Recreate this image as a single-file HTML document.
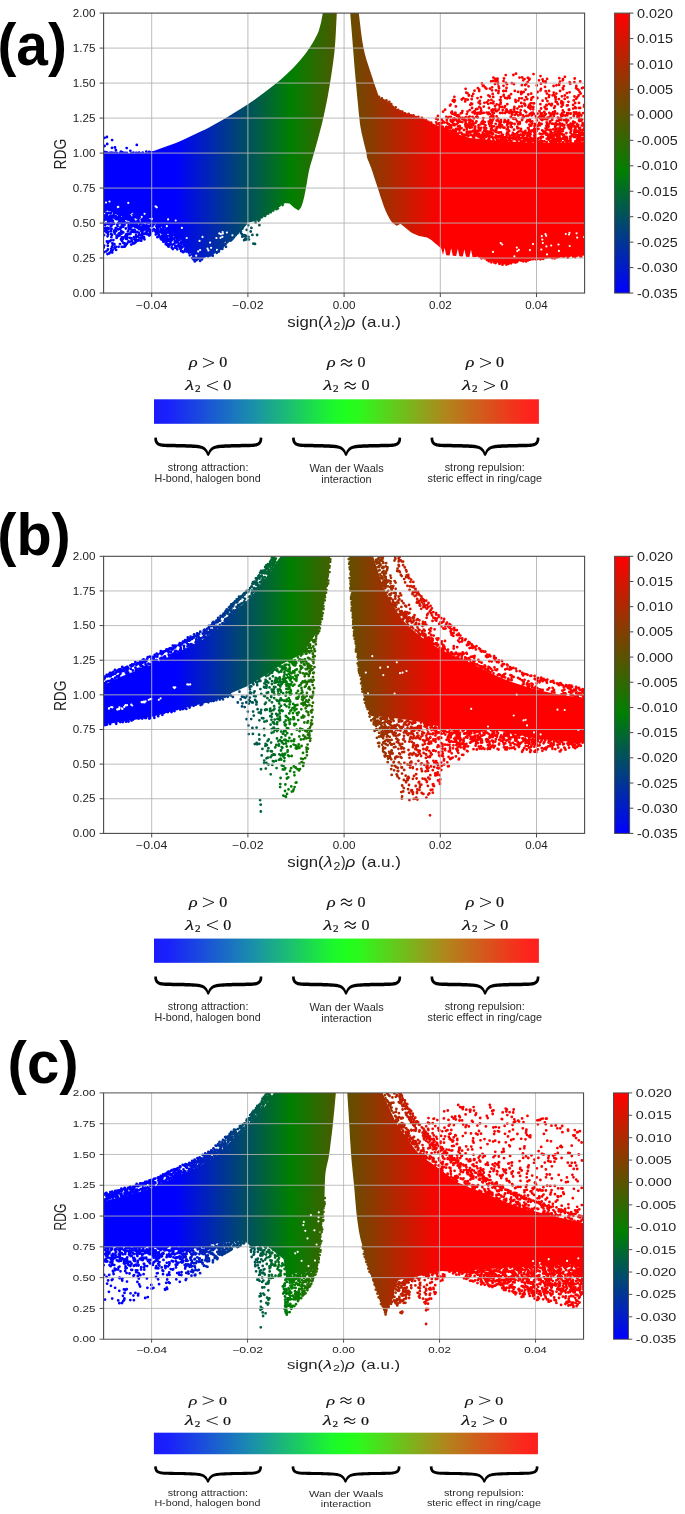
<!DOCTYPE html>
<html><head><meta charset="utf-8"><title>RDG scatter plots</title>
<style>html,body{margin:0;padding:0;background:#fff}svg{display:block;will-change:transform}</style></head><body>
<svg width="685" height="1514" viewBox="0 0 685 1514">
<defs>
<linearGradient id="cm" gradientUnits="userSpaceOnUse" x1="175.8" y1="0" x2="440.3" y2="0"><stop offset="0" stop-color="#0000ff"/><stop offset="0.436" stop-color="#008000"/><stop offset="1" stop-color="#ff0000"/></linearGradient>
<linearGradient id="cbar" x1="0" y1="1" x2="0" y2="0"><stop offset="0" stop-color="#0000ff"/><stop offset="0.436" stop-color="#008000"/><stop offset="1" stop-color="#ff0000"/></linearGradient>
<linearGradient id="lbar" x1="0" y1="0" x2="1" y2="0"><stop offset="0" stop-color="#1a1aff"/><stop offset="0.04" stop-color="#1a22fb"/><stop offset="0.25" stop-color="#1a8cae"/><stop offset="0.465" stop-color="#1cf82c"/><stop offset="0.5" stop-color="#1eff1e"/><stop offset="0.535" stop-color="#2ef81c"/><stop offset="0.75" stop-color="#ac8a1c"/><stop offset="0.96" stop-color="#fb281c"/><stop offset="1" stop-color="#ff1e1e"/></linearGradient>
<clipPath id="clip_a"><rect x="103.6" y="13.1" width="481" height="279.9"/></clipPath>
<clipPath id="clip_b"><rect x="103.6" y="556.3" width="481" height="277.1"/></clipPath>
<clipPath id="clip_c"><rect x="103.6" y="1092.9" width="479.9" height="246.3"/></clipPath>
<g id="deco"><path d="M151.7 13.1V293.05M247.9 13.1V293.05M344.1 13.1V293.05M440.3 13.1V293.05M536.5 13.1V293.05M103.6 258.06H584.6M103.6 223.06H584.6M103.6 188.07H584.6M103.6 153.08H584.6M103.6 118.08H584.6M103.6 83.09H584.6M103.6 48.09H584.6" stroke="#b4b4b4" stroke-width="0.9" fill="none"/>
<rect x="103.6" y="13.1" width="481" height="279.95" fill="none" stroke="#4a4a4a" stroke-width="1.1"/>
<path d="M151.7 293.05v4M247.9 293.05v4M344.1 293.05v4M440.3 293.05v4M536.5 293.05v4M103.6 293.05h-4M103.6 258.06h-4M103.6 223.06h-4M103.6 188.07h-4M103.6 153.08h-4M103.6 118.08h-4M103.6 83.09h-4M103.6 48.09h-4M103.6 13.1h-4" stroke="#4a4a4a" stroke-width="1" fill="none"/>
<text x="95.4" y="296.7" font-size="10" font-family='"Liberation Sans", sans-serif' fill="#222" text-anchor="end" textLength="22.6" lengthAdjust="spacingAndGlyphs" >0.00</text>
<text x="95.4" y="261.7" font-size="10" font-family='"Liberation Sans", sans-serif' fill="#222" text-anchor="end" textLength="22.6" lengthAdjust="spacingAndGlyphs" >0.25</text>
<text x="95.4" y="226.7" font-size="10" font-family='"Liberation Sans", sans-serif' fill="#222" text-anchor="end" textLength="22.6" lengthAdjust="spacingAndGlyphs" >0.50</text>
<text x="95.4" y="191.7" font-size="10" font-family='"Liberation Sans", sans-serif' fill="#222" text-anchor="end" textLength="22.6" lengthAdjust="spacingAndGlyphs" >0.75</text>
<text x="95.4" y="156.7" font-size="10" font-family='"Liberation Sans", sans-serif' fill="#222" text-anchor="end" textLength="22.6" lengthAdjust="spacingAndGlyphs" >1.00</text>
<text x="95.4" y="121.7" font-size="10" font-family='"Liberation Sans", sans-serif' fill="#222" text-anchor="end" textLength="22.6" lengthAdjust="spacingAndGlyphs" >1.25</text>
<text x="95.4" y="86.7" font-size="10" font-family='"Liberation Sans", sans-serif' fill="#222" text-anchor="end" textLength="22.6" lengthAdjust="spacingAndGlyphs" >1.50</text>
<text x="95.4" y="51.7" font-size="10" font-family='"Liberation Sans", sans-serif' fill="#222" text-anchor="end" textLength="22.6" lengthAdjust="spacingAndGlyphs" >1.75</text>
<text x="95.4" y="16.7" font-size="10" font-family='"Liberation Sans", sans-serif' fill="#222" text-anchor="end" textLength="22.6" lengthAdjust="spacingAndGlyphs" >2.00</text>
<text x="151.7" y="308.8" font-size="10" font-family='"Liberation Sans", sans-serif' fill="#222" text-anchor="middle" textLength="31.2" lengthAdjust="spacingAndGlyphs" >−0.04</text>
<text x="247.9" y="308.8" font-size="10" font-family='"Liberation Sans", sans-serif' fill="#222" text-anchor="middle" textLength="31.2" lengthAdjust="spacingAndGlyphs" >−0.02</text>
<text x="344.1" y="308.8" font-size="10" font-family='"Liberation Sans", sans-serif' fill="#222" text-anchor="middle" textLength="22.6" lengthAdjust="spacingAndGlyphs" >0.00</text>
<text x="440.3" y="308.8" font-size="10" font-family='"Liberation Sans", sans-serif' fill="#222" text-anchor="middle" textLength="22.6" lengthAdjust="spacingAndGlyphs" >0.02</text>
<text x="536.5" y="308.8" font-size="10" font-family='"Liberation Sans", sans-serif' fill="#222" text-anchor="middle" textLength="22.6" lengthAdjust="spacingAndGlyphs" >0.04</text>
<g transform="translate(66 169.5) rotate(-90)"><text x="0" y="0" font-size="16" font-family='"Liberation Sans", sans-serif' fill="#222" textLength="30.6" lengthAdjust="spacingAndGlyphs" >RDG</text></g>
<text x="287.3" y="326.8" font-size="14.6" font-family='"Liberation Sans", sans-serif' fill="#222" textLength="36.3" lengthAdjust="spacingAndGlyphs" >sign(</text>
<text x="323.9" y="326.8" font-size="14.6" font-family='"Liberation Sans", sans-serif' fill="#222" font-style="italic" textLength="8.6" lengthAdjust="spacingAndGlyphs" >λ</text>
<text x="333.5" y="329.6" font-size="10.4" font-family='"Liberation Sans", sans-serif' fill="#222" textLength="6.9" lengthAdjust="spacingAndGlyphs" >2</text>
<text x="340.9" y="326.8" font-size="14.6" font-family='"Liberation Sans", sans-serif' fill="#222" textLength="4.6" lengthAdjust="spacingAndGlyphs" >)</text>
<text x="345.6" y="326.8" font-size="14.6" font-family='"Liberation Sans", sans-serif' fill="#222" font-style="italic" textLength="9.8" lengthAdjust="spacingAndGlyphs" >ρ</text>
<text x="361.3" y="326.8" font-size="14.6" font-family='"Liberation Sans", sans-serif' fill="#222" textLength="39.6" lengthAdjust="spacingAndGlyphs" >(a.u.)</text>
<rect x="614.6" y="13.1" width="15.0" height="279.95" fill="url(#cbar)" stroke="#4a4a4a" stroke-width="1"/>
<text x="637" y="17.6" font-size="12.6" font-family='"Liberation Sans", sans-serif' fill="#222" textLength="36" lengthAdjust="spacingAndGlyphs" >0.020</text>
<text x="637" y="43.1" font-size="12.6" font-family='"Liberation Sans", sans-serif' fill="#222" textLength="36" lengthAdjust="spacingAndGlyphs" >0.015</text>
<text x="637" y="68.5" font-size="12.6" font-family='"Liberation Sans", sans-serif' fill="#222" textLength="36" lengthAdjust="spacingAndGlyphs" >0.010</text>
<text x="637" y="93.9" font-size="12.6" font-family='"Liberation Sans", sans-serif' fill="#222" textLength="36" lengthAdjust="spacingAndGlyphs" >0.005</text>
<text x="637" y="119.4" font-size="12.6" font-family='"Liberation Sans", sans-serif' fill="#222" textLength="36" lengthAdjust="spacingAndGlyphs" >0.000</text>
<text x="637" y="144.8" font-size="12.6" font-family='"Liberation Sans", sans-serif' fill="#222" textLength="40.6" lengthAdjust="spacingAndGlyphs" >-0.005</text>
<text x="637" y="170.3" font-size="12.6" font-family='"Liberation Sans", sans-serif' fill="#222" textLength="40.6" lengthAdjust="spacingAndGlyphs" >-0.010</text>
<text x="637" y="195.8" font-size="12.6" font-family='"Liberation Sans", sans-serif' fill="#222" textLength="40.6" lengthAdjust="spacingAndGlyphs" >-0.015</text>
<text x="637" y="221.2" font-size="12.6" font-family='"Liberation Sans", sans-serif' fill="#222" textLength="40.6" lengthAdjust="spacingAndGlyphs" >-0.020</text>
<text x="637" y="246.6" font-size="12.6" font-family='"Liberation Sans", sans-serif' fill="#222" textLength="40.6" lengthAdjust="spacingAndGlyphs" >-0.025</text>
<text x="637" y="272.1" font-size="12.6" font-family='"Liberation Sans", sans-serif' fill="#222" textLength="40.6" lengthAdjust="spacingAndGlyphs" >-0.030</text>
<text x="637" y="297.6" font-size="12.6" font-family='"Liberation Sans", sans-serif' fill="#222" textLength="40.6" lengthAdjust="spacingAndGlyphs" >-0.035</text>
<path d="M629.6 13.1h3.8M629.6 38.55h3.8M629.6 64h3.8M629.6 89.45h3.8M629.6 114.9h3.8M629.6 140.35h3.8M629.6 165.8h3.8M629.6 191.25h3.8M629.6 216.7h3.8M629.6 242.15h3.8M629.6 267.6h3.8M629.6 293.05h3.8" stroke="#4a4a4a" stroke-width="1" fill="none"/>
<rect x="154" y="399.3" width="384.9" height="24.5" fill="url(#lbar)"/>
<text x="189" y="367.4" font-size="15" font-family='"Liberation Serif", serif' fill="#111" font-style="italic" textLength="8.6" lengthAdjust="spacingAndGlyphs" stroke="#111" stroke-width="0.14">ρ</text>
<path d="M202.9 358.3L213.9 362.8L202.9 367.3" fill="none" stroke="#111" stroke-width="0.95" stroke-linejoin="miter"/>
<text x="219.3" y="367.4" font-size="14.2" font-family='"Liberation Serif", serif' fill="#111" textLength="8" lengthAdjust="spacingAndGlyphs" stroke="#111" stroke-width="0.2">0</text>
<text x="184.9" y="390.3" font-size="15.5" font-family='"Liberation Serif", serif' fill="#111" font-style="italic" textLength="9.2" lengthAdjust="spacingAndGlyphs" stroke="#111" stroke-width="0.14">λ</text>
<text x="194.9" y="392.4" font-size="10.2" font-family='"Liberation Serif", serif' fill="#111" textLength="5.6" lengthAdjust="spacingAndGlyphs" stroke="#111" stroke-width="0.2">2</text>
<path d="M218 381.2L207 385.7L218 390.2" fill="none" stroke="#111" stroke-width="0.95" stroke-linejoin="miter"/>
<text x="223.2" y="390.3" font-size="14.2" font-family='"Liberation Serif", serif' fill="#111" textLength="8" lengthAdjust="spacingAndGlyphs" stroke="#111" stroke-width="0.2">0</text>
<text x="326.9" y="367.4" font-size="15" font-family='"Liberation Serif", serif' fill="#111" font-style="italic" textLength="8.6" lengthAdjust="spacingAndGlyphs" stroke="#111" stroke-width="0.14">ρ</text>
<path d="M341 361.70C342.60 358.90 344.90 359.10 346.50 360.80S350.40 362.70 352.00 359.90M341 365.70C342.60 362.90 344.90 363.10 346.50 364.80S350.40 366.70 352.00 363.90" fill="none" stroke="#111" stroke-width="1.2" stroke-linejoin="miter"/>
<text x="357.5" y="367.4" font-size="14.2" font-family='"Liberation Serif", serif' fill="#111" textLength="8" lengthAdjust="spacingAndGlyphs" stroke="#111" stroke-width="0.2">0</text>
<text x="323.2" y="390.3" font-size="15.5" font-family='"Liberation Serif", serif' fill="#111" font-style="italic" textLength="9.2" lengthAdjust="spacingAndGlyphs" stroke="#111" stroke-width="0.14">λ</text>
<text x="333" y="392.4" font-size="10.2" font-family='"Liberation Serif", serif' fill="#111" textLength="5.6" lengthAdjust="spacingAndGlyphs" stroke="#111" stroke-width="0.2">2</text>
<path d="M344.7 384.60C346.30 381.80 348.60 382.00 350.20 383.70S354.10 385.60 355.70 382.80M344.7 388.60C346.30 385.80 348.60 386.00 350.20 387.70S354.10 389.60 355.70 386.80" fill="none" stroke="#111" stroke-width="1.2" stroke-linejoin="miter"/>
<text x="361.6" y="390.3" font-size="14.2" font-family='"Liberation Serif", serif' fill="#111" textLength="8" lengthAdjust="spacingAndGlyphs" stroke="#111" stroke-width="0.2">0</text>
<text x="465.7" y="367.4" font-size="15" font-family='"Liberation Serif", serif' fill="#111" font-style="italic" textLength="8.6" lengthAdjust="spacingAndGlyphs" stroke="#111" stroke-width="0.14">ρ</text>
<path d="M480 358.3L491 362.8L480 367.3" fill="none" stroke="#111" stroke-width="0.95" stroke-linejoin="miter"/>
<text x="496.1" y="367.4" font-size="14.2" font-family='"Liberation Serif", serif' fill="#111" textLength="8" lengthAdjust="spacingAndGlyphs" stroke="#111" stroke-width="0.2">0</text>
<text x="462" y="390.3" font-size="15.5" font-family='"Liberation Serif", serif' fill="#111" font-style="italic" textLength="9.2" lengthAdjust="spacingAndGlyphs" stroke="#111" stroke-width="0.14">λ</text>
<text x="471.9" y="392.4" font-size="10.2" font-family='"Liberation Serif", serif' fill="#111" textLength="5.6" lengthAdjust="spacingAndGlyphs" stroke="#111" stroke-width="0.2">2</text>
<path d="M483.9 381.2L494.9 385.7L483.9 390.2" fill="none" stroke="#111" stroke-width="0.95" stroke-linejoin="miter"/>
<text x="500.2" y="390.3" font-size="14.2" font-family='"Liberation Serif", serif' fill="#111" textLength="8" lengthAdjust="spacingAndGlyphs" stroke="#111" stroke-width="0.2">0</text>
<path d="M154.30 437.67L154.31 437.98L154.30 438.43L154.31 439.00L154.34 439.65L154.41 440.33L154.56 440.99L154.73 441.57L154.93 442.14L155.20 442.75L155.54 443.37L155.98 443.99L156.53 444.54L157.11 445.01L157.73 445.42L158.42 445.79L159.19 446.11L160.04 446.39L160.99 446.62L162.03 446.81L163.12 446.94L164.29 447.04L165.55 447.12L166.92 447.19L168.45 447.25L170.25 447.31L172.35 447.35L174.57 447.37L176.77 447.40L178.78 447.42L180.46 447.45L181.72 447.48L182.65 447.51L183.41 447.53L184.14 447.56L185.00 447.60L186.13 447.65L187.60 447.70L189.31 447.77L191.14 447.83L192.95 447.91L194.63 448.00L196.05 448.09L197.21 448.20L198.21 448.30L199.08 448.41L199.84 448.54L200.53 448.69L201.19 448.86L201.79 449.06L202.32 449.28L202.79 449.52L203.24 449.78L203.67 450.08L204.08 450.39L204.45 450.71L204.79 451.05L205.11 451.42L205.42 451.83L205.73 452.27L206.01 452.67L206.27 453.13L206.55 453.74L206.82 454.41L207.09 455.04L207.39 455.61L208.20 456.10L209.01 455.61L209.31 455.04L209.58 454.41L209.85 453.74L210.13 453.13L210.39 452.67L210.67 452.27L210.98 451.83L211.29 451.42L211.61 451.05L211.95 450.71L212.32 450.39L212.73 450.08L213.16 449.78L213.61 449.52L214.08 449.28L214.61 449.06L215.21 448.86L215.87 448.69L216.56 448.54L217.32 448.41L218.19 448.30L219.19 448.20L220.35 448.09L221.77 447.99L223.44 447.91L225.25 447.83L227.07 447.77L228.79 447.70L230.27 447.65L231.43 447.60L232.32 447.56L233.09 447.53L233.88 447.51L234.85 447.48L236.13 447.45L237.83 447.42L239.85 447.40L242.04 447.37L244.26 447.35L246.35 447.31L248.15 447.25L249.68 447.19L251.05 447.12L252.31 447.04L253.48 446.94L254.57 446.81L255.61 446.62L256.56 446.39L257.41 446.11L258.18 445.79L258.87 445.42L259.49 445.01L260.07 444.54L260.62 443.99L261.06 443.37L261.40 442.75L261.67 442.14L261.87 441.57L262.04 440.99L262.19 440.33L262.26 439.65L262.29 439.00L262.30 438.43L262.29 437.98L262.30 437.67L259.70 437.53L259.67 437.88L259.65 438.34L259.61 438.85L259.55 439.36L259.47 439.82L259.36 440.21L259.20 440.61L259.02 441.04L258.83 441.42L258.63 441.75L258.40 442.02L258.13 442.26L257.78 442.49L257.38 442.71L256.92 442.90L256.39 443.07L255.75 443.23L254.99 443.38L254.13 443.49L253.18 443.57L252.11 443.63L250.91 443.67L249.55 443.71L248.05 443.75L246.27 443.80L244.20 443.83L242.00 443.86L239.80 443.89L237.78 443.92L236.07 443.95L234.77 443.98L233.78 444.00L232.96 444.03L232.17 444.06L231.27 444.10L230.13 444.15L228.65 444.22L226.94 444.29L225.10 444.37L223.26 444.46L221.54 444.57L220.05 444.71L218.80 444.86L217.72 445.02L216.74 445.20L215.85 445.41L215.01 445.65L214.19 445.94L213.41 446.27L212.69 446.65L212.05 447.06L211.48 447.49L210.97 447.94L210.48 448.41L210.02 448.93L209.60 449.47L209.25 450.03L208.94 450.58L208.67 451.14L208.41 451.73L208.18 452.43L208.03 453.21L207.92 453.94L207.83 454.54L207.77 454.86L208.20 454.70L208.63 454.86L208.57 454.54L208.48 453.94L208.37 453.21L208.22 452.43L207.99 451.73L207.73 451.14L207.46 450.58L207.15 450.03L206.80 449.47L206.38 448.93L205.92 448.41L205.43 447.94L204.92 447.49L204.35 447.06L203.71 446.65L202.99 446.27L202.21 445.94L201.39 445.65L200.55 445.41L199.66 445.20L198.68 445.02L197.60 444.86L196.35 444.71L194.86 444.57L193.13 444.46L191.29 444.37L189.45 444.29L187.74 444.22L186.27 444.15L185.15 444.10L184.29 444.06L183.54 444.03L182.76 444.00L181.81 443.98L180.54 443.95L178.84 443.92L176.81 443.89L174.62 443.86L172.41 443.83L170.34 443.80L168.55 443.75L167.05 443.71L165.69 443.67L164.49 443.63L163.42 443.57L162.47 443.49L161.61 443.38L160.85 443.23L160.21 443.07L159.68 442.90L159.22 442.71L158.82 442.49L158.47 442.26L158.20 442.02L157.97 441.75L157.77 441.42L157.58 441.04L157.40 440.61L157.24 440.21L157.13 439.82L157.05 439.36L156.99 438.85L156.95 438.34L156.93 437.88L156.90 437.53Z" fill="#000"/>
<path d="M292.10 437.67L292.11 437.98L292.10 438.43L292.11 439.00L292.14 439.65L292.21 440.33L292.36 440.99L292.53 441.57L292.73 442.14L293.00 442.75L293.34 443.37L293.78 443.99L294.33 444.54L294.91 445.01L295.53 445.42L296.22 445.79L296.99 446.11L297.84 446.39L298.79 446.62L299.83 446.81L300.92 446.94L302.09 447.04L303.35 447.12L304.72 447.19L306.25 447.25L308.05 447.31L310.15 447.35L312.37 447.37L314.57 447.40L316.58 447.42L318.26 447.45L319.52 447.48L320.45 447.51L321.21 447.53L321.94 447.56L322.80 447.60L323.93 447.65L325.40 447.70L327.11 447.77L328.94 447.83L330.75 447.91L332.43 448.00L333.85 448.09L335.01 448.20L336.01 448.30L336.88 448.41L337.64 448.54L338.33 448.69L338.99 448.86L339.59 449.06L340.12 449.28L340.59 449.52L341.04 449.78L341.47 450.08L341.88 450.39L342.25 450.71L342.59 451.05L342.91 451.42L343.22 451.83L343.53 452.27L343.81 452.67L344.07 453.13L344.35 453.74L344.62 454.41L344.89 455.04L345.19 455.61L346.00 456.10L346.81 455.61L347.11 455.04L347.38 454.41L347.65 453.74L347.93 453.13L348.19 452.67L348.47 452.27L348.78 451.83L349.09 451.42L349.41 451.05L349.75 450.71L350.12 450.39L350.53 450.08L350.96 449.78L351.41 449.52L351.88 449.28L352.41 449.06L353.01 448.86L353.67 448.69L354.36 448.54L355.12 448.41L355.99 448.30L356.99 448.20L358.15 448.09L359.56 447.99L361.21 447.91L362.99 447.83L364.80 447.77L366.53 447.70L368.07 447.65L369.34 447.60L370.40 447.56L371.37 447.53L372.38 447.51L373.53 447.48L374.93 447.45L376.69 447.42L378.72 447.40L380.90 447.37L383.09 447.35L385.16 447.31L386.96 447.25L388.48 447.19L389.85 447.12L391.11 447.04L392.28 446.94L393.37 446.81L394.41 446.62L395.36 446.39L396.21 446.11L396.98 445.79L397.67 445.42L398.29 445.01L398.87 444.54L399.42 443.99L399.86 443.37L400.20 442.75L400.47 442.14L400.67 441.57L400.84 440.99L400.99 440.33L401.06 439.65L401.09 439.00L401.10 438.43L401.09 437.98L401.10 437.67L398.50 437.53L398.47 437.88L398.45 438.34L398.41 438.85L398.35 439.36L398.27 439.82L398.16 440.21L398.00 440.61L397.82 441.04L397.63 441.42L397.43 441.75L397.20 442.02L396.93 442.26L396.58 442.49L396.18 442.71L395.72 442.90L395.19 443.07L394.55 443.23L393.79 443.38L392.93 443.49L391.98 443.57L390.91 443.63L389.71 443.67L388.35 443.71L386.84 443.75L385.08 443.80L383.04 443.83L380.86 443.86L378.68 443.89L376.63 443.92L374.87 443.95L373.45 443.98L372.30 444.00L371.28 444.03L370.28 444.06L369.20 444.10L367.93 444.15L366.39 444.22L364.66 444.29L362.84 444.37L361.02 444.46L359.32 444.57L357.85 444.71L356.60 444.86L355.52 445.02L354.54 445.20L353.65 445.41L352.81 445.65L351.99 445.94L351.21 446.27L350.49 446.65L349.85 447.06L349.28 447.49L348.77 447.94L348.28 448.41L347.82 448.93L347.40 449.47L347.05 450.03L346.74 450.58L346.47 451.14L346.21 451.73L345.98 452.43L345.83 453.21L345.72 453.94L345.63 454.54L345.57 454.86L346.00 454.70L346.43 454.86L346.37 454.54L346.28 453.94L346.17 453.21L346.02 452.43L345.79 451.73L345.53 451.14L345.26 450.58L344.95 450.03L344.60 449.47L344.18 448.93L343.72 448.41L343.23 447.94L342.72 447.49L342.15 447.06L341.51 446.65L340.79 446.27L340.01 445.94L339.19 445.65L338.35 445.41L337.46 445.20L336.48 445.02L335.40 444.86L334.15 444.71L332.66 444.57L330.93 444.46L329.09 444.37L327.25 444.29L325.54 444.22L324.07 444.15L322.95 444.10L322.09 444.06L321.34 444.03L320.56 444.00L319.61 443.98L318.34 443.95L316.64 443.92L314.61 443.89L312.42 443.86L310.21 443.83L308.14 443.80L306.35 443.75L304.85 443.71L303.49 443.67L302.29 443.63L301.22 443.57L300.27 443.49L299.41 443.38L298.65 443.23L298.01 443.07L297.48 442.90L297.02 442.71L296.62 442.49L296.27 442.26L296.00 442.02L295.77 441.75L295.57 441.42L295.38 441.04L295.20 440.61L295.04 440.21L294.93 439.82L294.85 439.36L294.79 438.85L294.75 438.34L294.73 437.88L294.70 437.53Z" fill="#000"/>
<path d="M430.60 437.67L430.61 437.98L430.60 438.43L430.61 439.00L430.64 439.65L430.71 440.33L430.86 440.99L431.03 441.57L431.23 442.14L431.50 442.75L431.84 443.37L432.28 443.99L432.83 444.54L433.41 445.01L434.03 445.42L434.72 445.79L435.49 446.11L436.34 446.39L437.29 446.62L438.33 446.81L439.42 446.94L440.59 447.04L441.85 447.12L443.22 447.19L444.74 447.25L446.55 447.31L448.63 447.35L450.83 447.37L453.02 447.40L455.05 447.42L456.77 447.45L458.10 447.48L459.14 447.51L460.02 447.53L460.87 447.56L461.83 447.60L463.03 447.65L464.54 447.70L466.26 447.77L468.07 447.83L469.87 447.91L471.53 447.99L472.95 448.09L474.11 448.20L475.11 448.30L475.98 448.41L476.74 448.54L477.43 448.69L478.09 448.86L478.69 449.06L479.22 449.28L479.69 449.52L480.14 449.78L480.57 450.08L480.98 450.39L481.35 450.71L481.69 451.05L482.01 451.42L482.32 451.83L482.63 452.27L482.91 452.67L483.17 453.13L483.45 453.74L483.72 454.41L483.99 455.04L484.29 455.61L485.10 456.10L485.91 455.61L486.21 455.04L486.48 454.41L486.75 453.74L487.03 453.13L487.29 452.67L487.57 452.27L487.88 451.83L488.19 451.42L488.51 451.05L488.85 450.71L489.22 450.39L489.63 450.08L490.06 449.78L490.51 449.52L490.98 449.28L491.51 449.06L492.11 448.86L492.77 448.69L493.46 448.54L494.22 448.41L495.09 448.30L496.09 448.20L497.25 448.09L498.67 447.99L500.33 447.91L502.14 447.83L503.96 447.77L505.68 447.70L507.17 447.65L508.35 447.60L509.27 447.56L510.08 447.53L510.92 447.51L511.93 447.48L513.23 447.45L514.94 447.42L516.96 447.40L519.15 447.37L521.36 447.35L523.45 447.31L525.25 447.25L526.78 447.19L528.15 447.12L529.41 447.04L530.58 446.94L531.67 446.81L532.71 446.62L533.66 446.39L534.51 446.11L535.28 445.79L535.97 445.42L536.59 445.01L537.17 444.54L537.72 443.99L538.16 443.37L538.50 442.75L538.77 442.14L538.97 441.57L539.14 440.99L539.29 440.33L539.36 439.65L539.39 439.00L539.40 438.43L539.39 437.98L539.40 437.67L536.80 437.53L536.77 437.88L536.75 438.34L536.71 438.85L536.65 439.36L536.57 439.82L536.46 440.21L536.30 440.61L536.12 441.04L535.93 441.42L535.73 441.75L535.50 442.02L535.23 442.26L534.88 442.49L534.48 442.71L534.02 442.90L533.49 443.07L532.85 443.23L532.09 443.38L531.23 443.49L530.28 443.57L529.21 443.63L528.01 443.67L526.65 443.71L525.15 443.75L523.37 443.80L521.31 443.83L519.11 443.86L516.92 443.89L514.89 443.92L513.17 443.95L511.85 443.98L510.83 444.00L509.97 444.03L509.14 444.06L508.20 444.10L507.03 444.15L505.54 444.22L503.82 444.29L501.99 444.37L500.15 444.46L498.43 444.57L496.95 444.71L495.70 444.86L494.62 445.02L493.64 445.20L492.75 445.41L491.91 445.65L491.09 445.94L490.31 446.27L489.59 446.65L488.95 447.06L488.38 447.49L487.87 447.94L487.38 448.41L486.92 448.93L486.50 449.47L486.15 450.03L485.84 450.58L485.57 451.14L485.31 451.73L485.08 452.43L484.93 453.21L484.82 453.94L484.73 454.54L484.67 454.86L485.10 454.70L485.53 454.86L485.47 454.54L485.38 453.94L485.27 453.21L485.12 452.43L484.89 451.73L484.63 451.14L484.36 450.58L484.05 450.03L483.70 449.47L483.28 448.93L482.82 448.41L482.33 447.94L481.82 447.49L481.25 447.06L480.61 446.65L479.89 446.27L479.11 445.94L478.29 445.65L477.45 445.41L476.56 445.20L475.58 445.02L474.50 444.86L473.25 444.71L471.77 444.57L470.05 444.46L468.23 444.37L466.39 444.29L464.67 444.22L463.17 444.15L461.97 444.10L461.00 444.06L460.13 444.03L459.23 444.00L458.18 443.98L456.83 443.95L455.10 443.92L453.07 443.89L450.88 443.86L448.68 443.83L446.63 443.80L444.86 443.75L443.35 443.71L441.99 443.67L440.79 443.63L439.72 443.57L438.77 443.49L437.91 443.38L437.15 443.23L436.51 443.07L435.98 442.90L435.52 442.71L435.12 442.49L434.77 442.26L434.50 442.02L434.27 441.75L434.07 441.42L433.88 441.04L433.70 440.61L433.54 440.21L433.43 439.82L433.35 439.36L433.29 438.85L433.25 438.34L433.23 437.88L433.20 437.53Z" fill="#000"/>
<text x="208.1" y="471.1" font-size="10.7" font-family='"Liberation Sans", sans-serif' fill="#2a2a2a" text-anchor="middle" textLength="80.6" lengthAdjust="spacingAndGlyphs" >strong attraction:</text>
<text x="207.6" y="482.3" font-size="10.7" font-family='"Liberation Sans", sans-serif' fill="#2a2a2a" text-anchor="middle" textLength="106.2" lengthAdjust="spacingAndGlyphs" >H-bond, halogen bond</text>
<text x="346.6" y="472.1" font-size="10.7" font-family='"Liberation Sans", sans-serif' fill="#2a2a2a" text-anchor="middle" textLength="74.4" lengthAdjust="spacingAndGlyphs" >Wan der Waals</text>
<text x="346.5" y="483.4" font-size="10.7" font-family='"Liberation Sans", sans-serif' fill="#2a2a2a" text-anchor="middle" textLength="50.3" lengthAdjust="spacingAndGlyphs" >interaction</text>
<text x="484.8" y="471.1" font-size="10.7" font-family='"Liberation Sans", sans-serif' fill="#2a2a2a" text-anchor="middle" textLength="80.2" lengthAdjust="spacingAndGlyphs" >strong repulsion:</text>
<text x="484.8" y="482.3" font-size="10.7" font-family='"Liberation Sans", sans-serif' fill="#2a2a2a" text-anchor="middle" textLength="114.4" lengthAdjust="spacingAndGlyphs" >steric effect in ring/cage</text></g>
</defs>
<rect width="685" height="1514" fill="#fff"/>
<text x="-2.6" y="65.3" font-size="59.5" font-family='"Liberation Sans", sans-serif' fill="#000" font-weight="bold" textLength="69.5" lengthAdjust="spacingAndGlyphs" >(a)</text>
<text x="-2.8" y="554.6" font-size="59.5" font-family='"Liberation Sans", sans-serif' fill="#000" font-weight="bold" textLength="73.6" lengthAdjust="spacingAndGlyphs" >(b)</text>
<text x="7.6" y="1082.7" font-size="59.5" font-family='"Liberation Sans", sans-serif' fill="#000" font-weight="bold" textLength="71" lengthAdjust="spacingAndGlyphs" >(c)</text>
<g clip-path="url(#clip_a)">
<path d="M103.6 152.5L140 153.5L151.6 151.6L155 150.4L159.8 148.7L165.4 146.8L171 144.8L175.9 142.9L180 141.2L183.9 139.5L187.6 137.8L191.2 136.1L194.9 134.3L198.5 132.6L201.8 131.1L205.2 129.4L209.1 127.4L213.9 124.8L219.8 121.4L226.7 117.4L233.9 113.1L241.2 108.6L247.9 104.3L254.2 100L260.3 95.6L266.3 91.1L271.8 86.8L276.9 82.7L281.4 78.9L285.5 75.3L289.2 71.8L292.6 68.4L295.9 65L299 61.6L301.8 58.3L304.4 55L306.9 51.7L309.2 48.3L311.4 44.9L313.5 41.6L315.4 38.1L317.2 34.6L318.7 30.9L320 26.6L321.2 21.8L322.1 17.1L322.8 13L323.4 10.1L336.9 10.1L336.7 15.3L336.3 22.7L335.9 31.3L335.4 40L334.8 48L334.1 55.1L333.2 62.1L332.2 69L331.2 75.8L330.1 82.7L328.9 89.7L327.7 96.7L326.3 103.7L324.9 110.6L323.4 117.6L321.7 124.8L319.7 132.2L317.8 139.5L315.9 146.2L314.3 152L313 156.6L311.9 160.2L310.9 163.2L310.1 166.3L309.2 169.7L308.4 173.7L307.6 178.1L306.9 182.4L306.2 186.5L305.6 190L305 192.9L304.5 195.3L304.1 197.4L303.6 199.2L303.2 201L302.7 202.7L302.2 204.2L301.7 205.6L301.3 206.7L301 207.5L298.6 210.6L294.5 208L289.5 203.5L284 203L276.9 208.5L265.5 215.5L258 220.5L248.5 222.5L243 229L236 236L228 243L221.6 249.5L213.9 254L205 257.5L194.9 261.5L190 253L184 243L172 232L151.6 222L130 214L103.6 210Z" fill="url(#cm)"/>
<path d="M350 10.1L350.4 15.3L351 22.7L351.7 31.3L352.4 40L353 48L353.6 55.1L354.1 62.1L354.7 69L355.3 75.8L355.9 82.7L356.6 90.1L357.3 97.8L358.1 105.4L358.7 112.2L359.3 117.6L359.7 121.2L359.9 123.3L360.1 124.6L360.3 125.9L360.6 127.7L361.1 130.2L361.6 132.9L362.3 135.7L362.9 138.4L363.5 141L364.1 143.5L364.7 145.9L365.3 148.3L365.9 150.4L366.3 152.3L366.6 153.8L366.7 154.9L366.8 155.9L366.9 157L367.3 158.3L367.8 159.8L368.5 161.3L369.2 163.1L370.1 165.2L371.1 167.8L372.2 171.1L373.5 175L374.9 179.2L376.3 183.6L377.7 187.7L379 191.8L380.3 196L381.7 200.1L383 204L384.3 207.6L385.6 210.8L387 213.8L388.4 216.5L389.7 218.9L391 220.9L392.3 222.5L393.6 223.7L394.9 224.5L395.9 225.2L396.7 225.7L400.5 223.8L410.9 232.3L411.9 232.8L413.3 233.5L415 234.3L416.7 235L418.5 235.7L420.3 236.2L422.3 236.5L424.2 236.9L426.2 237.3L428 238L429.7 238.9L431.3 240.1L432.8 241.3L434.2 242.6L435.6 243.7L437 244.8L438.3 245.9L439.5 246.9L440.6 247.8L441.3 248.4L443 255L444.6 247.8L446.2 255.3L449.6 255.5L451.2 248.3L452.8 255.8L456.2 255.9L457.8 248.7L459.4 256.2L462.8 256.4L464.4 249.2L466 256.7L469.4 256.9L471 249.7L472.6 257.2L480 256.5L490.5 261.3L504.3 264.6L520 261.3L536.8 258.9L553.5 257.7L584.6 255.4L584.6 142L540 143L500 141L470 138L450 132L440 126.5L431.8 122.9L418.5 117.2L398.6 110.6L388.1 101.7L379 97.3L378.1 94.6L376.8 90.8L375.2 86.3L373.6 81.4L372 76.4L370.3 71.4L368.5 66L366.7 60.4L365 54.4L363.5 48L362.2 40.4L361 31.7L360 23L359.1 15.4L358.5 10.1Z" fill="url(#cm)"/>
<path d="M217 249.9h0M216.4 238h0M199.5 240.9h0M211.1 247.8h0M198.2 251.4h0M186.7 238h0M220.5 237.8h0M196.2 255.7h0M220.9 234.2h0M219.3 233.4h0M222.9 233.6h0M222.6 232h0M232.4 235.3h0M207.5 248.6h0M222.4 236.8h0M208.4 250.4h0M200.1 250h0M226.9 232.5h0M210.1 242.6h0M225.6 242.9h0M247.9 223.7h0M202.5 236.9h0M155.6 206.4h0M117.8 207.1h0M132.9 215.9h0M132.4 213.8h0M109.5 201.5h0M156.8 207.3h0M150 219.4h0M166.8 226.2h0M106 202.5h0M128.3 202.9h0M118.3 206.9h0M181.9 227.9h0M151.9 218.9h0M175.7 220.5h0M141.7 216.9h0M168.1 219.4h0M144.6 213.8h0M576.6 233.3h0M546.2 235.8h0M584.1 237.1h0M565.8 234h0M541.8 236.2h0M533 244.1h0M529.9 250.1h0M551.2 245.5h0M542.3 239.6h0M545.5 234.2h0M541.3 249.5h0M569 234.5h0M546.4 246.4h0M558.5 244.5h0M542.8 243h0M547 254.4h0M569.7 246h0M569.5 232.8h0M577.2 237.6h0M558.9 250.9h0M514.4 256.3h0M502.2 244.5h0M516.8 247.6h0M493 251.9h0M518.8 249.8h0M517.3 251.1h0M500.7 243.1h0" stroke="#fff" stroke-width="2.20" stroke-linecap="round" fill="none"/>
<path d="M171.9 233.1h0M174.7 234.5h0M175.4 236.3h0M176.3 237.6h0M179 239.9h0M179.4 240.2h0M181.1 243h0M184.2 242.7h0M186.1 246.8h0M186.5 247.9h0M186.5 248.4h0M188.6 250.4h0M188.9 252.8h0M189.8 255.3h0M192.1 258.1h0M193.5 259.4h0M194.8 261.4h0M196.7 260h0M200.1 260.9h0M201.9 259.4h0M202.8 257.5h0M204.8 256.3h0M208.1 256.3h0M210.4 255.4h0M212.8 255.7h0M212.6 253.3h0M216.8 252.8h0M218.9 251.5h0M218.7 250.9h0M222.3 248.9h0M222.3 247.4h0M226 246.8h0M225.5 244h0M227.1 241.9h0M230.5 240.7h0M231.6 239.8h0M232.4 239h0M234 237.3h0M235.6 235.2h0M237.5 233.3h0M240.9 232.9h0M240.9 231.5h0M242.3 228.7h0M258.6 220.7h0M259.5 219.8h0M261.9 217.2h0M265 215.9h0M266.4 214.1h0M268.3 213.5h0M270.8 212.2h0M273.2 210.6h0M276.4 209.2h0M277.9 208.4h0M279.4 205.6h0M282.6 205.1h0M283.6 202.5h0M139.1 152.7h0M113 152.9h0M105.5 153.2h0M115 147.5h0M115.9 150.1h0M112 147.8h0M106.9 137h0M130.4 150.8h0M104.4 137.9h0M112.1 140.1h0M121 151.6h0M136.8 144.9h0M104.5 152h0M137.2 153.2h0M104.6 146h0M126.7 148.1h0M118.9 154h0M107.2 144h0M104.1 152.8h0M106.7 152.5h0M109.5 153h0M111.3 152.6h0M115.1 153h0M116.8 152.9h0M120.4 152.6h0M122.6 152.3h0M125.1 152.8h0M126.8 152.9h0M131.3 153.5h0M133.4 152.6h0M136.1 153h0M138.2 153.6h0M140.2 153.4h0M142.7 152.7h0M146.3 151.6h0M149.3 151.8h0M151.8 152.3h0M129.6 241.9h0M131.8 241.3h0M182.6 251.7h0M154 224.3h0M127.5 217.2h0M127.4 219.4h0M157.7 233h0M106.3 251.3h0M164.8 236.7h0M115.3 231.1h0M115.8 211.3h0M119.1 222.2h0M163.8 234.2h0M170 232.6h0M115.7 216.2h0M111 219.7h0M152 224.1h0M131 218.3h0M120.4 220h0M112.7 244.4h0M147.7 221.2h0M149.4 230.2h0M139.3 234.7h0M105.1 218.7h0M119.9 212.4h0M140.8 238.1h0M138.6 218.5h0M180.8 247.9h0M178 239.5h0M133.1 231.7h0M160.6 236.6h0M125.8 228.5h0M120.5 227.2h0M107.5 254.1h0M135.2 222.9h0M152 222.8h0M181.1 245.3h0M174.2 238.3h0M157.5 231.1h0M108.1 234.6h0M143 221.7h0M171.4 239.3h0M182.7 251.6h0M108.9 222.1h0M158.1 227.1h0M122 241.1h0M128 215.9h0M134.9 226.7h0M137.8 227.8h0M110.9 213h0M168 240.5h0M161.7 232.9h0M158.9 234.4h0M136 217.1h0M108.7 224h0M119.1 212h0M106.7 214.3h0M122.4 220.4h0M119.6 222.6h0M145.3 219.7h0M185.5 247.9h0M149.2 234h0M165.2 238.4h0M117.2 224.6h0M126.6 234.9h0M126.9 243.8h0M111.5 249.1h0M150.5 234.5h0M134.7 242.3h0M175.3 240.7h0M136.1 235.2h0M125.8 218.7h0M111.6 215.8h0M123.2 216.6h0M136.9 225.1h0M160.6 238.5h0M132.2 225.6h0M151 226.1h0M120.7 213h0M134.8 231.5h0M119.6 235.6h0M105 218.7h0M118.6 234.2h0M152.7 225.1h0M106.9 241.5h0M144.2 229h0M166.8 238h0M129.9 237.8h0M163.6 234.5h0M130.1 228.2h0M103.6 220.8h0M180.9 248.5h0M134.4 237.4h0M121.1 239.7h0M181.4 251.2h0M122.9 223.9h0M120.6 217.8h0M149.2 234.7h0M124.8 222.5h0M118.6 246.8h0M171.6 247.4h0M145.9 219.7h0M119.2 216.4h0M146.5 230.1h0M124.2 216.1h0M149 221.8h0M111.2 248.8h0M125.6 216.8h0M175.4 247.2h0M139.1 226.7h0M115.8 228.1h0M169.5 244.6h0M125.5 235.8h0M138.4 240.5h0M122.2 225.8h0M121.2 219.4h0M121.3 227.6h0M119.3 221.7h0M183.4 243.7h0M105.4 224.6h0M170.2 234.2h0M137.6 220.6h0M116.6 237.9h0M166.3 241.3h0M121.3 222.6h0M123.1 223.2h0M186.1 251.1h0M140.6 228h0M136.7 224.9h0M127.8 216.7h0M111.6 225.6h0M105.6 228h0M109 228.6h0M131.7 221.3h0M152.5 221.7h0M170.3 239.4h0M139.1 229.2h0M106.9 215.6h0M116.5 218.3h0M157.3 232.8h0M135.5 222.9h0M149.7 220.5h0M131.7 217.6h0M114.5 212.1h0M112.4 243.2h0M108.2 221.3h0M136.2 241.5h0M163 229.3h0M150.5 232.4h0M116.3 217.5h0M123.3 232.4h0M110.4 217.9h0M105.9 217.2h0M130.4 233.9h0M172.1 244.7h0M137.2 226.9h0M158.7 226.2h0M112.7 215.9h0M147 228.6h0M119 222.3h0M177.6 239.5h0M176 242.5h0M161.1 229.3h0M157.8 230.7h0M178.8 243.5h0M120.5 222.6h0M177.5 246.4h0M181.9 247.6h0M161.3 229.9h0M132.9 224.3h0M119.2 215.2h0M156.3 226.3h0M130.4 228.8h0M155.5 230.7h0M139.8 222.6h0M163.6 241.6h0M177.1 237.6h0M112.2 252.5h0M134.9 231.5h0M143.5 228.5h0M121.7 226.9h0M110.8 217.1h0M113.9 231.7h0M111.2 233.8h0M112.6 250.2h0M167.1 243.6h0M107.6 229.2h0M134.6 229.9h0M107.9 249.5h0M149.2 235.6h0M122.8 213.8h0M130.8 232.5h0M168.4 232.6h0M111.6 221.2h0M128.3 242h0M171.7 240.2h0M184.3 245.5h0M142.3 230.2h0M131.2 244.6h0M106.3 229.9h0M112.7 245h0M133.5 216.9h0M165.5 230h0M145.7 220.2h0M151.3 225.2h0M112 247h0M150 221.3h0M125.4 215.4h0M127.2 222.8h0M183 246.6h0M142.7 227h0M152.5 225.9h0M109.8 252.7h0M171.4 234.3h0M149.1 226.2h0M187.9 249.4h0M132.6 225.8h0M118.8 216.3h0M132.4 220.6h0M126.1 234.4h0M123.7 223.6h0M136.4 222.9h0M109.2 253.4h0M120.2 215.6h0M142.8 227.1h0M109.8 218h0M107.9 223.9h0M110.6 219.8h0M108.1 216.9h0M104.9 223.8h0M144.5 239.3h0M153.8 229.2h0M128.5 217.3h0M123.9 237.3h0M148 227.4h0M146.5 222.1h0M158.2 231.4h0M175.2 247.7h0M145.9 232.4h0M133.2 218.5h0M109.2 241.4h0M188.5 251.3h0M114.4 244.2h0M146.1 227.6h0M163.6 234h0M127.2 218.1h0M132.4 222.5h0M125.2 218.7h0M124.5 224.9h0M139.4 228.7h0M169.5 235.9h0M116.6 235.7h0M165.8 244.2h0M169.9 240.4h0M143.1 230h0M108.3 232h0M114 223.8h0M164.8 230.7h0M141.3 231h0M157.5 228.9h0M170.4 231.1h0M141.2 240.7h0M133.1 243.5h0M126 238.8h0M136.4 222.3h0M136 240.9h0M119 214.7h0M172.2 244.8h0M122.5 232h0M122.8 239.1h0M182.7 241.8h0M134.3 243.3h0M123.2 226.7h0M176.3 235.3h0M111.8 211.1h0M131.5 231.7h0M152.1 226.3h0M125.1 223.2h0M144.1 233.8h0M180.2 245.6h0M146.8 229h0M105.5 223.6h0M172.4 239.1h0M175.8 242.2h0M167.9 231h0M150.6 234h0M142.2 235.4h0M105.1 219.7h0M174 244.1h0M115.7 218.8h0M125.4 243.7h0M119.7 220.5h0M161.5 239.5h0M165.6 232.9h0M146.1 227.6h0M135.7 225h0M169.8 236.4h0M120 244.1h0M169.4 244h0M106.8 214.5h0M120.1 214.4h0M137.1 232h0M128.2 223.2h0M115 246.9h0M131.5 238.4h0M135.2 242.6h0M151.7 225.5h0M103.7 209.1h0M140 224.4h0M121.1 238.9h0M106.7 229.1h0M166.7 236.8h0M112.1 210.7h0M174.8 242.2h0M113.4 240.1h0M117.6 212.1h0M133.4 214.8h0M158.3 231.7h0M144.8 221.8h0M147.6 233.8h0M138 232.3h0M169.6 230.6h0M142.1 238.3h0M116 246.8h0M181.4 247.3h0M121.6 240.2h0M157 224.5h0M181.7 247.6h0M151.3 224.4h0M167.9 245.8h0M166.5 231.5h0M135.1 226.9h0M159.6 227.2h0M137 240.2h0M134.1 232h0M128.7 229.6h0M131.8 218.3h0M114.5 248.2h0M111.6 228.9h0M169.1 240.3h0M170.8 241.5h0M149.4 229.1h0M111.6 216h0M161.2 229h0M121.2 231.4h0M115.5 218.6h0M114 217h0M134.1 220.7h0M141.4 231.2h0M107.5 227.8h0M106.4 212.9h0M185 249.6h0M131 226.9h0M136.6 217.6h0M110.8 218.2h0M170 244.7h0M142.6 226.2h0M181.2 251h0M108 222.9h0M109.8 220.9h0M133 220h0M138.2 236.4h0M146.1 227.3h0M108.1 223.4h0M141.9 234.5h0M146.2 225.7h0M166.3 241.7h0M168.6 238.9h0M117.8 236.3h0M168.7 232.7h0M104.2 219.9h0M179.5 246.7h0M106.5 232.3h0M114.3 230.6h0M111.4 219.2h0M169.9 233.7h0M131.6 240h0M135.4 240h0M143.5 218.9h0M162.4 235.6h0M103.9 228.3h0M123.2 219.7h0M178.6 238.5h0M156.6 226.2h0M109.8 241.2h0M178.2 238.7h0M137.7 222.3h0M112 223.8h0M126.6 234.9h0M178.5 244.9h0M122.4 223.7h0M111.4 237.2h0M103.7 247.5h0M180.2 248.7h0M165.9 243h0M170.3 237.1h0M149 222.4h0M109 216.9h0M123.8 219.7h0M107.9 243h0M109.4 223.3h0M110.7 226.3h0M111.9 234.9h0M120.8 232.4h0M163.6 229.2h0M156 232.1h0M172.8 249.1h0M129.9 216h0M122.3 225.8h0M127.1 238.9h0M143.1 230.4h0M171.8 236.6h0M116.1 231.2h0M114 212.8h0M121.4 218.9h0M113.4 210.9h0M157.4 237.2h0M136.4 236.6h0M176.7 235.5h0M124 215h0M123.3 222.5h0M120.3 212.9h0M157.6 232.3h0M128.5 227.1h0M167.1 243.9h0M157.3 227.7h0M147.8 226.4h0M111.3 250.7h0M117.7 226.3h0M150.2 231.9h0M172.1 238.1h0M128.5 216.7h0M172.3 248h0M132.5 221.3h0M141.5 228.4h0M185.7 245h0M106.1 217.5h0M135.8 232.3h0M127.2 237.5h0M124.5 218.1h0M163.1 237.4h0M110.9 240.3h0M106.6 213.1h0M157.3 230.6h0M114.7 233.6h0M170 232.9h0M149 226.3h0M145.2 233.8h0M138.5 221h0M146.1 221.3h0M122.7 215.2h0M167 241.1h0M155.8 234.5h0M109.5 218.1h0M155.1 231.3h0M125 214h0M156.1 229.8h0M131.1 224.2h0M128.6 241.3h0M119.1 223.2h0M134 237.2h0M125.5 214.7h0M136.9 227.4h0M134.9 216.8h0M139.3 237.8h0M135.1 224.9h0M104.2 245.6h0M142.4 222.2h0M163.3 241.7h0M107.9 217.6h0M119.3 222.9h0M117.4 213.6h0M110.5 215.8h0M147.3 234.4h0M140.9 235.2h0M166.9 238.2h0M148.6 223.1h0M103.8 211.9h0M186.7 251.6h0M160 225.7h0M124.5 243.7h0M105.8 231.7h0M156.8 232.8h0M139.2 217.7h0M172.3 234h0M147.5 231.3h0M126.7 218h0M159.7 231.6h0M172.5 239.2h0M113.2 210.9h0M177.3 239.5h0M106.7 216.8h0M175.4 245.8h0M122.3 222.3h0M167.1 235.8h0M175.9 247.1h0M127.9 231.4h0M104.9 230.9h0M129.9 219.8h0M145.3 226.8h0M134.6 221.9h0M114.7 217.6h0M173.3 234.8h0M158.4 236.5h0M115.9 213h0M107.8 245.8h0M138.1 226h0M163.7 227h0M122 237.3h0M118.5 223.1h0M119.7 217.6h0M122.5 238.3h0M124.2 213.1h0M136.7 226.5h0M109.4 220.8h0M142.3 232.4h0M183.5 252h0M168.6 246.7h0M118.6 229.3h0M120 233.3h0M165.3 239.8h0M162.4 231.8h0M156.5 233.5h0M189.1 251.3h0M127.8 213.9h0M126 236.7h0M116.4 213.2h0M108.9 213h0M108.1 218.7h0M111.4 224.3h0M132.4 217.3h0M176.8 238h0M115.5 230.2h0M104.3 252.1h0M126.8 234.2h0M170.3 243.7h0M132.6 226h0M121.9 218.3h0M110.9 231h0M128.7 225.4h0M124.2 221.8h0M115.1 218.1h0M105.1 210.3h0M121.8 224.5h0M141.6 219.7h0M170.3 235.2h0M133.8 224.6h0M187.3 248.7h0M129 213.6h0M125.7 245.4h0M165.8 236.5h0M180.8 246.9h0M120.4 228.8h0M167 244.8h0M138.8 232.7h0M124.6 213h0M158.4 229.9h0M146.4 233.6h0M132.3 230h0M134.3 239.2h0M127.1 219.1h0M123.7 213.9h0M158 225.6h0M132.1 220.2h0M103.7 219h0M137.3 222.3h0M123.2 242.7h0M171.1 241.4h0M121.4 233.8h0M113.6 214.9h0M144.7 219.6h0M104.9 216.2h0M131.2 223.7h0M113.4 222.9h0M177.3 249.3h0M141.9 229h0M105.6 210.1h0M169.8 241h0M144.2 229.5h0M162.8 239.6h0M152.7 229.8h0M117.9 217.7h0M148.2 228.9h0M107.8 233h0M157 233.6h0M136.4 237.3h0M143.7 224.7h0M141.7 227h0M123.1 212.6h0M156.4 233.8h0M172.7 235.4h0M181.5 241.8h0M167.9 229.4h0M183.2 252.2h0M147.6 222.5h0M118 223.5h0M140.6 240.6h0M141.8 237.1h0M136.6 223.8h0M167.5 231h0M129.8 229.2h0M114.9 229.9h0M177.8 245.9h0M164.8 234h0M123.9 246.7h0M146.8 223.7h0M169.2 240.9h0M120.7 220.5h0M129.1 234.1h0M112.8 220.7h0M163.2 236.9h0M104.9 225h0M109.2 209.9h0M147.3 228.7h0M170 233.7h0M148.6 229.7h0M135 231.2h0M142 221.8h0M127.1 235.7h0M147.5 222.3h0M170.8 238.3h0M116.3 219.2h0M104.7 228.2h0M124.8 244.4h0M138.9 216.4h0M150.8 230.6h0M160.9 231.7h0M151.1 223.7h0M128.8 227.5h0M107 219.4h0M105 215.3h0M148.2 222.5h0M149.8 226h0M164.9 232h0M128.5 216.6h0M116.1 249.9h0M144 237.2h0M128.6 218.1h0M184.7 251.2h0M177.6 242h0M161.3 230.2h0M117.9 219.2h0M131.3 219h0M104.1 235.1h0M130.7 223.2h0M184.7 244.7h0M166.2 233.6h0M164.6 234.5h0M166.2 236.7h0M131.3 225h0M136 226.8h0M142.4 226.6h0M174 235.1h0M163.3 226.8h0M129.5 220.2h0M106.9 213.1h0M118.8 223.4h0M119.2 233.3h0M152.6 223.7h0M124.7 246.7h0M142.1 233.3h0M126.3 214.1h0M116.9 217.6h0M167.6 240.6h0M130.8 222.4h0M134.4 239.6h0M131.6 219.1h0M152.2 230.9h0M172.7 239.5h0M134.7 239.6h0M118.1 229.3h0M112.7 217.4h0M111.2 234.3h0M127.7 212.7h0M165.7 233.7h0M121.8 246.9h0M107.5 236.3h0M141.4 223.5h0M129.5 216.9h0M255 243.9h0M243.4 236h0M248.9 239.4h0M252.4 234.9h0M242.2 234.8h0M244.1 240.2h0M241.9 234.1h0M248.3 225.3h0M255.6 222.4h0M250.7 231.5h0M247.6 239.2h0M245.6 239.7h0M257.1 235h0M246 236h0M242.3 236.7h0M248.5 236.8h0M244.5 235.2h0M246.7 229.8h0M253.4 243.7h0M245 239.1h0M245.6 237.1h0M251.4 227.9h0M259.4 225.2h0M479.5 256.4h0M481.5 258.3h0M484.5 258.2h0M486.9 259.8h0M488.8 261.2h0M491.3 262.3h0M494.2 262.4h0M495.6 263h0M499.4 263.8h0M500.2 263.4h0M502.5 264.7h0M506.5 264.6h0M508.5 263.8h0M511.1 263.3h0M513.6 262.1h0M515.5 262.5h0M517.2 261.8h0M521.1 260.5h0M523.3 261.3h0M526 261.4h0M528 260.4h0M530.2 259.7h0M532.9 259.2h0M535.7 259.2h0M537.5 258.9h0M540.4 259.3h0M543.1 258.9h0M544.6 257.4h0M546.8 257.4h0M550 257.2h0M552.4 258.2h0M554.8 258.3h0M557.1 257.4h0M559.4 256.6h0M562.5 256.4h0M564.2 256.5h0M567.7 257.5h0M569.2 256h0M573.1 256.5h0M575.2 257h0M577.5 255.5h0M580.5 256.5h0M581.2 256.4h0M584.9 254.9h0M379 97h0M381.9 98.4h0M383.5 100.3h0M386.4 100.5h0M389.3 102h0M391.3 104.2h0M392.8 106.8h0M395.7 107.3h0M398.2 110h0M400.5 111.5h0M402.3 111.7h0M405 113.3h0M408.7 113.9h0M411 115.3h0M413.5 115.4h0M415.8 117.1h0M418.3 116.9h0M421.9 117.8h0M423.6 119.6h0M426.2 120.5h0M428.5 122h0M431.2 122.6h0M436.1 122.3h0M437.7 119.5h0M436.9 123.8h0M439.3 124.4h0M436.1 118.7h0M438.9 123.4h0M442 123h0M442.3 126.7h0M442.4 127.3h0M441.7 119.7h0M442.7 128.1h0M440 126.6h0M442.9 127.7h0M440.6 123h0M440.2 124.9h0M442.8 126.9h0M446.3 126.9h0M446.3 116.8h0M446.1 129.8h0M446.3 129.7h0M444.4 122.5h0M444.1 128.7h0M443.1 121.3h0M447.6 118h0M446.8 120.1h0M446.7 128.2h0M446.7 130h0M447.3 128.7h0M447.3 122.8h0M448.9 117.1h0M448.1 124.1h0M448.4 127.2h0M447 122.8h0M449.2 124.4h0M448.9 130.6h0M447.6 129h0M448.1 124.1h0M449.3 127h0M447.1 130.1h0M450.2 127.9h0M453.4 121.1h0M453.2 118.8h0M450.8 125.3h0M451.5 121.7h0M450.9 116.8h0M451.3 132.1h0M451.2 127.6h0M453 132.4h0M453.1 124.1h0M452 121.6h0M451.4 131.6h0M453.5 130.8h0M450.5 130.6h0M452.5 122.3h0M450.7 120.1h0M450.8 121.1h0M450.9 127.1h0M453.4 120.6h0M452.3 113.7h0M453.4 125.2h0M453.1 129.9h0M455.7 119.5h0M455.9 130.7h0M454.7 130.3h0M456 128.9h0M454.8 125.1h0M455.5 113h0M453.8 123.8h0M453.8 132.1h0M454.5 133.3h0M456.1 133.5h0M455.7 132.1h0M457.1 120.9h0M454.7 125.3h0M456.7 123.9h0M455.5 130.5h0M456.5 124.1h0M457.1 115.4h0M457.1 116h0M457 134h0M454.4 114.6h0M455.9 115.2h0M454.4 118.4h0M459.8 129.5h0M458.2 133.6h0M459.3 129.8h0M458.8 118.5h0M459.5 129.3h0M458.9 120.2h0M460.8 113.3h0M461.1 118.1h0M459.2 116.4h0M459.7 126h0M460.4 121.7h0M459.6 132.3h0M458.1 126.4h0M460.4 128.1h0M458.8 129.2h0M458 122.8h0M458.5 115.2h0M457.8 121.3h0M457.5 129.1h0M462.1 134.3h0M461.5 128.2h0M462.3 119.1h0M464.6 135.8h0M462 112.8h0M464 130h0M462.3 122.1h0M464.3 120h0M464.7 134.9h0M463.7 134.9h0M462.7 117.9h0M461.5 133h0M463.9 134.9h0M463.8 118.3h0M467.7 125.1h0M465.7 117.2h0M467.8 132.6h0M465.6 122.5h0M468.2 117.6h0M466.7 129h0M467.4 131.4h0M466.8 114.1h0M465.2 124.6h0M466.2 120.5h0M469 120.1h0M466.7 135.3h0M466.7 131.9h0M468.4 133.5h0M465.6 126.6h0M467.5 111.7h0M467.7 127h0M466.9 124.3h0M468.4 136.1h0M466.8 133.3h0M469.4 124.8h0M469 125.4h0M469.5 126.5h0M471.9 127.3h0M470 131.7h0M471.4 131.8h0M471.5 120.7h0M470.9 134.9h0M472.7 121.5h0M469.2 122.7h0M470 127.9h0M471.4 131.9h0M469.2 132.4h0M472.1 124.1h0M470.2 120.7h0M472.5 116.8h0M470 119.6h0M470.8 126.3h0M470.4 123.4h0M469.7 116.6h0M469 133.3h0M473.4 136.3h0M474.9 135.1h0M473.3 125.1h0M474.6 133h0M476.2 134h0M473.4 135h0M476.4 121.5h0M475.2 126.6h0M473 136.9h0M472.9 131h0M475.7 135.1h0M472.8 124.3h0M474 118.3h0M473.6 131h0M474.7 128.9h0M476.2 131.9h0M475.1 129.2h0M474.1 137.7h0M474.3 136.1h0M474.7 132.8h0M475 127.5h0M476.3 116.8h0M473.2 136.5h0M474.7 113.5h0M473.5 123.8h0M475.5 122.9h0M475.6 133h0M475.1 130.5h0M475.1 132.4h0M474.3 111.3h0M475.7 131.2h0M475.6 134h0M474 134.9h0M479.4 135.6h0M476.7 133.1h0M478.8 129h0M477.4 114.4h0M477.3 117.2h0M477.7 130.8h0M477.3 131.7h0M476.7 132.9h0M477.1 135.7h0M478.6 127.5h0M478.5 134.9h0M479.2 133.9h0M477.2 134.5h0M480.1 113.7h0M478.5 125.5h0M478.7 137.1h0M479.2 133.9h0M478.2 131h0M477.7 117.5h0M480.2 130.4h0M479.6 112.7h0M479.9 137.2h0M479.1 135h0M480.6 128.8h0M482.9 120.6h0M482.2 134.8h0M481 112.1h0M482.3 123.1h0M484.2 127.7h0M483.1 137.1h0M482.1 138.6h0M483.5 133.5h0M482.5 138.3h0M483.4 124h0M481.2 127.8h0M481.5 122.6h0M483.4 118.1h0M480.5 124.3h0M483.6 136.4h0M482.2 122h0M481.4 135.8h0M484 135.7h0M480.5 135.8h0M480.9 138.9h0M481.7 113.2h0M482.8 132.7h0M483.2 133.6h0M486.7 132.9h0M487.6 131.5h0M486.2 132.5h0M485.1 129.6h0M484.8 122.1h0M484.5 130.7h0M486.7 112.6h0M485.9 128.2h0M484.3 138.7h0M485.5 129.5h0M487.3 134.1h0M484.2 130.3h0M486.4 136.8h0M486.2 128.3h0M486.3 132h0M484.8 135.6h0M484.1 133.9h0M484.9 130.2h0M488.4 114h0M486.9 134.5h0M485.5 125.5h0M491.6 128.4h0M488.3 132.8h0M490.1 114.2h0M492.1 116.5h0M490.2 117.5h0M489.2 136.4h0M492 121.5h0M490.7 131.5h0M488.3 135.7h0M488 132.5h0M488.9 132.7h0M489.2 124h0M491.6 111h0M489.3 139.6h0M488.9 113h0M488.6 112.7h0M491.6 123.4h0M491.8 116h0M487.9 135.4h0M490.2 131.3h0M491.8 126.1h0M489.3 138.6h0M488.3 139.7h0M490.4 121.6h0M489.2 138.2h0M491 128.9h0M490 126h0M490.3 120.1h0M490.2 136.4h0M489.9 135.7h0M488.7 121.7h0M488.1 134.3h0M492 120.9h0M490.8 132.7h0M493.8 113.2h0M493.5 140.2h0M495.7 131.4h0M495.2 131.4h0M492.1 134.3h0M494.7 131.1h0M495.7 129.3h0M492.6 130.2h0M493.6 118.5h0M493.4 137.6h0M495.7 123.8h0M493.1 138.2h0M492.1 126.8h0M492.3 120h0M492.2 133.1h0M492.7 133.3h0M496.1 111.2h0M493.9 126.3h0M493.4 116.2h0M492.3 137.2h0M493.1 134.1h0M492.6 120.3h0M498.1 118.6h0M498.9 121.6h0M498.5 137h0M498.4 126.6h0M496.2 137.5h0M495.6 137.2h0M499.2 124.4h0M497.1 140.6h0M497 126.8h0M497.3 120.4h0M496.3 129.8h0M496 135.6h0M498.6 140.5h0M498.2 136.4h0M496.6 116.3h0M496.4 132.2h0M499.2 132.5h0M496.6 127.3h0M497.4 127.7h0M498.2 140h0M497.1 127.3h0M496.6 120.6h0M496.1 138.3h0M498.4 132.6h0M496.3 131.2h0M500.9 120.1h0M501.4 136.4h0M501.5 139.3h0M500.9 122.3h0M499.8 140.3h0M501.5 136.5h0M502 138.5h0M503.1 127.3h0M502.9 134.8h0M501 132.3h0M500.3 127.5h0M500.2 123.6h0M500.3 137h0M499.9 126h0M500.7 137.8h0M499.8 135.8h0M502.1 125.4h0M500.2 140.7h0M500.9 138.6h0M500.3 126.9h0M500.2 113.1h0M501.2 140.4h0M500.7 124.8h0M502.1 134.6h0M502.6 137.1h0M500.6 140.4h0M501 121.9h0M500.2 136.4h0M500.5 112.8h0M505.5 137.2h0M503.5 138.1h0M504.6 120.4h0M504.7 138.2h0M505.8 121.3h0M507.2 133h0M505.4 140.9h0M506 139.9h0M504.5 138.3h0M503.7 127.6h0M503.7 140.6h0M503.8 137.3h0M507.1 122.6h0M503.8 139.8h0M504.3 122.2h0M506.7 141.1h0M504.5 140.8h0M506.8 129.4h0M506.7 133.9h0M505.2 113.1h0M504.5 127.6h0M507.1 125.2h0M504.8 120.1h0M507.1 137.4h0M506.7 135.1h0M506.4 136.9h0M510.8 138.4h0M507.9 129.6h0M507.6 132.2h0M510.8 125.7h0M507.5 128.6h0M510.8 124.9h0M508.9 139.5h0M509.7 140.5h0M509.4 112.9h0M511.1 126.9h0M509.2 131.1h0M508 122.7h0M509.7 136h0M509.4 137.7h0M508.1 127.2h0M510.3 123.3h0M510.6 122.7h0M508.3 134.1h0M508.9 138.7h0M510.8 116.9h0M508.1 122.1h0M508.7 130.4h0M508.3 120.5h0M507.6 124.1h0M508.9 140h0M508.9 138.1h0M510.8 124.6h0M508.2 134h0M511.5 137.9h0M514.7 134.6h0M514.3 135.8h0M511.8 127.2h0M514.9 118.5h0M511.1 141.5h0M514.8 114.9h0M512.1 135.1h0M511.4 141.4h0M512.6 137.8h0M511.6 123.4h0M513 134.3h0M513.8 138h0M511.8 112.3h0M513.3 118.7h0M512.1 111.8h0M512.9 133h0M514 129.7h0M512.8 133.3h0M514.4 134.2h0M513.4 139.2h0M514.6 124h0M511.9 114.7h0M512 123.5h0M512.9 118.1h0M513.3 118.8h0M514 137.5h0M515.3 138.8h0M517.2 126.8h0M516.4 113.8h0M516.4 137.3h0M517.7 136.1h0M517.2 141.1h0M517.2 121.4h0M518.5 131.6h0M516.7 140.4h0M515.5 134.4h0M515.9 119.3h0M517.4 128.2h0M518.3 115.4h0M518.4 135.2h0M518.2 124.1h0M518.4 128.1h0M518.5 124.2h0M516.3 138.6h0M517.7 137.2h0M517.1 133.2h0M515.5 138.4h0M522.6 132h0M522.8 118.1h0M520.8 138.3h0M522.6 117.9h0M522.5 134.7h0M521 128.9h0M519.2 137.2h0M519.8 123.7h0M520.6 134.7h0M520.6 114.6h0M519.8 122.2h0M520.7 141.7h0M522 120h0M520.3 131.2h0M520.5 131.2h0M520.6 113.5h0M520.7 130.2h0M519.1 139.3h0M519.5 138.3h0M522.5 118.7h0M520.7 130.4h0M521.2 141.1h0M522.4 137.7h0M519.9 138.1h0M525.3 139.7h0M526.3 137.9h0M524.9 140.2h0M524.3 138.6h0M524.4 134.3h0M526.4 115.9h0M524 140.6h0M522.6 137.3h0M523.1 115.4h0M524.9 139.6h0M524.5 141.6h0M525.4 130.9h0M525.2 132.7h0M522.7 136.3h0M526.5 122h0M523.5 135.8h0M523.8 116.9h0M524.3 138.5h0M522.9 141.5h0M523.8 139.4h0M522.8 137.3h0M526.3 139.5h0M523.3 133.7h0M524.5 132.4h0M523 142.1h0M523.7 135.4h0M528 128.2h0M530 140.9h0M529.1 130.2h0M530.3 132.1h0M527.7 141.4h0M529.7 139.9h0M528.5 141.3h0M529.8 135.7h0M527.2 139.5h0M527.7 135.2h0M530 125.7h0M528.6 115.5h0M530.1 142.5h0M528.9 132.1h0M529.4 124.6h0M527.9 141.7h0M529.2 134.1h0M527.1 140.6h0M528.1 139.9h0M527 136h0M529.6 141.7h0M529.9 113.8h0M527.3 137.6h0M528.4 141.2h0M527.5 121.1h0M530.3 121.6h0M527.5 133.5h0M528.6 120.5h0M529.9 119.7h0M527.3 120.5h0M529 140.1h0M526.9 140.6h0M528.6 128.2h0M528.8 134.6h0M529.8 135.6h0M529 135.5h0M529.8 138.7h0M529.3 139h0M529.4 130.6h0M526.8 133.3h0M529.2 134.6h0M530.5 137.7h0M531.9 123.7h0M534.1 141.3h0M530.8 138.2h0M534.2 128.9h0M532.1 138.7h0M532.1 113.5h0M534.3 132.5h0M531.3 125.6h0M531.4 131.4h0M531.7 115.4h0M531.5 141.8h0M533 139.4h0M532.1 130.3h0M530.6 134.3h0M532.9 112.7h0M534.2 135.5h0M533.7 114h0M533.5 130.5h0M532.2 121.4h0M531.4 141.5h0M536.6 128.7h0M535.9 116.2h0M537 139.5h0M536.8 139.8h0M536.7 141.7h0M536.4 139.7h0M535.8 131.3h0M534.4 137.9h0M535 130.4h0M534.5 126.1h0M534.8 135.2h0M537.3 139.1h0M537 142.8h0M534.9 125.6h0M534.5 130.9h0M534.7 123.8h0M534.4 131.8h0M537.8 125.8h0M535.7 137.3h0M536 131.5h0M536.7 139.4h0M535.5 140.5h0M536.9 120.3h0M535.3 142.3h0M534.7 128.9h0M535.7 124.4h0M536.6 117.9h0M536.5 131.1h0M535.9 134.3h0M540.7 138.4h0M541.1 141.8h0M538.7 124.3h0M541.7 134.1h0M541.6 123.9h0M540.7 115.2h0M540.1 142.7h0M540.8 113.3h0M539.3 116.9h0M540 141.4h0M540.7 116.1h0M540 125.3h0M540.9 119.2h0M539.7 133.7h0M538.7 142.7h0M539.5 123.6h0M541.3 142.5h0M539.2 122.9h0M538.4 138.5h0M541 115.9h0M541.9 113.5h0M540.8 137h0M538.5 128.8h0M540.5 124.2h0M538.1 141.4h0M542.1 120h0M539.4 117.6h0M541.8 117.6h0M541.2 140.9h0M542.1 141.1h0M544.4 141.4h0M543 118.7h0M542.5 141.5h0M543 131.2h0M542.8 137h0M545.4 131.4h0M542.9 119.4h0M545 115.1h0M543.9 117.3h0M545.8 114.1h0M542.2 130.3h0M543.8 133.4h0M545.6 128.5h0M543.1 115.7h0M545.2 119h0M544.9 133h0M544.9 113.4h0M546.7 142.1h0M548 137.6h0M547.6 117.7h0M546.8 126.8h0M548.6 124.5h0M548.3 136h0M549.8 122.6h0M547.4 133.9h0M547.3 129.5h0M549.1 136.2h0M546.8 138.7h0M549.7 138h0M546.2 134.7h0M548.6 126.5h0M546.3 125.8h0M547.1 124.2h0M549.2 139h0M547.4 126.7h0M547 127.9h0M548.4 139.6h0M546.7 122.5h0M549.2 135.5h0M547.2 119.4h0M546.2 133.3h0M547.1 133.6h0M549.4 130h0M546.1 133.8h0M549.5 116.8h0M548.6 117.7h0M552 123.8h0M552.8 113.9h0M550.7 115.8h0M552.9 137.1h0M550.5 133.3h0M550.5 138h0M552.1 119.9h0M552.1 123.6h0M552.5 138.7h0M553.7 123.8h0M552.2 118.7h0M550.1 121.4h0M553.6 135.9h0M553.1 141.8h0M553 135h0M552.2 140.7h0M552 142.2h0M551.4 114.2h0M550.7 135.4h0M550.2 137.1h0M551.2 141.9h0M551.8 132.8h0M552.8 139.2h0M553.2 129.4h0M550.7 131.4h0M550.6 129.8h0M550.4 141.5h0M553.1 141.6h0M553.8 116.1h0M553.7 142.7h0M553.7 137.9h0M556.7 136.4h0M557.4 131.9h0M556 123.1h0M556.8 120.9h0M555.6 125.9h0M557.4 141.2h0M556.5 131.4h0M554.6 139.4h0M555 135h0M555.6 142h0M557.1 131.5h0M553.8 141.9h0M555.7 129h0M555.6 142.4h0M555.4 126.5h0M554.7 113.3h0M556.1 125h0M554.5 132.4h0M555 127.1h0M556.2 134.5h0M557.3 128.6h0M554.9 129.6h0M557.2 137.3h0M554.2 114.4h0M554.8 139.2h0M555.2 126h0M556.4 139.5h0M560.4 125h0M560.3 131.8h0M558.3 140.3h0M559.6 138.2h0M560.6 140.7h0M559.8 123.5h0M558.3 141.2h0M561.5 115.8h0M559.5 141.9h0M558.3 133.4h0M558.8 120.7h0M559.1 128.8h0M557.5 140.9h0M558.8 135h0M558.9 132.9h0M558.8 134.3h0M559.8 127.6h0M558.1 124.4h0M559.1 118.9h0M560 128.5h0M560 138.3h0M558 131.9h0M558.6 138.7h0M558.8 139.3h0M557.9 117.6h0M559.6 135.9h0M558.5 140.8h0M557.6 132.5h0M560.9 114.6h0M559.3 140.3h0M560.3 118.4h0M561.2 120.1h0M561.2 118.9h0M560.8 124.9h0M559.7 130.8h0M561.3 116.1h0M558.5 131.5h0M558.4 140.4h0M559.6 133.9h0M562.3 134.5h0M563.4 128.8h0M563.7 136.7h0M563.2 128.8h0M562.3 125.6h0M562.6 130.8h0M563.7 138.7h0M562.8 131h0M562.2 138.7h0M562.4 113h0M562.1 134.2h0M561.7 129.3h0M564.3 127.7h0M562.9 142.3h0M562.2 123.8h0M563.4 115.2h0M564.2 120.2h0M563.8 138.8h0M564.3 125.1h0M562.6 115.8h0M564.1 134.9h0M561.8 133.8h0M565 140.4h0M565.9 139.8h0M566.6 121.4h0M566.3 137h0M568.2 120.4h0M567.7 141.6h0M566.9 137.7h0M566.4 133.1h0M566.7 115h0M567.3 115.3h0M567.1 114.7h0M566.3 119.2h0M567.7 125.3h0M566.7 141.9h0M568.6 127.4h0M566.6 122.7h0M565.7 139h0M567.1 138.6h0M565.4 115.6h0M565.3 136.8h0M567.3 140.9h0M571.8 126.7h0M570.5 141.9h0M569.8 140.3h0M569.4 126.4h0M572.6 123.8h0M569.7 124.7h0M571.5 124.7h0M570.2 136.6h0M570.7 123.6h0M570.5 132.7h0M570.7 118.1h0M569.6 128.1h0M569.6 128.7h0M570.2 125.5h0M571.9 134.7h0M570.4 138.7h0M572.7 135.7h0M570.9 131.4h0M570.9 128.3h0M569.5 124.9h0M570.1 126.9h0M570.3 137.1h0M570.5 140.6h0M571.2 130h0M570.6 137.1h0M570.7 129.4h0M575.2 136.9h0M576.9 131.8h0M573.2 121.6h0M575.8 141.9h0M573.4 123.2h0M576.8 140.7h0M576.6 141.9h0M574.7 126.9h0M575.4 128.7h0M573.9 115h0M574.7 129.7h0M576 131.4h0M574 134.1h0M575.4 113.5h0M576 126.4h0M575.4 134.6h0M573.8 116h0M574.1 126h0M576.5 130.4h0M575.3 141.3h0M573.2 122h0M574.4 133.1h0M574.7 122.3h0M574.3 131.4h0M576.6 132h0M573.8 136.9h0M579.2 134.3h0M579 132.6h0M577.1 139.2h0M579.4 121h0M580.1 141.6h0M579.3 139.6h0M580.6 135.4h0M577.7 136.6h0M577.5 139.2h0M577 124h0M580.4 114.6h0M579.7 139.6h0M577.4 135.3h0M577.4 116.9h0M578.7 116.2h0M579.3 131h0M579.9 136.7h0M578.9 114.8h0M578.2 139.8h0M580.4 140.4h0M578.7 137.8h0M579.1 120.5h0M577.7 126.4h0M579.5 132.2h0M577.5 114.7h0M580.6 134.2h0M580.4 119.8h0M579.3 128.6h0M579 118h0M578.7 114h0M580.7 135h0M578.7 141.1h0M580 128h0M580.4 129.9h0M579.5 131.3h0M578.2 125h0M582.6 130.3h0M581.2 138.9h0M584.1 128.3h0M584.1 134h0M584 125.1h0M582.6 123h0M583.1 113.1h0M581.1 130.2h0M583.2 129.8h0M582.7 135.1h0M584.4 128.4h0M581.4 115.5h0M583.1 140.6h0M581.4 134.8h0M581.4 120.2h0M583.9 137.9h0M582.6 132.7h0M582.1 119.4h0M581.2 133.4h0M581.4 119.1h0M582 140.2h0M582.4 138.5h0M583.8 134.8h0M582.8 140.4h0M582.8 125.7h0M581.8 119.8h0M581 120.5h0M581.9 125.4h0M576.1 98.8h0M512.9 112.3h0M503.5 81.2h0M484.4 102.8h0M562.8 80.3h0M568.4 113.4h0M530.5 109h0M488.5 100.4h0M513.9 109.5h0M575.7 108.2h0M577.2 113.3h0M564.9 76.8h0M551.9 104h0M503.6 95.8h0M567.2 113.1h0M549 91h0M525.6 89.6h0M559.3 78.2h0M533.1 97.2h0M555.2 97.6h0M489.9 88.6h0M546.4 104.8h0M503.5 85.8h0M492.8 109.5h0M465.2 101.4h0M465.6 88.8h0M524.8 105.3h0M573.1 104.9h0M522.2 77.5h0M517.2 112.2h0M468.8 95.7h0M574 112.4h0M524.6 100.2h0M476.1 109.2h0M497.4 78.7h0M487.6 113.4h0M498.6 91.1h0M454.9 100.5h0M545 86.9h0M541.1 108.5h0M528.1 77.8h0M583.5 96.3h0M530.9 106.3h0M493.2 96.9h0M528.5 86.3h0M545.6 81.3h0M574.7 78.5h0M556.4 93.6h0M452 111.6h0M504 78.5h0M526.2 112.3h0M531.3 106.8h0M533.2 109.3h0M567 105.5h0M498.4 93h0M496.7 104.4h0M453.4 99.9h0M469.7 110.1h0M472.1 104h0M443.1 111.7h0M528.3 94.5h0M528.3 107.2h0M450 105.6h0M495 106.1h0M578.5 89.9h0M450.6 104.6h0M522.7 92.3h0M563.8 86.2h0M525.2 85h0M570.2 83.7h0M514.4 108.4h0M503.6 91h0M498 83.6h0M479.4 106.9h0M561.9 96.3h0M527.3 99.1h0M477.4 108.9h0M510.7 110.2h0M530.9 103.2h0M470.3 104.8h0M480.1 103.7h0M549.2 104h0M505.8 111.2h0M547.1 78.9h0M501.9 106.8h0M570.7 113.8h0M566.9 93.1h0M495.4 108.9h0M509.6 98h0M576.2 112.3h0M543.2 81.5h0M525.2 105.5h0M547.4 101.1h0M540.5 90.4h0M552.6 95.3h0M537.6 92h0M534.1 103.3h0M527.8 77.8h0M568.8 110.1h0M477.5 112.8h0M499.1 88.3h0M519.9 112.6h0M492.1 87.3h0M463.3 98.2h0M505.2 97.9h0M531.2 93.7h0M503.3 91.1h0M555.7 97h0M525 104.4h0M514.8 90.9h0M500.7 102.4h0M519.5 77.6h0M540.4 104.2h0M480.9 108.7h0M556.4 85.3h0M533.5 74.1h0M509.5 111.9h0M526.1 97.2h0M552.8 112.9h0M461.8 99.5h0M555.8 99.4h0M569.6 92.3h0M584 106.6h0M540.5 76.1h0M502.6 112.9h0M563 79.2h0M499.7 107.1h0M546.1 98.5h0M489.8 96.5h0M579.4 112.8h0M473.3 93.8h0M455 112.8h0M563.9 112.2h0M569.7 82.3h0M573.7 100.4h0M523.2 80.3h0M515.9 101.9h0M506 82.8h0M496 90.3h0M508.3 111.7h0M516 73.7h0M483.6 85.7h0M559.3 83.6h0M546.7 105.4h0M564.8 95.5h0M478.6 102.5h0M529.6 78.9h0M467.4 93.2h0M568.4 101.8h0M517.4 108.6h0M553.2 112.2h0M505.9 90.9h0M560.1 91h0M472 108h0M491.1 81.3h0M583 87.7h0M469 95.2h0M545.6 108.8h0M477.8 88.1h0M567.5 97.4h0M570.8 113.4h0M479.8 100.8h0M574.4 82.2h0M514 84h0M526.3 83.9h0M466.3 92.7h0M465.6 99.3h0M455.9 106.4h0M575.2 103h0M521.2 92h0M562.8 110.3h0M489 108h0M533.3 103.3h0M509.2 96h0M554.5 95.4h0M507.5 111.8h0M561.3 102.3h0M580.2 81.4h0M527.6 82.2h0M561.4 103.3h0M515.4 100h0M584.3 105h0M529.9 104.2h0M493.1 113.6h0M537.6 113.6h0M507 98.4h0M561.5 101.2h0M493.3 103.4h0M578.9 107.9h0M492 90.3h0M502.7 110h0M520.4 113.5h0M531.5 113h0M549.9 113.6h0M497.1 111.1h0M454.1 101.8h0M582 88.2h0M491.6 110.2h0M506.5 88h0M557.8 104.2h0M533.3 107h0M577.2 97.5h0M445.1 109.7h0M476.8 113.1h0M481 97.1h0M544.3 111.9h0M474.5 90.7h0M518.4 100.6h0M576.3 85.9h0M505 106.2h0M551.3 105.4h0M553.8 92.6h0M500.5 103.9h0M555.7 101.7h0M497.6 78.8h0M490.9 103.1h0M494.4 110h0M529.1 79.9h0M546.7 109h0M467.7 99.7h0M554.9 106.4h0M488.4 95.4h0M577.4 89.1h0M493.4 77.6h0M539 80.3h0M492.3 112h0M580.7 93.5h0M479.2 91h0M531.7 97.8h0M504.5 107.4h0M551.9 104.4h0M521.9 106.4h0M477.5 98.1h0M521.9 85.2h0M548.9 97h0M563.2 89.3h0M553.5 94.8h0M481.2 111h0M524.7 110.8h0M549.3 112.8h0M515.6 101.4h0M519.2 106.6h0M483.8 106.6h0M452.7 100.8h0M454.4 96.8h0M540.9 83.7h0M437.9 115.9h0M508.6 96.5h0M539.5 111.2h0M567.8 105.3h0M563.1 102.6h0M537.4 98h0M474.8 111.1h0M499.9 99.8h0M506.5 109.6h0M564.7 98.9h0M500.6 100h0M521.2 103h0M553.6 86h0M521.9 98.3h0M579 102.9h0M497.4 80.3h0M499.3 105h0M488.2 103.8h0M519.3 98.3h0M528.9 107.7h0M503.7 94.8h0M531.2 99.7h0M451.3 112.7h0M569.3 109.9h0M521.7 93.2h0M492.7 93.9h0M493 80.9h0M524.5 103.9h0M507 84.2h0M569 109.3h0M471.7 99.2h0M483.9 112.8h0M472.2 96.2h0M544.7 107h0M560.1 81.6h0M524 103.6h0M521.2 94h0M555 111.3h0M495.5 81h0M514.4 106.9h0M500.9 97.1h0M562.8 88.2h0M495 83.9h0M542.6 79.4h0M495.3 79h0M576.1 88.2h0M542.6 100.7h0M518.1 91.9h0M557.3 113.6h0M486.9 102.3h0M511.8 83.2h0M561.5 106.7h0M554.2 107.9h0M523.7 91.9h0M498.6 86.5h0M507.3 104.2h0M505.7 75.1h0M574.5 96.5h0M498.7 109.5h0M524.5 79.1h0M462.4 111.1h0M579.6 91.8h0M573.2 108.6h0M486.4 88.7h0M541 88.8h0M557 102.5h0M479.1 89.4h0M506.7 109.6h0M580.1 108h0M562.7 105h0M491.4 99.8h0M482.9 85.9h0M578.6 95.5h0M536.8 85.4h0M559.1 84.9h0M513.4 75h0M514.8 111.7h0M471.2 103.4h0M546.9 93.6h0M520.7 110.1h0M493.5 101.7h0M545.7 91.2h0M472.5 112.3h0M558.9 99.1h0M485.2 87.5h0M481.9 83.3h0M497.8 82.4h0M529 105.4h0M575.2 107.2h0M549.2 95.1h0M511.1 94.1h0M545.6 82.6h0" stroke="url(#cm)" stroke-width="2.80" stroke-linecap="round" fill="none"/>
</g>
<use href="#deco" transform="translate(0 0)"/>
<g clip-path="url(#clip_b)">
<path d="M103.6 684L106.7 683.6L108.5 682.7L110.9 681.4L114 679.9L117.7 678.1L122.1 676.2L127.6 674L134.1 671.6L141.2 669L148.1 666.4L154.3 663.8L159.8 661.3L164.8 658.8L169.6 656.4L174.3 653.9L179 651.5L183.8 649.2L188.6 646.9L193.3 644.6L197.8 642.4L201.8 640.1L205.4 637.8L208.8 635.3L211.8 633L214.5 630.7L217 628.7L219.1 627.1L220.7 625.7L222.1 624.4L223.5 623.1L225.1 621.6L226.8 619.9L228.4 618.1L230.2 616.1L232.1 614L234.5 611.6L237.4 608.9L240.9 605.8L244.5 602.7L248 599.5L251 596.5L253.4 593.7L255.5 591L257.4 588.3L259.2 585.7L261.1 583.2L263.1 580.8L265 578.5L266.9 576.3L268.8 574.1L270.5 571.8L272.2 569.3L274 566.5L275.6 563.9L276.9 561.6L277.9 560L283 553.4L330.4 553.4L330.1 556.9L329.8 561.8L329.3 567.6L328.8 573.4L328.2 578.5L327.5 582.9L326.8 586.9L326 590.9L325.2 595L324.4 599.3L323.6 604.3L322.8 609.8L322 615.3L321.2 620.2L320.6 624L320.1 626.5L319.6 628L319.2 628.9L318.9 629.5L318.7 630L318.7 630L301.6 654.2L282.6 663.7L269.3 673.1L246.6 686.4L231.4 693L230 696L213.9 700.8L194.9 705.5L175.9 710.3L151.2 716.9L128.5 720.7L103.6 724.5Z" fill="url(#cm)"/>
<path d="M349.1 553.4L349.4 558.5L349.8 565.8L350.2 574.3L350.7 582.9L351.1 590.8L351.4 597.9L351.7 604.8L352 611.6L352.4 618.4L353 625.3L353.8 632.3L354.7 639.2L355.7 646.2L356.7 653.2L357.8 660.1L359 667.5L360.3 675.4L361.6 682.9L362.7 689.4L363.5 694L363.5 694L366 705L371 716L385 717L401.4 719L420.4 722L441.3 727L465 730L494 730L520 735L537.8 739L584.6 743L584.6 697.6L584.6 697.6L581.2 697.2L576.4 696.8L570.8 696.2L565 695.4L559.5 694.6L554.3 693.6L549 692.4L543.7 691.2L538.6 689.9L533.8 688.7L529.5 687.6L525.5 686.4L521.7 685.3L517.9 684.1L514.1 682.8L510.2 681.4L506.2 679.9L502.3 678.3L498.3 676.6L494.4 674.9L490.3 673L486 670.8L481.9 668.7L478 666.7L474.7 665L472.3 663.8L470.5 663L469 662.3L467.3 661.5L465 660.5L461.9 659.1L458.4 657.6L454.5 656L450.7 654.3L447 652.5L443.5 650.7L440 648.9L436.6 647L433.2 645L429.9 643L426.7 640.9L423.6 638.7L420.6 636.4L417.6 634L414.7 631.6L411.9 629.2L409.2 626.7L406.5 624.1L403.9 621.4L401.4 618.3L398.9 614.8L396.5 610.9L394.2 606.9L392 602.9L390 599.3L388.3 596.3L386.8 593.7L385.4 591.2L384 588.2L382.4 584.2L380.4 578.6L378 571.5L375.7 564.3L373.6 557.8L372.2 553.4Z" fill="url(#cm)"/>
<path d="M108.9 708.7h0M109.2 708h0M111.2 707.1h0M112.5 707.3h0M117.2 709.4h0M118.3 709h0M117.8 709.6h0M119.2 709.1h0M119.4 707.3h0M121.7 708.4h0M122.4 708.9h0M124.2 706.9h0M125.1 705.6h0M125.7 705.2h0M127.1 705.2h0M131.3 704.7h0M132.2 705.5h0M142.1 702.3h0M143.1 701.8h0M144.1 701.5h0M145.3 701.5h0M141.6 702.2h0M143.4 702.2h0M144.5 702.4h0M145.6 701.4h0M148.7 699.8h0M150.3 699.2h0M151.2 698.9h0M158.8 699.8h0M160.6 698.3h0M173.6 687.3h0M174.5 688.1h0M175.3 687.3h0M187.3 684.4h0M188.5 684.6h0M190.2 684.4h0M368 693.4h0M400 673.2h0M406.5 671h0M396.8 662.3h0M380.2 667.7h0M387.9 666.9h0M394.6 693.5h0M402.5 672.7h0M372.3 656.2h0M365.8 672.6h0M383.3 675.1h0M471.2 708.8h0M523.5 720.4h0M540.6 734.4h0M578.3 730h0M488 726.5h0M527 725.4h0M557.5 709.7h0M525.6 719.8h0M534 732.4h0M513.7 715.5h0M516.7 694.7h0M564.7 710h0" stroke="#fff" stroke-width="2.20" stroke-linecap="round" fill="none"/>
<path d="M104.7 678.2h0M106.7 674.9h0M108 674.8h0M110 673h0M111.2 672.8h0M113.4 671.8h0M115 669.9h0M118.9 669.7h0M120.5 669.6h0M122.3 667h0M125.6 667.6h0M127.4 666.8h0M130.4 665.3h0M132.1 664.5h0M133.8 664.4h0M135.3 662.1h0M137.9 662.9h0M140.3 661.3h0M142.7 659.8h0M143.6 659.3h0M147.5 658.2h0M147.8 657.1h0M149.8 656.7h0M153.3 657.1h0M154.7 654.9h0M156.7 653.7h0M160.1 653.3h0M160.8 651.1h0M164.3 651.6h0M166.5 649.3h0M167.8 650.1h0M170.1 649.1h0M171 648.1h0M172.8 645.6h0M174.8 645.6h0M178.7 645h0M181.1 643.9h0M182.5 642.9h0M185.1 640.2h0M187.8 639.3h0M187.8 637.4h0M190.6 636.7h0M193.9 637.6h0M194.1 634.4h0M197.1 633.5h0M199.1 634.1h0M200.3 631.7h0M203.8 630.3h0M204.2 630.1h0M207.3 628.7h0M208.9 626h0M210.7 625.7h0M212.5 622.8h0M213.4 621.8h0M216.4 620.7h0M217.6 619.8h0M218.2 617.8h0M220.6 616h0M223.6 613.6h0M225.5 611.5h0M226 611h0M226.8 609.3h0M229 607.3h0M231.2 604.5h0M232 604.9h0M233.1 603.5h0M235 601.5h0M236.7 599.3h0M239 596.7h0M241.5 596.2h0M243.2 594.8h0M244.5 593.2h0M245.6 592.6h0M246.8 590.9h0M250.2 588.1h0M251.4 586.7h0M252.4 583.8h0M253 582.1h0M254.4 581.9h0M255.9 578.5h0M257.5 577.8h0M259.2 575.3h0M260.1 572.7h0M261.1 570.8h0M263.1 570.6h0M265.2 566.9h0M266.5 565.1h0M268.2 564.1h0M270.2 561.7h0M271.5 559.7h0M273.1 558.7h0M271.9 557.2h0M103 724.1h0M104.9 725.1h0M107 724.5h0M110.1 724h0M112 721.9h0M116 723.2h0M116.2 723.8h0M120.5 721.2h0M120.3 722.1h0M122.8 722.1h0M126 721.7h0M128.5 721.5h0M131.5 720.6h0M133.1 719.5h0M134.1 718.5h0M138.3 718.4h0M139.4 718.3h0M142.2 718.6h0M145.1 717.9h0M145.9 718.1h0M149.2 718.5h0M150.3 718h0M154.4 717.8h0M154.2 715.5h0M158.2 716.2h0M158.3 714.4h0M162.4 714.8h0M164.1 712.7h0M165.9 711.7h0M167.9 712.1h0M171.5 712h0M172.6 710.4h0M174.5 711h0M177 709.1h0M180.3 709.6h0M182.9 709h0M184.2 708.1h0M186.3 708.9h0M189.6 707.6h0M190.2 705.4h0M193.6 705.8h0M194.5 704.3h0M195.8 704.7h0M200.6 705.1h0M202.1 704.3h0M203.1 702.4h0M206.2 701.6h0M208.4 702.3h0M210.4 700.6h0M211.3 701.1h0M213.7 700.9h0M216.4 700.2h0M219.8 699.5h0M221.4 697.8h0M223 699.3h0M225 696.7h0M227.8 696.8h0M230.8 695.4h0M330.8 555.6h0M330.3 559.5h0M330.2 561.8h0M329.6 566.1h0M329.3 567.7h0M329.5 572.1h0M327.9 574.9h0M327.6 576.7h0M328.3 580.6h0M328.1 583.5h0M326.8 585.8h0M326.4 589.9h0M326 592.7h0M324.7 595.4h0M325 597.3h0M324.7 600.4h0M323.2 603.2h0M323.5 606.3h0M323.5 609.1h0M322.8 613.2h0M322 615.9h0M321.9 619h0M320.4 622.2h0M320.2 624.8h0M319.9 628.3h0M319.2 631.1h0M318 633.2h0M103.6 683.7h0M104.6 683.4h0M103.1 680.1h0M102.9 678.7h0M101.8 677.8h0M104.1 677.3h0M106.3 681.8h0M106.1 682.4h0M105.6 683.5h0M104.1 678.9h0M103.8 677.5h0M107.9 681.2h0M104.8 676.6h0M109.8 680.9h0M106.6 676.4h0M110.8 681.3h0M107.5 676.3h0M108.5 674.6h0M108.5 674.6h0M110.9 680.3h0M109.8 676.3h0M112 679.2h0M110.7 676.2h0M111.5 673.7h0M113.3 680h0M110.7 675.7h0M115.2 678.2h0M115.1 678h0M113.1 674.5h0M112.7 674.6h0M113 674.2h0M117 676.5h0M115.3 673.7h0M119.1 675.7h0M116.4 672.3h0M116.5 671.4h0M118.7 676.9h0M118.8 675.9h0M119 676.7h0M120.5 673.5h0M118 670.1h0M117.9 671.4h0M118.4 671.6h0M121.1 670.3h0M119.5 671.2h0M120.5 669.1h0M120.2 670.7h0M121.5 670.9h0M120.8 670.2h0M119.4 669.5h0M122.2 671.2h0M123.2 669.9h0M126.7 674.1h0M123.9 670.8h0M125.8 672.5h0M123.7 668.3h0M127.3 673.9h0M125.9 669.4h0M125.8 667.7h0M128.4 673h0M128.1 672.7h0M127.5 672.3h0M126 668.6h0M126.9 670.7h0M125.5 667.9h0M127.6 669.8h0M128.1 672.4h0M125.3 668.1h0M127.9 668h0M127.2 666.9h0M130.6 668.8h0M132.8 670.5h0M130.4 665.4h0M131.4 666.3h0M135.8 668.8h0M135.9 670.6h0M132.9 665.6h0M135.4 667.6h0M132.7 664.6h0M137.2 670.1h0M136.4 664.9h0M137.6 669.2h0M139.4 668.6h0M136.6 664.2h0M140.6 669.1h0M139.3 664.1h0M139.2 662.9h0M140.5 665.5h0M141.8 668.6h0M140.7 662.4h0M143.3 666.8h0M143.1 666.9h0M141.2 663.8h0M141.7 665.8h0M140.7 662.4h0M143.2 661h0M144.8 667.3h0M144.3 667.5h0M145.5 666.9h0M142.8 662.5h0M145.1 661.5h0M145.5 661.2h0M145 662.2h0M147.6 666.5h0M146.5 665.8h0M145.6 664.2h0M146.9 659.4h0M146.3 661.1h0M148.4 663.7h0M146 660.8h0M145.9 660.5h0M150.5 664.3h0M150.7 665.2h0M151.4 659.1h0M152.2 664.4h0M152.2 661.9h0M151.9 661.7h0M152.6 656.9h0M153.9 663h0M154.4 662.4h0M154.1 659.9h0M153 661h0M154.2 660.7h0M156.6 662.4h0M155.6 662.9h0M155 661.6h0M155.4 661.6h0M153.6 658.1h0M154.7 656.7h0M155.7 661h0M153.8 657.4h0M153.7 658.1h0M157.7 661.9h0M155.2 656.6h0M155.9 656.3h0M156.6 660.1h0M157.3 656.7h0M160.7 660.8h0M157.8 654.4h0M162.2 659.1h0M161.4 657.8h0M160.2 658.6h0M163.7 657.8h0M162.6 658.6h0M161.8 654.3h0M161 653.2h0M162.2 657.9h0M165.5 657.9h0M164.2 656.9h0M165.1 657.9h0M164.7 658.2h0M162.5 652.8h0M163 651.6h0M164.9 656.5h0M162.8 653.2h0M165.3 657.8h0M163.6 651.6h0M166.4 649.9h0M168.7 654.6h0M166.7 650.2h0M166.7 650.4h0M169.1 655.7h0M165.6 651.1h0M168.5 649.5h0M167.7 649.8h0M170.5 654.9h0M168.1 649.3h0M168.4 651.2h0M168.5 652.1h0M171 651.9h0M169.8 648.5h0M172 654.5h0M168.9 648.8h0M172.4 649.6h0M171.8 648.7h0M175 652.5h0M173.6 653.7h0M173.6 646.2h0M173.5 648.5h0M175 651.4h0M175.8 650.9h0M175.5 653.1h0M176.1 645.8h0M175.2 647.4h0M178 651.6h0M180.2 649.9h0M180.3 645.9h0M179.5 644h0M180.8 647.9h0M180.9 649.9h0M180.1 645h0M179.9 643.1h0M181.6 644.4h0M179.9 643.2h0M184.2 648.5h0M182.5 642.9h0M183 641.6h0M184 646h0M184.2 642.2h0M184.7 641.1h0M187.5 646.4h0M185.7 641.9h0M187.7 644.1h0M185.5 641.5h0M186.6 642.5h0M186.2 641.6h0M189.1 644.9h0M187 640.3h0M188.1 640.7h0M188.6 640.3h0M190.3 646h0M190.9 644.1h0M192.2 644.6h0M189.9 640h0M190.2 638.2h0M189.5 640.6h0M189.3 640.2h0M192.6 644.8h0M191.8 644.8h0M190.3 638.4h0M192 638.9h0M192.7 638.2h0M191.4 639.1h0M192.2 637.8h0M193.3 636.8h0M196.7 642.5h0M195.6 642.5h0M196.2 641.5h0M198.5 641.7h0M196.3 639.2h0M197.8 642.1h0M194.9 635.9h0M197.1 641.6h0M198.3 636.4h0M198.6 639.7h0M196.9 636.6h0M200.3 640.7h0M198.8 637.3h0M197.2 635.2h0M198.3 634h0M200.6 640h0M198 634.6h0M200.7 638.5h0M203 637.4h0M202.8 637.5h0M203.1 637.5h0M202.7 637.5h0M204.5 636.4h0M204.5 636.1h0M202.7 633.6h0M204 635.8h0M204.7 637h0M203.7 632.2h0M206 637.3h0M205.1 633.5h0M206.3 630.3h0M206.5 632.6h0M204.6 629.7h0M205.6 631h0M207.6 635h0M209.6 632.5h0M207.8 632.2h0M208.8 633.4h0M210.4 633.6h0M209.1 632.2h0M210 629.9h0M208.9 628.2h0M210.6 631.8h0M211.8 632.5h0M213.1 630.6h0M210.9 626.2h0M211.5 629.8h0M211.1 626.1h0M212.2 625.5h0M212.3 624.5h0M213.7 630.5h0M214.2 629.5h0M214 630.7h0M212.9 624.8h0M214 627.4h0M214.1 623.7h0M214.9 629h0M214 625.2h0M215.7 629.2h0M213.4 623.8h0M215.7 628.3h0M214.3 622.3h0M214.5 623.1h0M217.7 626.9h0M216.3 625.8h0M216.3 622.4h0M218.3 626.3h0M219.6 626.3h0M216.7 620.9h0M218.7 627h0M216.9 622.1h0M217.7 622h0M219.9 625h0M218.1 620.8h0M218.6 619.5h0M219.7 618.3h0M219.2 618.8h0M220.1 620.7h0M222.3 623.5h0M221.6 616.4h0M223 623.4h0M222.9 615.4h0M222.9 616.7h0M223 615.5h0M224.7 620.9h0M222.9 616.8h0M222.4 616.3h0M225.7 618.9h0M223.3 614.7h0M224.7 615h0M226.5 618.6h0M225.9 619.5h0M225.3 619.2h0M224 615.6h0M226 620h0M225.2 612.7h0M225.6 611.9h0M228.2 617.9h0M227.1 618.9h0M227.8 611.9h0M229.6 616h0M227.2 613.6h0M230.2 614h0M229.4 614.5h0M228.5 610.3h0M229.6 615.3h0M228 610.9h0M229.6 615.8h0M230.1 610.1h0M231.5 614.4h0M231.8 612.2h0M230.9 610.8h0M229.5 610h0M229.8 606.9h0M229.9 606.8h0M231.4 608.3h0M232.9 612.3h0M232.3 612.5h0M230.7 607.9h0M231 608.7h0M234 611.5h0M233.1 606.3h0M231.3 605.7h0M233.6 610.4h0M233.5 604.8h0M236.1 610.1h0M233.9 603.6h0M236.6 606.9h0M237.7 608.5h0M234.6 602.1h0M236.4 602.4h0M238.9 605.2h0M237.4 601.1h0M237.4 601.8h0M238.3 604.8h0M238.3 605.9h0M239.6 606.1h0M238.2 599.3h0M240.6 603.9h0M237.5 600.6h0M238.5 599.1h0M238.6 600.1h0M238.7 599.6h0M240.1 598.6h0M238.7 598.7h0M240.3 598.2h0M242.2 603.2h0M240.3 598.7h0M241 596.7h0M242.6 596.8h0M243.1 597.3h0M242 596.3h0M244.6 602.2h0M244.3 601.3h0M243.9 594.2h0M244.6 594.6h0M245 598.8h0M243.6 594.1h0M244.2 593.7h0M246.1 592.5h0M246.1 591.7h0M249.9 596.5h0M248.9 596.9h0M246.3 592.6h0M248.8 590.5h0M248.1 591h0M248.5 591.4h0M251.8 594.4h0M251.8 593.1h0M252 590.7h0M252.8 592.2h0M253.8 588.1h0M251.7 586.5h0M255.1 590.8h0M254.4 589.5h0M253.6 583.5h0M254.3 588.1h0M255.9 589h0M255.4 589h0M256.5 589.4h0M255.8 584h0M254.2 582.2h0M257.6 587.7h0M255.2 582.4h0M256.2 584.7h0M254.6 581.8h0M255.4 581.9h0M258.2 585.8h0M256.2 582h0M257.2 582.6h0M256.8 579.8h0M258.6 585h0M257.3 578.5h0M256.9 578.6h0M260.1 582.1h0M260.4 582.3h0M260.9 582.3h0M259.5 578.5h0M260.3 576.7h0M258.5 576.1h0M259.2 577.5h0M261.9 580.4h0M261.7 576h0M263.1 580.5h0M262.6 579.1h0M263.6 579.6h0M262.8 580.5h0M264.7 577.1h0M262.9 577.3h0M262.1 573.2h0M262.7 571.3h0M264.5 573.3h0M267 573.5h0M266.6 572.5h0M264.3 571.2h0M265.4 570h0M265.6 573.1h0M268.1 571.5h0M268.9 572.9h0M266.2 569h0M267.2 571.9h0M267.3 573.4h0M268.4 574.5h0M266 568.9h0M268.5 573.7h0M268.7 573.8h0M269.3 570.4h0M269.6 571.6h0M267.5 567.8h0M268.8 569.7h0M269.3 572h0M267.5 566.1h0M270.6 569.6h0M269 566.2h0M269 565.7h0M270.4 566.9h0M272.1 567.8h0M271.5 569.1h0M269.6 564.8h0M272.2 568.2h0M270.3 563.1h0M271 564.9h0M270.8 563.9h0M272.8 562.5h0M274.3 564.2h0M272.1 562.8h0M273.1 563.8h0M273.5 565.9h0M274.8 561.3h0M274.8 561.5h0M272.8 557.6h0M273 561.2h0M274.2 562.5h0M274.8 564.9h0M275.5 561.9h0M273.1 557.4h0M274.8 560.3h0M274.2 558.2h0M274.1 558.8h0M273.1 557.6h0M273.7 558.6h0M274 557.8h0M274.4 556h0M274.1 554.8h0M274.5 555.1h0M275.9 558.6h0M275 555.2h0M279.3 754.3h0M310 644.5h0M278.9 682.2h0M301.4 660.8h0M266.9 745h0M279.9 717.9h0M312.4 681.7h0M288.6 688.1h0M289.9 679.5h0M296.5 679.6h0M300.3 665.8h0M253.1 711.6h0M281.4 737.4h0M296 661.9h0M276.7 679.4h0M293.6 789.5h0M256.1 681.9h0M304.7 676.3h0M283.7 669.2h0M265.5 682.5h0M265.5 681.9h0M296.4 680.8h0M289.1 692.4h0M306.4 705.3h0M282 741.3h0M285.5 739.8h0M276.2 713.9h0M283.6 743.8h0M289.6 704.5h0M296 705.3h0M305 659.4h0M249.9 693.1h0M289.6 692h0M264 686.9h0M278.3 741.3h0M277.2 722.4h0M295 705.5h0M284 731.4h0M298 690.9h0M289.8 669h0M256.7 702.2h0M270.6 757.2h0M279.7 678.2h0M313.2 672.9h0M288.4 741.2h0M256.4 704.4h0M243.7 697h0M288.5 789.4h0M309 699.9h0M306.7 696.1h0M298.3 746.7h0M285.5 731.2h0M290.3 701.8h0M294.4 724h0M270.3 716.2h0M260.4 680.9h0M314.6 640.1h0M305.2 737h0M239.5 691.7h0M287.9 689.1h0M277.4 700.8h0M265.6 679.8h0M295.3 675.6h0M308.9 733h0M309.1 647.7h0M280.3 686.6h0M293.8 717.7h0M272 681.2h0M307.1 669.2h0M288.2 728.5h0M253.9 692.6h0M271.1 742.6h0M280.7 690.4h0M291.3 710.2h0M299 770.4h0M250 689.3h0M257.1 744.3h0M274.7 719.6h0M271.3 696.2h0M240.7 699.4h0M284.3 761.1h0M303.1 715.6h0M311.7 681.6h0M300.8 669h0M300.9 739.5h0M273.7 722.3h0M269.9 678.7h0M284.7 704.7h0M262 718.1h0M309.2 687.2h0M270.7 774.3h0M292.1 673.1h0M273.9 692.1h0M288.1 755.4h0M303.3 735.4h0M303.2 704.5h0M277.1 700.7h0M246.6 719.2h0M306.6 731.4h0M292 682.3h0M288.3 684.1h0M293.8 766.4h0M294.6 710.5h0M310.9 723.3h0M294.6 706.7h0M279.8 713.4h0M270.1 711.2h0M286.1 740.7h0M274.7 729.8h0M305.8 649.4h0M303 752.9h0M294.4 684.6h0M298.7 744.5h0M249.9 686.5h0M260.4 689.1h0M247.9 711.6h0M295.8 748.3h0M292.5 708.1h0M308.9 647.6h0M281.3 741.1h0M299.5 763.7h0M310.1 731h0M285 700.8h0M308.2 645.6h0M296.5 698.7h0M289.5 671h0M309.5 652.5h0M264.6 687.5h0M306.4 747.6h0M301.5 703.7h0M257.6 709.2h0M296.8 713.1h0M308 729.8h0M276.9 680.7h0M289.7 723.9h0M281.7 747.1h0M263.4 718.3h0M307.2 706h0M293.6 665.1h0M296.4 746.5h0M292.8 685.7h0M267 709.6h0M279 759.8h0M253.8 715.6h0M260.7 804.7h0M253.5 684.3h0M277.5 715h0M277.2 669.3h0M301.4 683.2h0M283.5 682.2h0M302.3 667.7h0M282 742.4h0M306.6 662.9h0M305.6 708.3h0M296.4 782.5h0M310.2 671h0M287.2 733.2h0M261.7 755.4h0M276 760.8h0M267.2 681.5h0M313.6 673.2h0M254 696.1h0M292.8 677.3h0M248.8 703.6h0M295.8 724.1h0M271.9 751.5h0M271.8 755.5h0M284.9 681.7h0M302.8 681.5h0M283.3 795.6h0M296.6 677.5h0M305 651.8h0M286.9 728.1h0M308.1 701.9h0M248.3 725.4h0M248.7 734.1h0M289.1 665h0M289 756.2h0M283.2 693.3h0M311.9 669.8h0M264.1 695.9h0M280.3 784.1h0M309.9 673.3h0M275.1 680.5h0M288.3 777.4h0M252.9 702.6h0M311.6 650.8h0M306.2 700.5h0M310.6 668.7h0M276.9 729.3h0M265.8 702.7h0M311.7 660h0M301.9 690.4h0M251.2 719.1h0M291.8 660.4h0M288.7 720h0M288.8 698.1h0M306.3 738.4h0M287.7 750.4h0M248.4 725.6h0M279.8 689.3h0M303.7 651.6h0M257.2 685.2h0M284.5 758.1h0M283.2 733.8h0M237.8 702.5h0M289.8 667.6h0M304.6 664.9h0M286.5 692.5h0M308.5 668.1h0M276.3 745h0M291.1 768.2h0M285.8 715.9h0M268.7 739.5h0M294.2 739.3h0M310.3 696.7h0M266.5 758.3h0M277.8 718.8h0M295.1 665.6h0M306.7 684.1h0M308.1 729.5h0M296.5 693.2h0M264.2 760.6h0M273.8 761.4h0M273.7 689.4h0M308.5 737.7h0M294.6 787.1h0M308.5 715h0M256.7 743h0M282.5 754h0M251.8 702.3h0M275.2 680.3h0M272.9 676.3h0M280.6 778h0M305.7 653.7h0M285.4 784.5h0M306.7 749.4h0M285.6 796.3h0M272.9 761.1h0M302.5 654.1h0M294.2 672.2h0M294.5 707.2h0M281.8 699.8h0M278.2 671.3h0M273.4 710.2h0M259.3 679.3h0M275.1 669.8h0M303.2 703h0M286.4 716.7h0M315 640.3h0M301.3 662.5h0M288.6 685.9h0M258.8 712.6h0M306.5 653.5h0M266.5 685.2h0M277.8 730h0M303.6 661.4h0M289.4 687.5h0M281.2 731.6h0M297.9 698.5h0M316.2 636.2h0M285 791h0M274.2 728.4h0M264.4 735.5h0M293.3 717.2h0M311 711h0M291.5 677.9h0M249.9 701.1h0M299 685.8h0M271.7 729.1h0M298.7 712.3h0M313.4 661.6h0M301.8 659.8h0M309 658.5h0M301.6 746h0M271.6 716.8h0M312.9 654h0M288.8 701.2h0M266.7 721h0M281.4 710.3h0M257 682.7h0M282.6 711h0M270.3 708.6h0M297.4 704.9h0M284.8 724.9h0M298.2 720.1h0M271.5 719.8h0M279.1 710.3h0M271.6 732.8h0M308.5 664h0M293.2 703.9h0M258.7 681.1h0M309.9 646.6h0M306.7 673.7h0M290 662h0M297.9 657.3h0M255.7 696.3h0M246.3 702.5h0M260.8 713.3h0M286.4 701.2h0M280.6 685.3h0M279.4 700.7h0M289.5 685.8h0M293.9 741h0M268.4 682.7h0M298.5 697h0M307.4 722.7h0M278.2 694.3h0M299.1 747.4h0M261.2 709.8h0M272.1 672.7h0M308.9 666.1h0M259.1 734.7h0M295.7 767.8h0M301.1 758.6h0M283.5 680h0M271 710.8h0M272.7 671h0M299.4 747.9h0M290.1 694.5h0M280.3 685h0M310 689.3h0M306.3 705.6h0M291.3 786.4h0M284.7 665h0M288.4 669.6h0M296.3 662.9h0M280.6 758.6h0M288 718.1h0M304.4 722.5h0M283.9 700.7h0M295.2 664.8h0M273.6 732.1h0M307.6 651.2h0M311.1 648.1h0M273.4 754.5h0M311.2 680.7h0M286.5 664.6h0M282.8 769.4h0M285 739.8h0M265.7 709.3h0M281.7 684.2h0M300.9 655.6h0M266.4 687.8h0M260.7 712.2h0M248.9 700.1h0M277 731.1h0M274.3 754.5h0M286.8 699.6h0M314.4 651h0M293.6 663.9h0M272 713.9h0M290.5 684.5h0M281.3 670.7h0M295.5 664.9h0M285.4 725.5h0M264.8 696.2h0M316.7 634.2h0M279.8 716.7h0M281.2 682.2h0M275.2 747.4h0M299.6 731.2h0M298.7 712.5h0M265.4 745.9h0M303.1 673.3h0M309.7 651.1h0M306.6 662.9h0M290.6 690h0M274.2 698.1h0M267.6 751h0M290.3 680.4h0M302.1 696.8h0M289.9 700.4h0M280.7 755.3h0M281.8 765.4h0M293.1 671.5h0M266.2 676h0M283.5 667.3h0M275.7 677.9h0M302.7 661.4h0M286.9 778.5h0M286.1 684.4h0M294.1 719.1h0M303.3 717.4h0M232.9 696.9h0M251 693.2h0M305.1 674.4h0M254.6 691.3h0M278.9 672.2h0M304.6 697.7h0M302.4 729.5h0M291 672.8h0M280.7 698.4h0M305.2 680.8h0M294.4 725.3h0M276.6 700.1h0M284.4 722.3h0M305.4 702.1h0M313.1 641.4h0M300.4 659.8h0M267.4 698.2h0M282.4 747.7h0M285.9 724.6h0M296.8 669.4h0M302.5 692.4h0M277 738.5h0M291.8 791.6h0M285.6 681.1h0M270.7 751.1h0M274.1 706.2h0M317.1 632.3h0M309.4 645.3h0M293 791.2h0M296.5 698h0M309.5 729.4h0M287.9 677.3h0M272.3 764.9h0M275.4 687.2h0M267.8 757.7h0M308.5 688.4h0M299.3 736.5h0M303.5 705.3h0M312.3 640.1h0M286 743.5h0M266.8 692.9h0M283.5 766.1h0M295.8 782.7h0M302 699.3h0M290.4 711h0M301.7 762.1h0M285.9 678.2h0M300.3 660.1h0M266.7 685.8h0M301.3 666.4h0M293.4 719.2h0M274.9 754.8h0M290 678.2h0M301.3 709.3h0M307.6 664.6h0M303.6 739.2h0M246.6 702.1h0M309.4 705h0M305 730.6h0M295.6 767.3h0M279.5 707.6h0M270.1 673.4h0M294.2 663h0M297.5 769.2h0M259.3 743.8h0M312.7 695.4h0M279.7 677.5h0M303.9 664.2h0M302.3 682.6h0M285.6 670.1h0M311.4 666.1h0M281.9 667.9h0M261 769.2h0M290.5 719.4h0M308.8 647.9h0M304.7 659.3h0M296.7 748.7h0M278.1 691.5h0M277.9 689.7h0M293.7 708.3h0M313.3 646.4h0M296.5 709.1h0M251.3 686.3h0M285.8 695.7h0M307.7 666.5h0M274.5 708.8h0M279.8 740.2h0M264.4 721.7h0M292.4 663.6h0M299.2 694.6h0M300.5 684.9h0M309.4 658.7h0M285.9 797h0M256.6 727.6h0M287.5 777.8h0M299.7 659.5h0M265 696.3h0M284.6 666.3h0M313.1 657h0M291.3 694h0M280.2 700.2h0M277.4 718.9h0M293.7 665.2h0M311 711h0M292.8 662.7h0M242 706.4h0M265.2 710.1h0M282.8 682.6h0M279.4 694.4h0M247 696.1h0M284.6 754.8h0M284.5 769.4h0M280.1 719.9h0M281.2 759.7h0M277.3 670.9h0M302.8 700.1h0M297.9 675.1h0M285.2 753.6h0M293.6 744.6h0M256.1 701.3h0M264.9 704.1h0M290.8 679.3h0M274 687h0M275.1 681.1h0M306.2 661.7h0M290.8 746.5h0M305.9 648.4h0M271.9 684.1h0M309.7 681.3h0M309.6 666.7h0M290.1 771h0M314.3 641.8h0M291.7 756h0M252.4 727.9h0M310.3 645.5h0M285.4 735.5h0M287.1 674.8h0M279.6 711h0M289.7 722.3h0M304.8 703.3h0M268.5 764.5h0M242.5 703.3h0M252.9 683.3h0M278.4 684.8h0M273.9 727.9h0M279 744.3h0M285.3 768.2h0M301 668.1h0M308.2 712.4h0M307.9 734.7h0M301.3 693.5h0M288.6 661.1h0M310.9 680h0M289.4 678.2h0M273.4 691.5h0M264.4 683.4h0M284.4 739.9h0M264.1 763.1h0M272 702.3h0M306.5 711.3h0M269.5 700.4h0M295.6 745.3h0M283.5 680.7h0M314 642h0M289.4 660.4h0M286.6 681.9h0M302.1 653.8h0M311.2 725h0M293.9 660.6h0M304.3 716.4h0M249.9 697.6h0M301.5 687.9h0M271.2 697.1h0M286.7 773.9h0M298.9 660.3h0M309.2 671.6h0M268.5 675.2h0M260.1 800.1h0M254.8 744.1h0M271.7 689.7h0M276.6 768.1h0M286.5 664.6h0M265.9 675.4h0M304.1 660.3h0M282.9 678.9h0M270.3 710h0M301.6 717.5h0M289.1 707.3h0M279.8 666.4h0M292.1 662.4h0M307.4 682.2h0M262.4 748.9h0M294.6 679.2h0M294.4 672.7h0M294.5 775.3h0M304.9 650.8h0M312.7 653.3h0M280.2 680.2h0M284.4 672.4h0M283.9 676.3h0M309.6 735.7h0M270.6 724.6h0M289.4 738h0M281.8 700h0M278.1 729.1h0M296.8 729.7h0M289.3 713.4h0M308.8 676h0M299.6 671.7h0M268.2 692.4h0M286.4 685.7h0M272.3 692h0M303 759.1h0M308 721.2h0M274.6 682.8h0M305.7 673.6h0M242 696.7h0M281 705.8h0M316 638.7h0M264.1 729h0M305.7 686h0M252.9 733.9h0M279.2 703.5h0M259.4 739.5h0M297.4 714.9h0M293 713.1h0M274.4 694.3h0M304.1 698h0M289.5 688h0M259.4 720.3h0M303.9 681.9h0M277.2 715.6h0M304 661.2h0M281 750.5h0M290.3 675.6h0M279.6 720.4h0M287.5 751.8h0M308.1 657.8h0M273.6 727.6h0M286.5 706.3h0M282.3 748h0M284.7 665.5h0M277.1 724.2h0M284.6 674.5h0M291.7 734.3h0M283.3 669.3h0M285.8 720.5h0M300.3 728.7h0M265.8 768.6h0M291.8 673h0M287.6 671.1h0M306.9 693h0M303.3 695.3h0M304.6 703.8h0M308.6 674.6h0M300 769.1h0M291.4 741h0M282 666.5h0M244.7 707.1h0M298.1 747.8h0M274.4 723.8h0M255.1 699.9h0M281.1 691.9h0M280.1 787.1h0M250.2 692.3h0M309.8 665.4h0M315.6 641.4h0M300.3 672.7h0M290.9 691.1h0M302.6 681.9h0M282.9 733.7h0M261.3 693.9h0M295.4 670.2h0M281.3 671.7h0M304.9 686.9h0M286.4 688.9h0M276.1 682.4h0M267.6 740.9h0M278.4 681.9h0M277.8 678.7h0M308.7 680.6h0M285 678.8h0M291.6 662.3h0M283.2 756.3h0M245.4 697.8h0M294.2 772.3h0M269.5 687.4h0M286.7 746.5h0M294.9 660.3h0M305.5 681.9h0M285.9 667.9h0M287 793.9h0M289.1 673.7h0M265.6 743.8h0M305.7 669.1h0M249.6 687.1h0M306.8 649h0M278.8 745.7h0M272.9 722.4h0M266.4 763h0M268.4 748.2h0M315.8 644.3h0M314.3 648.9h0M315 651.1h0M314.7 656.2h0M314 659.9h0M313.5 663.1h0M314.5 667.1h0M312.6 669.1h0M313.8 672.7h0M313 677.2h0M313.7 680.1h0M312.8 685.1h0M314.1 688.2h0M313.1 691.9h0M313.2 694.4h0M312 697.8h0M313 702.7h0M312 706.2h0M312.4 710h0M311.5 712.6h0M312.6 717.1h0M311.6 720.5h0M312.2 723.8h0M310 727.3h0M311.4 730.9h0M309.2 733.8h0M310.4 738.6h0M310.1 740.8h0M307.6 744.6h0M307.9 748.7h0M306.8 751.9h0M306.9 755.3h0M305.2 758.1h0M303.6 763.2h0M303.2 765.9h0M349.6 556h0M348.8 559.1h0M349.6 562.3h0M349.2 564.1h0M349.7 567.5h0M349.9 569.3h0M350.7 573h0M350.6 574.5h0M349.7 578.1h0M350.6 580.9h0M350.5 583.7h0M351 585.7h0M350.4 587.9h0M350.4 590.5h0M351.8 594.3h0M351.1 596.7h0M351.1 599h0M351.6 602.4h0M351.8 604.7h0M351.8 607.8h0M351.5 610.4h0M352.9 612.5h0M352.8 614.8h0M352.7 617.5h0M353.2 621.1h0M353.3 623.2h0M353.2 625.1h0M353.1 627.8h0M354 631.7h0M354.2 633.9h0M353.9 635.7h0M354.6 638.7h0M355.7 641.4h0M355.7 643.6h0M356.5 646.7h0M356 649.4h0M356 651.6h0M357.9 655.1h0M357.6 657.1h0M358.3 659.9h0M357.7 663.5h0M358.6 665.7h0M358.8 668.7h0M358.8 670.7h0M359.3 672.9h0M360.1 675.3h0M361.1 679.2h0M362 681.8h0M361.1 683.4h0M362.5 686.2h0M362.2 689h0M362.6 691.7h0M364.3 694.7h0M364.9 696.3h0M364.3 699.5h0M365.1 702.8h0M366.4 705.1h0M366.7 706.8h0M367.6 709.1h0M369.2 712.9h0M370 714.1h0M369.6 716.6h0M371.2 720.4h0M395.4 558.7h0M382.5 558.4h0M378.5 558.8h0M381.3 557.3h0M382.9 557.5h0M398.7 558.6h0M395.1 557.1h0M378.7 558h0M398.5 556.4h0M375.8 561.8h0M398.9 560.9h0M382.3 559.5h0M398.9 559h0M376.9 559.7h0M380 560.7h0M382.9 561.8h0M379.9 561.5h0M381.5 559.2h0M376 559.9h0M381.7 560.4h0M380.4 560.7h0M394.5 560.5h0M377.2 561.1h0M386.1 563.2h0M401.6 561.3h0M398.7 561.4h0M380.5 564.3h0M383.3 562.9h0M376.8 563.5h0M378.7 563h0M383 567h0M385.8 566.3h0M379.1 567.1h0M379.2 566.1h0M383.6 567.5h0M399 566.2h0M377.5 567.1h0M398.6 565h0M380.6 565.2h0M379.6 570.2h0M387 569.9h0M387.4 568.4h0M378.5 570.6h0M387.5 567.3h0M397.5 568.7h0M382.1 567.8h0M383.6 571h0M383.5 571.2h0M386.3 571.3h0M397.2 571.1h0M383.5 572h0M382.2 572.4h0M399.2 571.1h0M385.9 573.3h0M406.5 571.5h0M399.8 572.1h0M384.1 575h0M383.7 573.6h0M380.1 574.5h0M382.2 577.2h0M380.4 577.6h0M390.4 575.6h0M408.2 575.8h0M401.7 576.1h0M406.6 575.4h0M400.9 575h0M391 577.8h0M382.5 578h0M385.7 578.7h0M384.9 577.1h0M382.5 578.9h0M385.8 577h0M381.7 577.7h0M381.6 576.5h0M382.4 578.8h0M388.7 580.6h0M384.2 582h0M406.1 577.1h0M385.2 580h0M383.9 581.1h0M383.6 581.3h0M385.8 580.8h0M409.1 578h0M387.7 580.7h0M386.4 582.9h0M385.7 584.5h0M390.6 581.4h0M390.5 583.3h0M404.2 579.1h0M384.1 584h0M387.8 581.7h0M394.6 581.1h0M395.6 582.6h0M382.3 583.3h0M385.1 582h0M384.8 583.5h0M382.3 583.2h0M405.1 582.4h0M391.1 586.5h0M384.2 585.4h0M385.6 586.4h0M384.8 586.7h0M410.5 581.8h0M392.6 586.4h0M387.9 586.3h0M383.4 585.9h0M386.1 586.4h0M393.3 586.2h0M384.5 585.1h0M385.2 588h0M391.4 589.1h0M390.3 587.2h0M407.4 585.8h0M391.6 587.8h0M392.7 588.1h0M411.1 586.2h0M409.8 586.3h0M391.7 589.9h0M413.4 587.3h0M412.2 586.7h0M395.7 588.8h0M388.3 590.8h0M386.9 592.4h0M409.6 590h0M389.6 594.5h0M395.7 593.1h0M390.5 594.9h0M415.5 589.6h0M391.5 593.3h0M389.4 594.7h0M394.2 592.9h0M398.6 596.7h0M398.7 596.5h0M391 598.3h0M400.2 593.5h0M390 598h0M395.1 596.5h0M412.5 593.3h0M416.2 592.1h0M414.6 592.2h0M401.2 595.3h0M412.9 591.9h0M395.7 595.4h0M416.6 591.9h0M412.6 593.5h0M412.5 594.2h0M417.1 593.1h0M392.9 600h0M395.4 598.7h0M399.4 599.2h0M390.2 598.9h0M393.2 602.9h0M414.7 596h0M401.8 600.9h0M419.5 595.1h0M416.3 595.3h0M392.8 603.9h0M397.4 601.6h0M394.9 602.8h0M395.4 603.1h0M393.1 602.4h0M398.6 600.2h0M392.9 601.1h0M394.3 605.1h0M394.5 603.8h0M395.4 603.8h0M398.5 602.8h0M394.3 605.9h0M403.5 603.2h0M396.4 604.7h0M395.6 604.5h0M417.1 598.8h0M421 599.1h0M416.8 602.7h0M422.5 599.4h0M417.4 601.3h0M419 601h0M421.3 600.6h0M405.3 605.7h0M409 604.9h0M421.3 598.8h0M422.5 599h0M395.8 607.4h0M401.4 606.9h0M406.2 606.5h0M422.1 602.3h0M424.3 601.5h0M398.6 608.9h0M417.9 602.7h0M396.7 610.3h0M419.5 603.3h0M401.3 613.4h0M399.3 614.4h0M401.7 611.1h0M401.1 612.8h0M399.9 611.5h0M423.5 604.7h0M401.7 611.9h0M410.3 608.9h0M405.4 611.8h0M424.2 604.5h0M420.3 605.5h0M419.7 605.6h0M400.6 615h0M409.4 613h0M425.1 607.1h0M404.3 614.4h0M407.1 612.4h0M423.4 607.1h0M400.6 615.2h0M404.4 615.1h0M401.9 614.4h0M425.3 605.7h0M408.5 613.5h0M406 613.1h0M406.2 613.7h0M427.3 605.1h0M424.4 606h0M421.2 608.8h0M403.8 613h0M406.5 615.8h0M405.9 618.1h0M402.9 619.1h0M426.8 608.7h0M403.7 616.3h0M428.3 607.2h0M404.6 618.1h0M403.6 618.5h0M406.1 617.4h0M407.3 620.4h0M414.5 615.2h0M407.6 618.8h0M402.9 619.7h0M430.9 609.8h0M410.4 618h0M414 617.5h0M413.1 618h0M429.8 611.4h0M407.7 620.3h0M413.3 617h0M408.8 617.5h0M428 613.6h0M431.2 613.2h0M407.3 622.5h0M409.3 620.9h0M427.1 615h0M413.9 620.5h0M417.6 619.1h0M409.3 620.7h0M406.6 621.6h0M411.1 620.5h0M412.9 622.2h0M432 615.3h0M419.4 620.3h0M416.3 622.8h0M411.6 622.6h0M416.7 619.9h0M436.2 614.5h0M408.1 625h0M426.6 617.8h0M419.1 623.9h0M433.4 617.7h0M423 622h0M411.7 626.2h0M414.9 624.8h0M411 627.1h0M411.7 626.3h0M415.7 624h0M410.8 626.7h0M416.2 624.8h0M438.7 615.4h0M411.9 626.7h0M422.7 623.8h0M435.1 618.1h0M422.5 626.1h0M436.7 618.7h0M417.5 627.4h0M432.5 620.9h0M435.5 619.9h0M425.1 622.5h0M424.5 624.8h0M413.1 628.4h0M438.7 616.9h0M418.7 629.7h0M415.6 630.4h0M419.5 629.9h0M426.4 624.8h0M436.3 620.7h0M439.5 623.9h0M422 631.5h0M423.7 629.7h0M440.4 623.3h0M440.4 622.4h0M443.5 621.5h0M418.5 632.8h0M418 631.4h0M442 622.6h0M424.7 630.7h0M439.2 624h0M422.5 633h0M423.1 633.8h0M420.3 635.3h0M423.3 633.9h0M424.4 633.6h0M419.6 633.8h0M431 628.4h0M420.6 634.2h0M430.4 631.2h0M419.5 635h0M429.3 629.6h0M429.2 633.2h0M446.4 623.8h0M441.3 626.3h0M446.2 624.8h0M434.6 629.3h0M425.5 634.7h0M423.1 635.6h0M425.6 635h0M445.3 625.8h0M425.3 636.3h0M445.6 628.6h0M443.4 628.3h0M427.8 637.6h0M425.1 637.9h0M443.9 628.7h0M431.2 634.9h0M448.2 626.4h0M431.1 635.4h0M425.1 639.2h0M428.8 637.3h0M425.8 637.5h0M424.5 638.9h0M427.8 639.2h0M429.3 638.1h0M430.1 640.4h0M431.7 638.3h0M432.7 638.8h0M433.7 635.6h0M430 640.4h0M426.6 639.8h0M449.7 628h0M428.9 640.3h0M427.7 640.9h0M451.6 629.2h0M430.9 642.8h0M431.6 642h0M436.5 638.6h0M450.6 631.5h0M430.4 641.2h0M430.3 641.5h0M431.2 642.1h0M454.7 629.9h0M432.7 640.4h0M451.4 629.7h0M437.6 638.8h0M432 641.8h0M454.3 630h0M429.6 642.5h0M428.5 641.3h0M438.5 638.4h0M429.8 640.9h0M437.5 640h0M451.3 633h0M433 643.4h0M451.5 634.8h0M453.6 632.9h0M452 634.3h0M432.4 644.2h0M452.3 634h0M431.7 643.3h0M441.8 641.4h0M436.8 643.4h0M445 641h0M435.7 643.5h0M456.9 634.9h0M435.1 644.3h0M434.7 644.2h0M436.4 644.1h0M441.4 643.3h0M438.2 644.8h0M453.3 635.9h0M443.3 645.2h0M442.1 644h0M443.1 645.2h0M443 645.2h0M457.8 635.2h0M437.2 645.7h0M444.5 646.9h0M440.8 648.4h0M443.3 646.9h0M439.6 647.6h0M459.6 638.3h0M443.6 645.6h0M462.2 640.9h0M443.2 648.7h0M459.5 642.1h0M444.8 649.2h0M441.6 649.2h0M443.7 649.6h0M458.2 640.6h0M443 650h0M453.8 646.2h0M462 641.5h0M465 640.1h0M447.3 650.3h0M448 649.7h0M457.2 647.2h0M447.8 652.1h0M447.8 652.5h0M468.4 642.1h0M447.7 651.9h0M453.7 648.5h0M468.7 644.5h0M467.9 643.8h0M452 652.9h0M468.8 644h0M451 652.6h0M451.7 654h0M451.4 652.5h0M450.2 653.7h0M467 645.2h0M454.4 653.8h0M456 652.6h0M455.2 654.2h0M471.7 644.3h0M456.5 653.3h0M454.1 654.6h0M472 645.3h0M457 654.1h0M473.2 646.3h0M463.9 653.6h0M458.3 656.7h0M469.6 648.1h0M458.8 654h0M457.5 657.1h0M474.9 647.3h0M459.7 653.9h0M462.7 652.4h0M460.7 653.9h0M471.3 647.7h0M462.4 653.8h0M458.8 654.9h0M472.7 648h0M462.4 654.8h0M458.1 657.2h0M466.4 652.8h0M466.9 653.8h0M461.7 656.2h0M475.9 649.4h0M465.5 657.9h0M461.7 658.5h0M465.2 657.5h0M480.1 649.2h0M481.4 651.6h0M467 658.7h0M472.3 656.7h0M466.3 658.8h0M472.9 656.7h0M468.9 658.2h0M470.8 656.9h0M480.7 651h0M464.8 659.8h0M466.9 660.8h0M467.6 660.1h0M484 651.7h0M474.6 656h0M470.1 659.9h0M474.2 657.8h0M470.6 662.3h0M472.4 662.8h0M474.5 661h0M473.4 660.9h0M471.5 662.9h0M478.4 659.9h0M475 664.2h0M472.6 663.8h0M479.3 661.6h0M489.4 655h0M486 656.1h0M473.7 662.4h0M474.1 663.5h0M490.4 656.3h0M488 656.8h0M481.6 662.7h0M486.7 657.1h0M474.8 664.9h0M477.1 664.5h0M481.1 666.5h0M478.3 665.4h0M480 666.1h0M491.7 661.4h0M485.3 666.5h0M480.5 667.6h0M482.2 666.6h0M484.7 665.4h0M494.1 658.3h0M481.8 668h0M489.3 661.2h0M495 660.1h0M483.4 667.1h0M496.9 662h0M488.5 666.9h0M484.6 668.4h0M484.5 668.4h0M485.2 669.5h0M489 667.2h0M487.6 670.8h0M498.5 661.9h0M487.9 670.3h0M487.7 668.9h0M491 668.8h0M498.6 662.3h0M488.6 671.1h0M489.9 668h0M490.5 672.5h0M494.5 667.4h0M492.4 670.6h0M493.5 673.5h0M502 666.2h0M502.8 664.2h0M495.4 669.8h0M496.5 670.2h0M502.2 665.5h0M497.2 669.5h0M501.7 665.6h0M507 664.6h0M505.3 669.4h0M497.8 675.1h0M500.1 675.1h0M498.7 674.4h0M507.2 668.7h0M499.9 674.9h0M502.6 676.4h0M504.1 674.4h0M511.4 668.2h0M511.2 669.1h0M505.2 673.8h0M509.4 669.6h0M503 675.2h0M501.8 676.7h0M503.4 676.9h0M503.9 676.4h0M505.1 677.4h0M510.4 675.1h0M511.7 675.7h0M508.1 679.2h0M516.5 671.1h0M508.3 678.7h0M510.8 679.9h0M508.1 680.1h0M511.7 677.5h0M513.6 677h0M508.1 679.6h0M511.7 680.1h0M522.4 673.9h0M522.8 674.5h0M519.8 678.9h0M518.1 677.9h0M523.1 675.4h0M521.8 680.1h0M526.7 674.3h0M524.6 679.8h0M523.7 681.9h0M523.1 681.6h0M522.7 684.6h0M528.4 681.2h0M530.4 675.9h0M523.7 684.2h0M528.3 684.5h0M529.1 684.4h0M527.1 683.4h0M526.9 684.6h0M528 686.4h0M538 678.1h0M531.6 686.1h0M534.7 679h0M531.6 683.6h0M528.1 686.7h0M536 678.8h0M536.8 679.4h0M528.7 686.4h0M528.8 687.1h0M532.7 684.4h0M536.8 680.3h0M536.6 683.3h0M532.1 686.9h0M537.1 680.8h0M532 686.9h0M535.4 687.9h0M539.5 682.3h0M534.3 688h0M541.1 680.2h0M536 686.6h0M539.7 680.9h0M543.3 679.3h0M540.7 680h0M542.6 681.2h0M544 680.1h0M545.4 680.1h0M537.5 688.4h0M542.7 689.9h0M540.4 689.7h0M540.6 690.3h0M546.9 682.8h0M540 689.4h0M546.7 681.8h0M550.7 681.8h0M553 681.7h0M548 689.6h0M549.2 688.1h0M547.5 689.7h0M554.1 682.9h0M552.6 687.8h0M554 689.9h0M552.7 691.1h0M557.8 683.9h0M554.4 692.4h0M553.8 689.6h0M558.6 683.8h0M552 691.7h0M561 683.7h0M558.9 685.2h0M561.6 684.9h0M564.4 689.7h0M564 686.7h0M563.6 693h0M565.9 686.2h0M562.3 690.6h0M563.8 687.3h0M562.6 694.6h0M561.5 694.3h0M565.6 694.2h0M565.3 693.4h0M567.9 687.7h0M568.5 688.2h0M564.1 695.1h0M567.6 685.8h0M564.1 694.4h0M565.1 695h0M570.5 688.3h0M570.3 687.5h0M569.3 688.5h0M569.3 691.9h0M569.6 692.1h0M570.3 692.2h0M572.1 686.8h0M573.9 689.7h0M572.6 695.2h0M573.6 691.3h0M571.3 692.1h0M571.1 690.4h0M571.6 691.2h0M570.6 692.4h0M570.7 694.8h0M571.7 692.1h0M572.3 694.8h0M570.9 692.6h0M575.9 689.8h0M576.2 688.3h0M576 689.5h0M576.5 687.8h0M574.9 696.4h0M576.2 693h0M576.5 696.4h0M577.7 695.1h0M579.2 688.8h0M577.7 696.5h0M579.6 689.5h0M576.4 691.9h0M578.1 693.9h0M576.3 693h0M580.8 693.8h0M580.1 693.1h0M581.3 690.3h0M579.2 692.9h0M580.2 694.5h0M583.3 692.6h0M582 695.1h0M582.4 691.5h0M583.4 696.8h0M584.2 695.2h0M582.6 691.2h0M399.6 557.1h0M400.7 560.3h0M403.1 561.6h0M403.1 565.2h0M404.8 567.4h0M406.1 570.2h0M408.3 575h0M408.6 578h0M411.1 579.6h0M413.3 581.9h0M413.9 586.3h0M415.5 589h0M418.1 592h0M418.8 594.1h0M421.4 596.5h0M423.8 599.8h0M426.2 600.6h0M428.5 603h0M430.6 605.8h0M431.9 608.3h0M433.3 612.1h0M436.1 613.1h0M439.2 615.9h0M441.2 618.2h0M444.1 619h0M447 622.6h0M449.6 624.1h0M451.2 625.6h0M454.2 628h0M456.8 630.2h0M458.8 633.7h0M460.4 635.6h0M462.2 638.5h0M465.6 639.2h0M468.6 642.1h0M469.9 642.8h0M473 645.9h0M476.5 646.2h0M479.1 648.4h0M482.5 651.2h0M485.3 651.7h0M487 654.6h0M490 656h0M494.1 656.2h0M495.8 658.2h0M498.8 660.3h0M502 661h0M503.9 664.2h0M507.6 665.4h0M510 667.1h0M513.3 667.9h0M515.9 668.6h0M519.9 671.2h0M522.3 672.8h0M524.5 673.8h0M527.6 674.8h0M531.2 675.7h0M534.6 675.9h0M538.1 678.2h0M541.2 677.7h0M543.6 678.9h0M547.4 679.6h0M551.1 681.3h0M553.2 680.9h0M557.2 683.5h0M560.4 683.1h0M562.6 685.1h0M566 685.2h0M569.3 685.5h0M571.4 685.6h0M576.1 686.9h0M578.9 687.8h0M582.7 689.1h0M584.3 690.3h0M386.7 734.4h0M398.1 735.3h0M395.8 726.6h0M431 766.4h0M417.9 746.1h0M397.5 776.4h0M387.9 739.9h0M383.1 738.1h0M391.2 769.1h0M453.5 729.3h0M441.2 743.1h0M439.8 782.5h0M412.1 722.6h0M374.6 717.3h0M410 753.7h0M405 741.5h0M407.4 778.5h0M446.9 732.1h0M398.2 771h0M385.6 753.5h0M439.5 746.3h0M459 733.4h0M381 736h0M393.5 725.9h0M388.1 758.7h0M427.5 729.6h0M406 724.6h0M383.2 747.4h0M459.9 732.8h0M425.8 779.7h0M380.9 720.3h0M415.7 786h0M458.8 759.4h0M401.9 721.1h0M420.2 739.1h0M377.8 720.7h0M408.1 721.1h0M435.4 735.6h0M424.6 726.4h0M410 767.6h0M439.4 737.4h0M419.9 787.2h0M398.8 719.9h0M391.3 759.3h0M385.1 725.9h0M435.6 741.8h0M391.6 739.9h0M421.1 736.6h0M420.6 725.8h0M383.6 718.1h0M411.3 728.1h0M431.8 726.5h0M423.4 749h0M420.1 728.6h0M403.1 739.6h0M426.5 766.9h0M462.9 743.2h0M381.6 725.7h0M433.4 760.8h0M407.6 725.3h0M465.5 733.5h0M433.5 750.6h0M391.1 753.5h0M403.8 788.1h0M417 791.9h0M391.1 728.3h0M440 783.9h0M402.8 747.9h0M418.2 726.2h0M455.4 737.7h0M411.4 762.7h0M418.4 760.8h0M462.2 729.6h0M457.2 734.3h0M401.3 721.3h0M417.2 727.5h0M430.4 737.4h0M457.7 743.6h0M456.2 741.3h0M454.8 741.7h0M439.1 755.3h0M412.4 723.9h0M395.3 726.6h0M395.3 735.4h0M458.2 744.3h0M381.3 735.4h0M429.6 724.9h0M396.6 774.3h0M421.1 756h0M409.1 792.8h0M434 786h0M394.5 728h0M445.1 744.7h0M453.6 729.8h0M444.3 729.4h0M392 729.3h0M428.2 743.6h0M456 728.9h0M450 750h0M419.2 781.9h0M447.3 762.3h0M392 732.2h0M387.3 721.9h0M403.1 726.7h0M374.6 730.9h0M421.4 769h0M392.4 753.2h0M401.5 747.2h0M435.6 751.1h0M386.5 732.3h0M456.1 740.2h0M436.2 728.1h0M403.9 724.6h0M376.1 722.6h0M391 729.2h0M398.4 740.2h0M415.3 749.2h0M383.3 742.5h0M398.8 762.4h0M412.5 792.2h0M385.9 755.8h0M457.9 738.1h0M459.7 734.7h0M415.8 745.9h0M376.3 729.7h0M401.1 727.2h0M412.8 768.1h0M376.4 723.3h0M434.2 767h0M387.1 729.7h0M456.4 749h0M384.8 719.1h0M377.2 729.8h0M452 729.2h0M455.9 731.1h0M393 718.7h0M439.2 726.7h0M385.1 728.8h0M441.3 770.1h0M421.3 784.7h0M457.5 730h0M426.7 738h0M428.3 777.7h0M453 748.3h0M417.2 736.3h0M425.9 757.9h0M460.8 739.4h0M439.9 767.9h0M405.9 730h0M411.1 790.5h0M455 732.7h0M399.5 720.8h0M379.6 729h0M443.2 731h0M389.5 753h0M400.4 730.7h0M424.5 741.4h0M446.2 727.9h0M407.7 734.6h0M404.4 762.9h0M425.9 749.3h0M415.8 728.5h0M459.1 729.2h0M443.9 760.5h0M435.4 727.6h0M386 726.9h0M439 728h0M427 726.5h0M426.8 749.2h0M412.9 794h0M435.3 773.5h0M414.9 798.8h0M408.4 776.8h0M384.7 733.6h0M417 769.3h0M409.4 800h0M416.2 774.2h0M394.1 727.2h0M425.2 740.7h0M409 785h0M421.9 771.2h0M392.7 718.3h0M415.6 754.4h0M381.1 723h0M461.3 744.2h0M445 730.7h0M426.4 797.7h0M438.1 745.3h0M393.6 720.9h0M426.4 725.4h0M379.1 732.8h0M422.1 734.2h0M412.9 747.2h0M374.3 719h0M456.4 745h0M414.8 722.3h0M376 725.9h0M437.5 747h0M433.1 750.7h0M391.4 725.8h0M412 790.2h0M453.4 745.3h0M417.8 737.5h0M394.6 732.4h0M455.4 733h0M385.6 744.2h0M417.8 755.2h0M449.5 744.8h0M409.1 754.7h0M397.8 767.8h0M427.5 765.5h0M430.5 727.6h0M397.8 756.8h0M445.2 750.2h0M452.6 757.7h0M386.4 730h0M449.1 728.4h0M389.3 731.9h0M408.5 750h0M382.8 717.4h0M444.1 759.1h0M381.7 723.2h0M393.9 747.3h0M459.8 745.6h0M427.3 747.3h0M394.4 725.5h0M394.1 770.3h0M428.5 768h0M450.2 734.8h0M377.8 722.2h0M415.3 722.6h0M435.5 733.2h0M464.4 749.1h0M387.8 730.5h0M404.6 722.7h0M426.9 747.8h0M425.2 723.6h0M411.6 731.3h0M430.2 734.2h0M430.7 790h0M433.9 750.6h0M389.4 723.5h0M406.1 781.1h0M400.4 720.4h0M456.7 742.1h0M434.2 730.2h0M376 724.6h0M436.8 731.6h0M420.9 728.7h0M418.7 728.2h0M435.8 731.4h0M459.6 735.6h0M411.6 733h0M437.4 768h0M403.2 791.4h0M442.4 751.6h0M400.2 727.7h0M412.8 723h0M441 737.8h0M390.1 743.2h0M411.1 733.6h0M379 746.4h0M385 731.1h0M374.5 720.2h0M463.5 743.4h0M391.3 751.5h0M463.3 754.8h0M443.6 728.3h0M417.4 745.2h0M428.2 732.3h0M394.9 725.8h0M383.6 735.7h0M382.5 718.7h0M415.2 728.9h0M391.2 718.8h0M428 770.9h0M425.8 754.1h0M449.5 732.7h0M405.1 729.6h0M415.5 737.9h0M458.8 729.9h0M387.1 718.8h0M413.1 737.6h0M433.4 740.5h0M390.3 717.7h0M449.9 737.3h0M377.5 717.2h0M410.6 764.7h0M386.8 736.7h0M424.1 733.1h0M430.6 742.2h0M391.6 751.1h0M457.1 738h0M458.3 732h0M383.8 726.9h0M396.3 738.6h0M465.1 744.3h0M398.2 742.6h0M448.8 751.4h0M465.4 746.2h0M384.9 741.2h0M403.8 780h0M398.8 725.6h0M414 722.4h0M421.6 763.5h0M457.8 736.5h0M427.3 739.7h0M451.7 753.3h0M384.6 755.7h0M376.9 737.8h0M387.7 745.2h0M448.6 756.9h0M427.9 785.9h0M428.3 763.3h0M417.4 799.5h0M438.5 768.3h0M384.1 722.6h0M433.3 784.1h0M388.7 727.3h0M412.8 767.4h0M417.5 728.9h0M457.8 750.4h0M396.1 735.8h0M393.9 761.8h0M395.5 746.9h0M413.7 798.8h0M383.2 717.7h0M448 736.6h0M385 756.6h0M464.2 733.7h0M429.4 724.2h0M397.6 771.1h0M414.2 730.8h0M412.6 731h0M389.1 751.8h0M413.2 745.5h0M394.1 743.8h0M408.8 724.1h0M453.7 729.6h0M425.6 771.3h0M462 743.3h0M427.1 729.1h0M438 780.4h0M448.9 734.8h0M416.8 729.2h0M465.3 733.3h0M412.9 778.8h0M413.2 722.8h0M432.2 725.1h0M390.1 724.5h0M438.7 739.2h0M421 726.5h0M432 727.2h0M435.5 739.5h0M436.3 763.3h0M436.9 775.1h0M430.2 756h0M413.9 743.5h0M379.3 743h0M450.6 737.4h0M391.9 731.5h0M399.3 753.3h0M424.2 723.1h0M453.1 741.8h0M414.7 722.7h0M443.2 730.5h0M442.8 753.7h0M393.6 762.5h0M400 718.9h0M431.6 730.1h0M457.1 736.6h0M379.3 722.1h0M390.9 722.1h0M435.3 775.4h0M433.8 728.5h0M407.4 764.4h0M444.3 733.4h0M398.8 721.8h0M464 748.5h0M432.9 733.3h0M396.9 729.4h0M391.2 744.7h0M438.8 732.4h0M412.8 727.9h0M456.9 729.6h0M427.5 733.9h0M441.3 737.9h0M431.2 743.3h0M463.9 730.2h0M449.8 729.8h0M386.6 739.8h0M432.8 770.2h0M429.6 779h0M406.4 731.4h0M463.9 744.7h0M376.5 729.1h0M459.1 743.1h0M422.6 778.6h0M413.7 753h0M454.2 738.6h0M387.8 730.1h0M416.6 755.9h0M463.1 740.5h0M412.1 723.7h0M411.9 741.9h0M462.4 743.4h0M428.5 724.5h0M413 729.1h0M452.3 733.7h0M412.7 767.6h0M408.1 735h0M440.9 733.5h0M389.1 723.6h0M440.3 779.5h0M427.4 764.2h0M413.8 735.8h0M399.5 719.5h0M456.7 735.4h0M426.4 723.8h0M430.7 752.8h0M385.9 721.3h0M383.1 751.4h0M405.7 775.7h0M442.4 743.9h0M465.3 747.1h0M459.3 744.8h0M437.3 763.2h0M451.4 734.8h0M410.6 762.2h0M427.7 723.8h0M423.1 740.2h0M408.8 778h0M463.7 741h0M413.2 728.9h0M462.7 731h0M399.5 734.5h0M447.5 744.8h0M425.1 740.9h0M410.9 728.1h0M423.4 793.9h0M426.4 726.9h0M437.9 737.9h0M388 741.2h0M445.2 728.1h0M416.6 778.5h0M436.3 729.3h0M430.9 741.7h0M426.6 750h0M383.1 733.1h0M456.7 749.5h0M438.4 745.8h0M411.4 753.9h0M439.9 727.4h0M387.8 729.1h0M402.1 796.3h0M429.2 741.7h0M446.6 739.8h0M450 747.5h0M381.8 726.6h0M381.7 733.4h0M388.1 721h0M381.3 736.5h0M410.4 737.9h0M441.2 762.7h0M377.1 724.3h0M399.1 778.3h0M392.5 719h0M398.9 720h0M461 739.6h0M373.7 724.3h0M436.2 761.2h0M406.1 782.3h0M391.6 731.1h0M457.7 733.2h0M460.1 741.3h0M396.2 767h0M432.8 734.2h0M404.2 769.9h0M419.9 753.6h0M414.5 722.2h0M401.3 792.1h0M414.9 721.3h0M384.2 722.8h0M424.9 743.9h0M388.1 723h0M416.3 797.6h0M435.4 726.6h0M390.4 757.8h0M401.8 728.1h0M442.8 729.1h0M387.7 735.8h0M386.7 717.2h0M407.6 727.9h0M373.9 724.3h0M384.2 719.1h0M439.4 775h0M410.2 763h0M394.1 733.4h0M422.8 745h0M374.8 719.2h0M382.2 744.7h0M396.9 741.9h0M382.6 731.7h0M404.5 723.8h0M419.4 730.4h0M403.9 748.5h0M373.8 722.4h0M384.4 717.4h0M400.1 727.5h0M397.2 738.8h0M417.3 728.1h0M400.6 729.3h0M406.4 733h0M413.7 743.7h0M385.7 721.3h0M419 730.1h0M449.1 732h0M429.3 750.8h0M391.4 751.3h0M410 739.2h0M388.7 740.5h0M418.7 752.2h0M392 744.5h0M387.8 732.5h0M441.7 765.8h0M441.7 733.8h0M406.5 721.5h0M460.1 737.7h0M448 766.3h0M411.3 761.6h0M425.3 723.3h0M424.7 724h0M440.3 732.5h0M438.7 752.5h0M410.3 728.8h0M429.9 757.1h0M381.6 731.6h0M458.3 752.8h0M449 741.4h0M383 749.1h0M426.8 782h0M430.4 742h0M413 733.9h0M381 718.1h0M455.6 738.3h0M406.6 731.7h0M397 724.6h0M426.1 754.6h0M415.9 746h0M445.8 728.1h0M395.3 757.5h0M402.2 720.6h0M455.7 731.9h0M374.7 719h0M419.4 789.9h0M439.5 728.8h0M432.8 784.3h0M421 722.5h0M415.8 764.1h0M422.4 731.8h0M438 765h0M428 756.8h0M450.1 741.9h0M449.1 740.2h0M432.8 792.7h0M419.8 750.8h0M392.8 718.2h0M433.4 739.4h0M414 775.9h0M379.1 736.7h0M409.8 722.3h0M419.3 750.8h0M395.7 732.9h0M409.5 757.8h0M390.8 719.7h0M389.3 721.5h0M456.7 735.9h0M388.5 730.2h0M377.9 724.6h0M394.7 765.9h0M432.4 789.7h0M426.5 723.6h0M397.7 730.2h0M400.6 757.1h0M399.8 721.2h0M391.7 774.9h0M404.7 731.6h0M384.5 727.6h0M397.2 775.5h0M389.7 721.9h0M427 781.3h0M429.9 737.9h0M375.6 720.6h0M465.9 737.2h0M457 743.7h0M403.8 738.7h0M395.7 729.2h0M389.6 740.4h0M429.2 743.9h0M373.4 719h0M392.7 753.6h0M383.4 742.7h0M404.1 752h0M409.5 764.7h0M395.2 758.6h0M456.4 732h0M409.3 741.6h0M448 728.1h0M399.9 727h0M401.5 767.5h0M447.7 738.5h0M400 754.2h0M402 773.6h0M402 767.5h0M404 735.8h0M424.3 764.8h0M459.2 758.6h0M438.4 768.3h0M414 721.2h0M463.9 738.7h0M455.9 756.4h0M412.4 754.8h0M415.8 738.2h0M420 784.6h0M390 721.2h0M402.1 785.3h0M451.2 758.5h0M386.8 728h0M396.3 756.7h0M444.1 764.6h0M428.2 794.6h0M387.7 756.3h0M389.7 736.9h0M402.3 752.2h0M422.5 735.6h0M454.9 731.6h0M410.9 736.9h0M417.3 789.3h0M413 738.4h0M455.6 740.2h0M418.7 782.4h0M402.2 743.9h0M411.1 726.9h0M399.9 745.2h0M454.9 728.9h0M380.1 728h0M399.5 743.6h0M450.7 736.4h0M378.1 743.1h0M426.2 735.6h0M441.6 755.5h0M441.5 729.9h0M417.5 750.2h0M393.8 735.4h0M453.6 732.7h0M460.7 747.4h0M420.9 764.2h0M377.8 723.8h0M448.8 766.2h0M441.6 727.1h0M391 725.3h0M421.7 793h0M405.7 732.2h0M386.6 728.1h0M391.8 765.6h0M444.6 729.9h0M434.3 762.6h0M429.3 793.4h0M415.9 748.1h0M439.6 756.1h0M459.1 745.8h0M408.1 789.2h0M383.2 738.3h0M392.5 732.8h0M445.2 734.6h0M423.6 752.9h0M409.1 733.5h0M418.9 726.1h0M400.6 764.1h0M424.8 724.4h0M403.9 732.5h0M384.2 752.2h0M415.2 727.8h0M443 756.3h0M450 751.3h0M387.5 730.3h0M413 792.4h0M445.1 748.8h0M450.3 759h0M398.4 748.8h0M448.6 757.1h0M463.5 747.4h0M441.5 729.7h0M401.8 798.6h0M457.4 751.1h0M433.4 750.6h0M401.3 748.5h0M395.5 729.6h0M402.3 785.8h0M387.7 762.2h0M427 768.5h0M451.4 734.1h0M459.2 738.8h0M442.5 748.7h0M427.1 761.5h0M380.4 718.4h0M457.8 747.4h0M437.7 772.5h0M428.6 739.2h0M401.5 757.8h0M437.3 733.2h0M384.5 724h0M391.8 727.3h0M384.5 733.8h0M427.4 747.7h0M433.4 785.8h0M410.9 733.6h0M417 793.1h0M385.8 744.1h0M391.7 750.4h0M424.7 779h0M389.8 756h0M376.4 717.2h0M390.7 731.2h0M385.2 748.2h0M462.1 754.8h0M392.9 733.8h0M418.8 738.2h0M407.8 780.1h0M452 732.7h0M417.3 733.1h0M382.6 729.2h0M410.7 737.5h0M451.3 741.4h0M377.3 717.1h0M380.5 723.9h0M431.7 754.4h0M430.3 775.2h0M442.5 746.1h0M383.4 718.3h0M418.4 735.6h0M430 815.3h0M260.8 811.5h0M468.3 732.5h0M467.6 751.3h0M467.4 737.7h0M466.4 744h0M468.3 735.2h0M468 746.4h0M467.1 729.2h0M467.1 732.7h0M467 750.9h0M467.6 731h0M467.5 735.6h0M471 737h0M469.6 733.9h0M470 729.2h0M469.9 730.8h0M470.2 742.7h0M470 732.5h0M469.2 730.7h0M469.1 729.7h0M471.6 730.8h0M471.2 742.1h0M471.6 739.3h0M471.4 738.7h0M471.3 732.8h0M470.4 736.3h0M470.6 739.1h0M471.2 733.3h0M473.1 729.9h0M472.8 741.2h0M474.9 737.5h0M473.8 730.8h0M473.5 749.2h0M474.4 733h0M474.2 736.7h0M475.1 740.7h0M473.1 738h0M474.9 739.1h0M472.4 730.3h0M473.8 739.5h0M473.6 736.7h0M476.2 741.6h0M477.7 737.7h0M477.9 735.7h0M476.8 749.5h0M475.5 731.3h0M475.5 735.6h0M477.8 743.1h0M476.1 743.5h0M476.8 732.1h0M475.6 745.7h0M478.2 737.7h0M475.8 730.1h0M475.8 740h0M477.6 740.1h0M478.3 731.2h0M479.7 733.9h0M481.1 736.2h0M480.4 730.9h0M480.8 739.3h0M478.8 746.7h0M478.5 739.8h0M479.7 737.4h0M480.9 746.1h0M479.4 732.3h0M481.1 730h0M479.6 748.5h0M480.9 742.5h0M480 729.2h0M480 730h0M481.6 748.8h0M482.1 742.5h0M481.5 729.2h0M481.6 739.3h0M483.6 732.7h0M481.4 740.8h0M482.6 735.4h0M484.3 734.7h0M482.1 729.2h0M482.9 747.8h0M482 740.9h0M482.7 730.2h0M486.2 739.4h0M486.6 741h0M485.1 733.2h0M484.4 749h0M485.5 731h0M484.9 729.4h0M487.4 732.8h0M487 742.1h0M486.8 739.1h0M490.3 737.4h0M489.6 744.6h0M490.1 735.7h0M488.7 733.9h0M490 748.9h0M488 740.1h0M489.5 744.1h0M489.6 737.1h0M489.5 741.9h0M489 747.4h0M487.7 749h0M487.9 745.2h0M489.4 737.8h0M488.3 748.2h0M492.4 736.4h0M492.4 745.7h0M492.7 732.9h0M491.9 734.5h0M492.8 737.1h0M491.9 740.6h0M492.4 729.2h0M490.8 730.1h0M493.2 742.4h0M492.9 741h0M491 746.9h0M492.5 731.1h0M493.1 745.7h0M494.8 745.9h0M495.3 741.6h0M493.8 735.6h0M494.3 734.4h0M494.3 732.7h0M495.8 735.8h0M496 729.6h0M495.9 739.2h0M494.1 731.5h0M493.8 747.5h0M497.6 748.9h0M499 744.6h0M497.2 734.8h0M498.5 749.5h0M499.2 743.6h0M498 733h0M496.9 736.7h0M497.2 732.2h0M499.3 739.8h0M497.7 733.8h0M496.8 730.1h0M502.4 737.4h0M501 736.5h0M500.9 740.7h0M502.2 741.1h0M500.4 737.4h0M502.7 738.3h0M501.2 735.3h0M504.3 734.6h0M505 733.9h0M505.2 747.5h0M504.1 738.6h0M504 747.3h0M503.3 742.4h0M503.9 744.5h0M505.4 749.4h0M505.4 743.3h0M504.7 735.9h0M503.9 739.7h0M504 736h0M504.4 733.5h0M506.8 749.4h0M507.6 740.1h0M506.9 732.5h0M506.4 748.9h0M506.4 740.7h0M507.3 736h0M507.4 732h0M506.5 734.8h0M507.6 733.9h0M507.4 732.1h0M508.6 734.8h0M507 747.3h0M506.3 748.5h0M507 735.4h0M506.2 733.8h0M509 736.7h0M510.5 745.2h0M508.9 733.5h0M511.8 748h0M509 732.9h0M509.6 732.6h0M509.4 742.2h0M508.9 738.7h0M510.5 743.3h0M509.8 737.5h0M510.2 739.4h0M509.6 748.3h0M515 749.1h0M513 734h0M511.9 737.3h0M513.9 747.4h0M513.5 735.4h0M513.4 735.8h0M513 742.8h0M514.7 744.4h0M513.4 736h0M514.3 735.9h0M514.5 737.1h0M514.1 737.1h0M512.5 733.5h0M517.8 745h0M517 744.6h0M515.8 740.6h0M518 742.2h0M516.9 738.7h0M516.4 737.2h0M515.2 738.7h0M516.2 736.3h0M517.6 741.7h0M515.2 740.5h0M517.3 745.2h0M515.3 737h0M516.9 735.8h0M516.2 738h0M518.8 747.1h0M519.5 735.3h0M518 734.3h0M520.4 743.2h0M519.3 737.6h0M519.6 744.4h0M519.4 735.4h0M519.1 746.6h0M518.9 744.4h0M520.7 734.4h0M519.8 734.9h0M522.7 750.5h0M522.1 751.8h0M523.1 738.3h0M521.4 742.6h0M524.2 748.1h0M522.4 738.3h0M523.7 739h0M523.2 741h0M522.9 750.1h0M525.8 739.6h0M525.5 736h0M524.4 740h0M526 740.9h0M525.5 742.9h0M524.9 739.4h0M524.4 735.2h0M525.4 735.3h0M525.1 738.9h0M525.7 745.9h0M526.7 749.5h0M529.2 742.2h0M528.8 737h0M527.4 740.7h0M527 735.7h0M529.4 738.3h0M528.1 742h0M528.9 739.8h0M530.5 750.2h0M530.2 752.1h0M527.2 742.5h0M529.6 736.5h0M529.5 747.8h0M529.1 747.8h0M529.5 743.5h0M528 746h0M529.1 743.7h0M531 750.6h0M531 747h0M533 741.9h0M532.7 743.7h0M530.6 736.7h0M531.5 745.5h0M532.7 739.2h0M532.1 742.6h0M531.6 745.6h0M531.3 740.1h0M534.8 744.7h0M534.4 751.7h0M535.1 740.4h0M535 743.8h0M533.8 739.7h0M535.5 741.3h0M533.3 739.8h0M535.8 750.5h0M534.6 740.7h0M535.8 743.7h0M534 741.4h0M534.3 746.7h0M536.4 752.1h0M537.7 741h0M538.5 738.9h0M537.7 745.7h0M536.5 743.6h0M536.4 738.8h0M537.8 749.4h0M537.4 749.5h0M536.9 737.9h0M536.2 738.5h0M536.3 744.2h0M541.8 748.1h0M541.5 739.1h0M541.1 741.4h0M539.9 742.3h0M539.9 742.6h0M540 742.3h0M542.4 750.8h0M539.7 745.3h0M545.2 748.1h0M543.6 743.3h0M544.4 741.9h0M541.9 739.8h0M544.2 748.7h0M545.2 740.2h0M545.9 749.4h0M546.8 747.7h0M548.2 746.3h0M546 747.7h0M551.2 743.2h0M550.3 740.5h0M550.5 744.3h0M548.5 742.6h0M548.8 740.8h0M550.1 746.2h0M552.4 744h0M552.3 746.5h0M553.8 744.5h0M552.3 746.8h0M551.4 739.8h0M553.2 743.6h0M554.1 741.7h0M552.4 748.8h0M555.3 749.2h0M555.3 739.9h0M554.3 739.5h0M554.6 741.3h0M554.5 740.2h0M559.8 744.1h0M558.2 742.1h0M560.2 751.4h0M557.2 739.9h0M557.5 744.9h0M557.4 741.9h0M559.8 751.4h0M558.2 747.5h0M563.2 744.4h0M561.1 750h0M562.1 742h0M560.5 741.4h0M563.9 744h0M564.3 747.6h0M564.8 748.2h0M565.5 749.7h0M568.4 744.9h0M568.3 740.6h0M569.1 747.7h0M567.5 743.5h0M569.1 742.4h0M571.2 742h0M571.9 742.2h0M570 742.1h0M570 743.9h0M572.2 744.3h0M573.1 744.4h0M572.6 745.3h0M575 748.1h0M575 745h0M575.2 748.2h0M573.1 742.7h0M573.3 744.1h0M573.6 742.3h0M573.3 747.1h0M577 746.9h0M577.9 741.5h0M577.6 743.4h0M577.5 746.3h0M576 742.6h0M578.4 745.7h0M579.7 745.4h0M579.5 741.8h0M580.8 745.8h0M580.2 745.3h0M579.5 744.5h0M582.6 742.7h0" stroke="url(#cm)" stroke-width="2.80" stroke-linecap="round" fill="none"/>
</g>
<g><path d="M151.7 556.3V833.4M247.9 556.3V833.4M344.1 556.3V833.4M440.3 556.3V833.4M536.5 556.3V833.4M103.6 798.76H584.6M103.6 764.12H584.6M103.6 729.49H584.6M103.6 694.85H584.6M103.6 660.21H584.6M103.6 625.58H584.6M103.6 590.94H584.6" stroke="#b4b4b4" stroke-width="0.9" fill="none"/>
<rect x="103.6" y="556.3" width="481" height="277.1" fill="none" stroke="#4a4a4a" stroke-width="1.1"/>
<path d="M151.7 833.4v4M247.9 833.4v4M344.1 833.4v4M440.3 833.4v4M536.5 833.4v4M103.6 833.4h-4M103.6 798.76h-4M103.6 764.12h-4M103.6 729.49h-4M103.6 694.85h-4M103.6 660.21h-4M103.6 625.58h-4M103.6 590.94h-4M103.6 556.3h-4" stroke="#4a4a4a" stroke-width="1" fill="none"/>
<text x="95.4" y="837" font-size="10" font-family='"Liberation Sans", sans-serif' fill="#222" text-anchor="end" textLength="22.6" lengthAdjust="spacingAndGlyphs" >0.00</text>
<text x="95.4" y="802.4" font-size="10" font-family='"Liberation Sans", sans-serif' fill="#222" text-anchor="end" textLength="22.6" lengthAdjust="spacingAndGlyphs" >0.25</text>
<text x="95.4" y="767.7" font-size="10" font-family='"Liberation Sans", sans-serif' fill="#222" text-anchor="end" textLength="22.6" lengthAdjust="spacingAndGlyphs" >0.50</text>
<text x="95.4" y="733.1" font-size="10" font-family='"Liberation Sans", sans-serif' fill="#222" text-anchor="end" textLength="22.6" lengthAdjust="spacingAndGlyphs" >0.75</text>
<text x="95.4" y="698.5" font-size="10" font-family='"Liberation Sans", sans-serif' fill="#222" text-anchor="end" textLength="22.6" lengthAdjust="spacingAndGlyphs" >1.00</text>
<text x="95.4" y="663.8" font-size="10" font-family='"Liberation Sans", sans-serif' fill="#222" text-anchor="end" textLength="22.6" lengthAdjust="spacingAndGlyphs" >1.25</text>
<text x="95.4" y="629.2" font-size="10" font-family='"Liberation Sans", sans-serif' fill="#222" text-anchor="end" textLength="22.6" lengthAdjust="spacingAndGlyphs" >1.50</text>
<text x="95.4" y="594.5" font-size="10" font-family='"Liberation Sans", sans-serif' fill="#222" text-anchor="end" textLength="22.6" lengthAdjust="spacingAndGlyphs" >1.75</text>
<text x="95.4" y="559.9" font-size="10" font-family='"Liberation Sans", sans-serif' fill="#222" text-anchor="end" textLength="22.6" lengthAdjust="spacingAndGlyphs" >2.00</text>
<text x="151.7" y="849" font-size="10" font-family='"Liberation Sans", sans-serif' fill="#222" text-anchor="middle" textLength="31.2" lengthAdjust="spacingAndGlyphs" >−0.04</text>
<text x="247.9" y="849" font-size="10" font-family='"Liberation Sans", sans-serif' fill="#222" text-anchor="middle" textLength="31.2" lengthAdjust="spacingAndGlyphs" >−0.02</text>
<text x="344.1" y="849" font-size="10" font-family='"Liberation Sans", sans-serif' fill="#222" text-anchor="middle" textLength="22.6" lengthAdjust="spacingAndGlyphs" >0.00</text>
<text x="440.3" y="849" font-size="10" font-family='"Liberation Sans", sans-serif' fill="#222" text-anchor="middle" textLength="22.6" lengthAdjust="spacingAndGlyphs" >0.02</text>
<text x="536.5" y="849" font-size="10" font-family='"Liberation Sans", sans-serif' fill="#222" text-anchor="middle" textLength="22.6" lengthAdjust="spacingAndGlyphs" >0.04</text>
<g transform="translate(66 711.11) rotate(-90)"><text x="0" y="0" font-size="16" font-family='"Liberation Sans", sans-serif' fill="#222" textLength="30.6" lengthAdjust="spacingAndGlyphs" >RDG</text></g>
<text x="287.3" y="866.8" font-size="14.6" font-family='"Liberation Sans", sans-serif' fill="#222" textLength="36.3" lengthAdjust="spacingAndGlyphs" >sign(</text>
<text x="323.9" y="866.8" font-size="14.6" font-family='"Liberation Sans", sans-serif' fill="#222" font-style="italic" textLength="8.6" lengthAdjust="spacingAndGlyphs" >λ</text>
<text x="333.5" y="869.6" font-size="10.4" font-family='"Liberation Sans", sans-serif' fill="#222" textLength="6.9" lengthAdjust="spacingAndGlyphs" >2</text>
<text x="340.9" y="866.8" font-size="14.6" font-family='"Liberation Sans", sans-serif' fill="#222" textLength="4.6" lengthAdjust="spacingAndGlyphs" >)</text>
<text x="345.6" y="866.8" font-size="14.6" font-family='"Liberation Sans", sans-serif' fill="#222" font-style="italic" textLength="9.8" lengthAdjust="spacingAndGlyphs" >ρ</text>
<text x="361.3" y="866.8" font-size="14.6" font-family='"Liberation Sans", sans-serif' fill="#222" textLength="39.6" lengthAdjust="spacingAndGlyphs" >(a.u.)</text>
<rect x="614.6" y="556.3" width="15.0" height="277.1" fill="url(#cbar)" stroke="#4a4a4a" stroke-width="1"/>
<text x="637" y="560.8" font-size="12.6" font-family='"Liberation Sans", sans-serif' fill="#222" textLength="36" lengthAdjust="spacingAndGlyphs" >0.020</text>
<text x="637" y="586" font-size="12.6" font-family='"Liberation Sans", sans-serif' fill="#222" textLength="36" lengthAdjust="spacingAndGlyphs" >0.015</text>
<text x="637" y="611.2" font-size="12.6" font-family='"Liberation Sans", sans-serif' fill="#222" textLength="36" lengthAdjust="spacingAndGlyphs" >0.010</text>
<text x="637" y="636.4" font-size="12.6" font-family='"Liberation Sans", sans-serif' fill="#222" textLength="36" lengthAdjust="spacingAndGlyphs" >0.005</text>
<text x="637" y="661.6" font-size="12.6" font-family='"Liberation Sans", sans-serif' fill="#222" textLength="36" lengthAdjust="spacingAndGlyphs" >0.000</text>
<text x="637" y="686.8" font-size="12.6" font-family='"Liberation Sans", sans-serif' fill="#222" textLength="40.6" lengthAdjust="spacingAndGlyphs" >-0.005</text>
<text x="637" y="711.9" font-size="12.6" font-family='"Liberation Sans", sans-serif' fill="#222" textLength="40.6" lengthAdjust="spacingAndGlyphs" >-0.010</text>
<text x="637" y="737.1" font-size="12.6" font-family='"Liberation Sans", sans-serif' fill="#222" textLength="40.6" lengthAdjust="spacingAndGlyphs" >-0.015</text>
<text x="637" y="762.3" font-size="12.6" font-family='"Liberation Sans", sans-serif' fill="#222" textLength="40.6" lengthAdjust="spacingAndGlyphs" >-0.020</text>
<text x="637" y="787.5" font-size="12.6" font-family='"Liberation Sans", sans-serif' fill="#222" textLength="40.6" lengthAdjust="spacingAndGlyphs" >-0.025</text>
<text x="637" y="812.7" font-size="12.6" font-family='"Liberation Sans", sans-serif' fill="#222" textLength="40.6" lengthAdjust="spacingAndGlyphs" >-0.030</text>
<text x="637" y="837.9" font-size="12.6" font-family='"Liberation Sans", sans-serif' fill="#222" textLength="40.6" lengthAdjust="spacingAndGlyphs" >-0.035</text>
<path d="M629.6 556.3h3.8M629.6 581.49h3.8M629.6 606.68h3.8M629.6 631.87h3.8M629.6 657.06h3.8M629.6 682.25h3.8M629.6 707.45h3.8M629.6 732.64h3.8M629.6 757.83h3.8M629.6 783.02h3.8M629.6 808.21h3.8M629.6 833.4h3.8" stroke="#4a4a4a" stroke-width="1" fill="none"/>
<rect x="154" y="938.57" width="384.9" height="24.25" fill="url(#lbar)"/>
<text x="189" y="907" font-size="15" font-family='"Liberation Serif", serif' fill="#111" font-style="italic" textLength="8.6" lengthAdjust="spacingAndGlyphs" stroke="#111" stroke-width="0.14">ρ</text>
<path d="M202.9 897.9L213.9 902.4L202.9 906.9" fill="none" stroke="#111" stroke-width="0.95" stroke-linejoin="miter"/>
<text x="219.3" y="907" font-size="14.2" font-family='"Liberation Serif", serif' fill="#111" textLength="8" lengthAdjust="spacingAndGlyphs" stroke="#111" stroke-width="0.2">0</text>
<text x="184.9" y="929.7" font-size="15.5" font-family='"Liberation Serif", serif' fill="#111" font-style="italic" textLength="9.2" lengthAdjust="spacingAndGlyphs" stroke="#111" stroke-width="0.14">λ</text>
<text x="194.9" y="931.8" font-size="10.2" font-family='"Liberation Serif", serif' fill="#111" textLength="5.6" lengthAdjust="spacingAndGlyphs" stroke="#111" stroke-width="0.2">2</text>
<path d="M218 920.6L207 925.1L218 929.6" fill="none" stroke="#111" stroke-width="0.95" stroke-linejoin="miter"/>
<text x="223.2" y="929.7" font-size="14.2" font-family='"Liberation Serif", serif' fill="#111" textLength="8" lengthAdjust="spacingAndGlyphs" stroke="#111" stroke-width="0.2">0</text>
<text x="326.9" y="907" font-size="15" font-family='"Liberation Serif", serif' fill="#111" font-style="italic" textLength="8.6" lengthAdjust="spacingAndGlyphs" stroke="#111" stroke-width="0.14">ρ</text>
<path d="M341 901.29C342.60 898.49 344.90 898.69 346.50 900.39S350.40 902.29 352.00 899.49M341 905.29C342.60 902.49 344.90 902.69 346.50 904.39S350.40 906.29 352.00 903.49" fill="none" stroke="#111" stroke-width="1.2" stroke-linejoin="miter"/>
<text x="357.5" y="907" font-size="14.2" font-family='"Liberation Serif", serif' fill="#111" textLength="8" lengthAdjust="spacingAndGlyphs" stroke="#111" stroke-width="0.2">0</text>
<text x="323.2" y="929.7" font-size="15.5" font-family='"Liberation Serif", serif' fill="#111" font-style="italic" textLength="9.2" lengthAdjust="spacingAndGlyphs" stroke="#111" stroke-width="0.14">λ</text>
<text x="333" y="931.8" font-size="10.2" font-family='"Liberation Serif", serif' fill="#111" textLength="5.6" lengthAdjust="spacingAndGlyphs" stroke="#111" stroke-width="0.2">2</text>
<path d="M344.7 923.96C346.30 921.16 348.60 921.36 350.20 923.06S354.10 924.96 355.70 922.16M344.7 927.96C346.30 925.16 348.60 925.36 350.20 927.06S354.10 928.96 355.70 926.16" fill="none" stroke="#111" stroke-width="1.2" stroke-linejoin="miter"/>
<text x="361.6" y="929.7" font-size="14.2" font-family='"Liberation Serif", serif' fill="#111" textLength="8" lengthAdjust="spacingAndGlyphs" stroke="#111" stroke-width="0.2">0</text>
<text x="465.7" y="907" font-size="15" font-family='"Liberation Serif", serif' fill="#111" font-style="italic" textLength="8.6" lengthAdjust="spacingAndGlyphs" stroke="#111" stroke-width="0.14">ρ</text>
<path d="M480 897.9L491 902.4L480 906.9" fill="none" stroke="#111" stroke-width="0.95" stroke-linejoin="miter"/>
<text x="496.1" y="907" font-size="14.2" font-family='"Liberation Serif", serif' fill="#111" textLength="8" lengthAdjust="spacingAndGlyphs" stroke="#111" stroke-width="0.2">0</text>
<text x="462" y="929.7" font-size="15.5" font-family='"Liberation Serif", serif' fill="#111" font-style="italic" textLength="9.2" lengthAdjust="spacingAndGlyphs" stroke="#111" stroke-width="0.14">λ</text>
<text x="471.9" y="931.8" font-size="10.2" font-family='"Liberation Serif", serif' fill="#111" textLength="5.6" lengthAdjust="spacingAndGlyphs" stroke="#111" stroke-width="0.2">2</text>
<path d="M483.9 920.6L494.9 925.1L483.9 929.6" fill="none" stroke="#111" stroke-width="0.95" stroke-linejoin="miter"/>
<text x="500.2" y="929.7" font-size="14.2" font-family='"Liberation Serif", serif' fill="#111" textLength="8" lengthAdjust="spacingAndGlyphs" stroke="#111" stroke-width="0.2">0</text>
<path d="M154.30 976.55L154.31 976.85L154.30 977.30L154.31 977.86L154.34 978.50L154.41 979.18L154.56 979.83L154.73 980.41L154.93 980.98L155.20 981.58L155.54 982.19L155.98 982.80L156.53 983.35L157.11 983.81L157.73 984.22L158.42 984.58L159.19 984.90L160.04 985.18L160.99 985.41L162.03 985.59L163.12 985.73L164.29 985.83L165.55 985.90L166.92 985.97L168.45 986.03L170.25 986.09L172.35 986.13L174.57 986.15L176.77 986.18L178.78 986.20L180.46 986.23L181.72 986.26L182.65 986.28L183.41 986.31L184.14 986.34L185.00 986.38L186.13 986.42L187.60 986.48L189.31 986.54L191.14 986.61L192.95 986.68L194.63 986.77L196.05 986.86L197.21 986.97L198.21 987.07L199.08 987.18L199.84 987.31L200.53 987.45L201.19 987.63L201.79 987.82L202.32 988.04L202.79 988.28L203.24 988.54L203.67 988.83L204.08 989.14L204.45 989.45L204.79 989.79L205.11 990.16L205.42 990.57L205.73 991.00L206.01 991.40L206.27 991.85L206.55 992.45L206.82 993.11L207.09 993.74L207.39 994.30L208.20 994.79L209.01 994.30L209.31 993.74L209.58 993.11L209.85 992.45L210.13 991.85L210.39 991.40L210.67 991.00L210.98 990.57L211.29 990.16L211.61 989.79L211.95 989.45L212.32 989.14L212.73 988.83L213.16 988.54L213.61 988.28L214.08 988.04L214.61 987.82L215.21 987.63L215.87 987.45L216.56 987.31L217.32 987.18L218.19 987.07L219.19 986.97L220.35 986.86L221.77 986.77L223.44 986.68L225.25 986.61L227.07 986.54L228.79 986.48L230.27 986.42L231.43 986.38L232.32 986.34L233.09 986.31L233.88 986.28L234.85 986.26L236.13 986.23L237.83 986.20L239.85 986.18L242.04 986.15L244.26 986.13L246.35 986.09L248.15 986.03L249.68 985.97L251.05 985.90L252.31 985.83L253.48 985.73L254.57 985.59L255.61 985.41L256.56 985.18L257.41 984.90L258.18 984.58L258.87 984.22L259.49 983.81L260.07 983.35L260.62 982.80L261.06 982.19L261.40 981.58L261.67 980.98L261.87 980.41L262.04 979.83L262.19 979.18L262.26 978.50L262.29 977.86L262.30 977.30L262.29 976.85L262.30 976.55L259.70 976.41L259.67 976.75L259.65 977.21L259.61 977.72L259.55 978.22L259.47 978.68L259.36 979.06L259.20 979.46L259.02 979.88L258.83 980.26L258.63 980.59L258.40 980.85L258.13 981.09L257.78 981.32L257.38 981.53L256.92 981.72L256.39 981.90L255.75 982.05L254.99 982.20L254.13 982.31L253.18 982.39L252.11 982.45L250.91 982.49L249.55 982.52L248.05 982.57L246.27 982.61L244.20 982.65L242.00 982.68L239.80 982.71L237.78 982.73L236.07 982.76L234.77 982.79L233.78 982.82L232.96 982.84L232.17 982.87L231.27 982.91L230.13 982.96L228.65 983.03L226.94 983.10L225.10 983.18L223.26 983.27L221.54 983.38L220.05 983.51L218.80 983.66L217.72 983.82L216.74 984.00L215.85 984.21L215.01 984.45L214.19 984.73L213.41 985.06L212.69 985.43L212.05 985.84L211.48 986.27L210.97 986.71L210.48 987.18L210.02 987.69L209.60 988.23L209.25 988.78L208.94 989.33L208.67 989.88L208.41 990.46L208.18 991.16L208.03 991.93L207.92 992.65L207.83 993.25L207.77 993.56L208.20 993.40L208.63 993.56L208.57 993.25L208.48 992.65L208.37 991.93L208.22 991.16L207.99 990.46L207.73 989.88L207.46 989.33L207.15 988.78L206.80 988.23L206.38 987.69L205.92 987.18L205.43 986.71L204.92 986.27L204.35 985.84L203.71 985.43L202.99 985.06L202.21 984.73L201.39 984.45L200.55 984.21L199.66 984.00L198.68 983.82L197.60 983.66L196.35 983.51L194.86 983.38L193.13 983.27L191.29 983.18L189.45 983.10L187.74 983.03L186.27 982.96L185.15 982.91L184.29 982.87L183.54 982.84L182.76 982.82L181.81 982.79L180.54 982.76L178.84 982.73L176.81 982.71L174.62 982.68L172.41 982.65L170.34 982.61L168.55 982.57L167.05 982.52L165.69 982.49L164.49 982.45L163.42 982.39L162.47 982.31L161.61 982.20L160.85 982.05L160.21 981.90L159.68 981.72L159.22 981.53L158.82 981.32L158.47 981.09L158.20 980.85L157.97 980.59L157.77 980.26L157.58 979.88L157.40 979.46L157.24 979.06L157.13 978.68L157.05 978.22L156.99 977.72L156.95 977.21L156.93 976.75L156.90 976.41Z" fill="#000"/>
<path d="M292.10 976.55L292.11 976.85L292.10 977.30L292.11 977.86L292.14 978.50L292.21 979.18L292.36 979.83L292.53 980.41L292.73 980.98L293.00 981.58L293.34 982.19L293.78 982.80L294.33 983.35L294.91 983.81L295.53 984.22L296.22 984.58L296.99 984.90L297.84 985.18L298.79 985.41L299.83 985.59L300.92 985.73L302.09 985.83L303.35 985.90L304.72 985.97L306.25 986.03L308.05 986.09L310.15 986.13L312.37 986.15L314.57 986.18L316.58 986.20L318.26 986.23L319.52 986.26L320.45 986.28L321.21 986.31L321.94 986.34L322.80 986.38L323.93 986.42L325.40 986.48L327.11 986.54L328.94 986.61L330.75 986.68L332.43 986.77L333.85 986.86L335.01 986.97L336.01 987.07L336.88 987.18L337.64 987.31L338.33 987.45L338.99 987.63L339.59 987.82L340.12 988.04L340.59 988.28L341.04 988.54L341.47 988.83L341.88 989.14L342.25 989.45L342.59 989.79L342.91 990.16L343.22 990.57L343.53 991.00L343.81 991.40L344.07 991.85L344.35 992.45L344.62 993.11L344.89 993.74L345.19 994.30L346.00 994.79L346.81 994.30L347.11 993.74L347.38 993.11L347.65 992.45L347.93 991.85L348.19 991.40L348.47 991.00L348.78 990.57L349.09 990.16L349.41 989.79L349.75 989.45L350.12 989.14L350.53 988.83L350.96 988.54L351.41 988.28L351.88 988.04L352.41 987.82L353.01 987.63L353.67 987.45L354.36 987.31L355.12 987.18L355.99 987.07L356.99 986.97L358.15 986.86L359.56 986.77L361.21 986.68L362.99 986.61L364.80 986.54L366.53 986.48L368.07 986.42L369.34 986.38L370.40 986.34L371.37 986.31L372.38 986.28L373.53 986.26L374.93 986.23L376.69 986.20L378.72 986.18L380.90 986.15L383.09 986.13L385.16 986.09L386.96 986.03L388.48 985.97L389.85 985.90L391.11 985.83L392.28 985.73L393.37 985.59L394.41 985.41L395.36 985.18L396.21 984.90L396.98 984.58L397.67 984.22L398.29 983.81L398.87 983.35L399.42 982.80L399.86 982.19L400.20 981.58L400.47 980.98L400.67 980.41L400.84 979.83L400.99 979.18L401.06 978.50L401.09 977.86L401.10 977.30L401.09 976.85L401.10 976.55L398.50 976.41L398.47 976.75L398.45 977.21L398.41 977.72L398.35 978.22L398.27 978.68L398.16 979.06L398.00 979.46L397.82 979.88L397.63 980.26L397.43 980.59L397.20 980.85L396.93 981.09L396.58 981.32L396.18 981.53L395.72 981.72L395.19 981.90L394.55 982.05L393.79 982.20L392.93 982.31L391.98 982.39L390.91 982.45L389.71 982.49L388.35 982.52L386.84 982.57L385.08 982.61L383.04 982.65L380.86 982.68L378.68 982.71L376.63 982.73L374.87 982.76L373.45 982.79L372.30 982.82L371.28 982.84L370.28 982.87L369.20 982.91L367.93 982.96L366.39 983.03L364.66 983.10L362.84 983.18L361.02 983.27L359.32 983.38L357.85 983.51L356.60 983.66L355.52 983.82L354.54 984.00L353.65 984.21L352.81 984.45L351.99 984.73L351.21 985.06L350.49 985.43L349.85 985.84L349.28 986.27L348.77 986.71L348.28 987.18L347.82 987.69L347.40 988.23L347.05 988.78L346.74 989.33L346.47 989.88L346.21 990.46L345.98 991.16L345.83 991.93L345.72 992.65L345.63 993.25L345.57 993.56L346.00 993.40L346.43 993.56L346.37 993.25L346.28 992.65L346.17 991.93L346.02 991.16L345.79 990.46L345.53 989.88L345.26 989.33L344.95 988.78L344.60 988.23L344.18 987.69L343.72 987.18L343.23 986.71L342.72 986.27L342.15 985.84L341.51 985.43L340.79 985.06L340.01 984.73L339.19 984.45L338.35 984.21L337.46 984.00L336.48 983.82L335.40 983.66L334.15 983.51L332.66 983.38L330.93 983.27L329.09 983.18L327.25 983.10L325.54 983.03L324.07 982.96L322.95 982.91L322.09 982.87L321.34 982.84L320.56 982.82L319.61 982.79L318.34 982.76L316.64 982.73L314.61 982.71L312.42 982.68L310.21 982.65L308.14 982.61L306.35 982.57L304.85 982.52L303.49 982.49L302.29 982.45L301.22 982.39L300.27 982.31L299.41 982.20L298.65 982.05L298.01 981.90L297.48 981.72L297.02 981.53L296.62 981.32L296.27 981.09L296.00 980.85L295.77 980.59L295.57 980.26L295.38 979.88L295.20 979.46L295.04 979.06L294.93 978.68L294.85 978.22L294.79 977.72L294.75 977.21L294.73 976.75L294.70 976.41Z" fill="#000"/>
<path d="M430.60 976.55L430.61 976.85L430.60 977.30L430.61 977.86L430.64 978.50L430.71 979.18L430.86 979.83L431.03 980.41L431.23 980.98L431.50 981.58L431.84 982.19L432.28 982.80L432.83 983.35L433.41 983.81L434.03 984.22L434.72 984.58L435.49 984.90L436.34 985.18L437.29 985.41L438.33 985.59L439.42 985.73L440.59 985.83L441.85 985.90L443.22 985.97L444.74 986.03L446.55 986.09L448.63 986.13L450.83 986.15L453.02 986.18L455.05 986.20L456.77 986.23L458.10 986.26L459.14 986.28L460.02 986.31L460.87 986.34L461.83 986.38L463.03 986.42L464.54 986.48L466.26 986.54L468.07 986.61L469.87 986.68L471.53 986.77L472.95 986.86L474.11 986.97L475.11 987.07L475.98 987.18L476.74 987.31L477.43 987.45L478.09 987.63L478.69 987.82L479.22 988.04L479.69 988.28L480.14 988.54L480.57 988.83L480.98 989.14L481.35 989.45L481.69 989.79L482.01 990.16L482.32 990.57L482.63 991.00L482.91 991.40L483.17 991.85L483.45 992.45L483.72 993.11L483.99 993.74L484.29 994.30L485.10 994.79L485.91 994.30L486.21 993.74L486.48 993.11L486.75 992.45L487.03 991.85L487.29 991.40L487.57 991.00L487.88 990.57L488.19 990.16L488.51 989.79L488.85 989.45L489.22 989.14L489.63 988.83L490.06 988.54L490.51 988.28L490.98 988.04L491.51 987.82L492.11 987.63L492.77 987.45L493.46 987.31L494.22 987.18L495.09 987.07L496.09 986.97L497.25 986.86L498.67 986.77L500.33 986.68L502.14 986.61L503.96 986.54L505.68 986.48L507.17 986.42L508.35 986.38L509.27 986.34L510.08 986.31L510.92 986.28L511.93 986.26L513.23 986.23L514.94 986.20L516.96 986.18L519.15 986.15L521.36 986.13L523.45 986.09L525.25 986.03L526.78 985.97L528.15 985.90L529.41 985.83L530.58 985.73L531.67 985.59L532.71 985.41L533.66 985.18L534.51 984.90L535.28 984.58L535.97 984.22L536.59 983.81L537.17 983.35L537.72 982.80L538.16 982.19L538.50 981.58L538.77 980.98L538.97 980.41L539.14 979.83L539.29 979.18L539.36 978.50L539.39 977.86L539.40 977.30L539.39 976.85L539.40 976.55L536.80 976.41L536.77 976.75L536.75 977.21L536.71 977.72L536.65 978.22L536.57 978.68L536.46 979.06L536.30 979.46L536.12 979.88L535.93 980.26L535.73 980.59L535.50 980.85L535.23 981.09L534.88 981.32L534.48 981.53L534.02 981.72L533.49 981.90L532.85 982.05L532.09 982.20L531.23 982.31L530.28 982.39L529.21 982.45L528.01 982.49L526.65 982.52L525.15 982.57L523.37 982.61L521.31 982.65L519.11 982.68L516.92 982.71L514.89 982.73L513.17 982.76L511.85 982.79L510.83 982.82L509.97 982.84L509.14 982.87L508.20 982.91L507.03 982.96L505.54 983.03L503.82 983.10L501.99 983.18L500.15 983.27L498.43 983.38L496.95 983.51L495.70 983.66L494.62 983.82L493.64 984.00L492.75 984.21L491.91 984.45L491.09 984.73L490.31 985.06L489.59 985.43L488.95 985.84L488.38 986.27L487.87 986.71L487.38 987.18L486.92 987.69L486.50 988.23L486.15 988.78L485.84 989.33L485.57 989.88L485.31 990.46L485.08 991.16L484.93 991.93L484.82 992.65L484.73 993.25L484.67 993.56L485.10 993.40L485.53 993.56L485.47 993.25L485.38 992.65L485.27 991.93L485.12 991.16L484.89 990.46L484.63 989.88L484.36 989.33L484.05 988.78L483.70 988.23L483.28 987.69L482.82 987.18L482.33 986.71L481.82 986.27L481.25 985.84L480.61 985.43L479.89 985.06L479.11 984.73L478.29 984.45L477.45 984.21L476.56 984.00L475.58 983.82L474.50 983.66L473.25 983.51L471.77 983.38L470.05 983.27L468.23 983.18L466.39 983.10L464.67 983.03L463.17 982.96L461.97 982.91L461.00 982.87L460.13 982.84L459.23 982.82L458.18 982.79L456.83 982.76L455.10 982.73L453.07 982.71L450.88 982.68L448.68 982.65L446.63 982.61L444.86 982.57L443.35 982.52L441.99 982.49L440.79 982.45L439.72 982.39L438.77 982.31L437.91 982.20L437.15 982.05L436.51 981.90L435.98 981.72L435.52 981.53L435.12 981.32L434.77 981.09L434.50 980.85L434.27 980.59L434.07 980.26L433.88 979.88L433.70 979.46L433.54 979.06L433.43 978.68L433.35 978.22L433.29 977.72L433.25 977.21L433.23 976.75L433.20 976.41Z" fill="#000"/>
<text x="208.1" y="1009.6" font-size="10.7" font-family='"Liberation Sans", sans-serif' fill="#2a2a2a" text-anchor="middle" textLength="80.6" lengthAdjust="spacingAndGlyphs" >strong attraction:</text>
<text x="207.6" y="1020.7" font-size="10.7" font-family='"Liberation Sans", sans-serif' fill="#2a2a2a" text-anchor="middle" textLength="106.2" lengthAdjust="spacingAndGlyphs" >H-bond, halogen bond</text>
<text x="346.6" y="1010.6" font-size="10.7" font-family='"Liberation Sans", sans-serif' fill="#2a2a2a" text-anchor="middle" textLength="74.4" lengthAdjust="spacingAndGlyphs" >Wan der Waals</text>
<text x="346.5" y="1021.8" font-size="10.7" font-family='"Liberation Sans", sans-serif' fill="#2a2a2a" text-anchor="middle" textLength="50.3" lengthAdjust="spacingAndGlyphs" >interaction</text>
<text x="484.8" y="1009.6" font-size="10.7" font-family='"Liberation Sans", sans-serif' fill="#2a2a2a" text-anchor="middle" textLength="80.2" lengthAdjust="spacingAndGlyphs" >strong repulsion:</text>
<text x="484.8" y="1020.7" font-size="10.7" font-family='"Liberation Sans", sans-serif' fill="#2a2a2a" text-anchor="middle" textLength="114.4" lengthAdjust="spacingAndGlyphs" >steric effect in ring/cage</text></g>
<g clip-path="url(#clip_c)">
<path d="M103.6 1200.5L106.6 1200.4L110 1199.6L114.9 1198.5L120.5 1197.1L126.3 1195.7L131.5 1194.3L136.1 1192.9L140.6 1191.6L145.1 1190.1L149.6 1188.5L154.2 1186.7L159.1 1184.6L164.2 1182.3L169.3 1179.8L174.3 1177.5L178.9 1175.3L183.1 1173.4L187 1171.8L190.7 1170.2L194.3 1168.6L197.9 1166.8L201.6 1164.8L205.3 1162.6L208.9 1160.4L212.2 1158.2L215 1156.3L217.1 1154.7L218.6 1153.3L219.9 1151.9L221.2 1150.5L223 1148.7L225.3 1146.5L227.9 1144.1L230.6 1141.5L233.5 1138.9L236.3 1136.4L239.2 1133.9L242.3 1131.5L245.3 1129L248.2 1126.6L250.9 1124.1L253.2 1121.7L255.3 1119.3L257.2 1116.8L259 1114.3L261 1111.7L263.2 1108.6L265.6 1105.2L267.9 1101.8L269.9 1098.9L271.3 1096.8L276 1090L336.1 1090L335.7 1094.7L335.1 1101.3L334.4 1108.9L333.6 1116.8L332.9 1123.9L332.2 1130.4L331.4 1137L330.6 1143.3L329.9 1149.3L329.1 1154.7L328.3 1159.2L327.4 1163.1L326.6 1166.6L325.9 1170.1L325.3 1174.2L325 1178.9L324.8 1184L324.7 1189.2L324.6 1194.2L324.4 1198.9L324.1 1202.8L323.8 1206.2L323.4 1209.5L323 1213.2L322.5 1217.9L322 1224L321.4 1231.3L320.8 1238.9L320.2 1246L319.6 1251.9L319 1256.5L318.5 1260.4L318 1263.6L317.5 1266.1L317.2 1268L300 1272L286.4 1276.6L283.5 1259L268 1246.5L250.4 1246L244.7 1241L220 1243L200 1246.5L103.6 1247Z" fill="url(#cm)"/>
<path d="M382.4 1307L381.9 1305.5L381.3 1303.4L380.5 1301L379.6 1298.3L378.7 1295.6L377.7 1292.8L376.5 1289.7L375.3 1286.5L374.1 1283.4L373 1280.4L372 1277.7L371.1 1275.3L370.1 1272.9L369.2 1270.2L368.2 1267.1L367.1 1263.3L365.8 1258.8L364.6 1254.2L363.5 1249.9L362.5 1246.2L361.8 1243.5L361.2 1241.4L360.7 1239.6L360.2 1237.6L359.7 1235L359.1 1231.9L358.5 1228.5L358 1224.8L357.4 1220.7L356.8 1216L356.2 1210.6L355.7 1204.5L355.1 1198.1L354.6 1191.5L354 1185.2L353.4 1179.1L352.8 1173L352.2 1166.9L351.6 1160.8L351.1 1154.7L350.7 1148.6L350.3 1142.6L349.9 1136.5L349.6 1130.3L349.2 1123.9L348.8 1116.8L348.3 1108.9L347.8 1101.3L347.4 1094.7L347.1 1090L381.2 1090L382.4 1092.8L384.1 1096.7L386.1 1101.2L388.2 1105.7L390 1109.7L391.5 1113L392.9 1115.9L394.2 1118.8L395.7 1121.7L397.6 1124.9L400 1128.6L402.7 1132.6L405.6 1136.6L408.4 1140.4L410.9 1143.8L413 1146.6L414.8 1149L416.5 1151.1L418.3 1153.2L420.4 1155.2L422.8 1157.2L425.4 1159L428.1 1160.9L430.9 1162.7L433.7 1164.7L436.8 1167L440.1 1169.4L443.4 1171.9L446.4 1174.2L448.9 1176.1L450.6 1177.5L451.8 1178.5L452.7 1179.4L453.7 1180.1L455 1181L456.8 1181.9L458.7 1182.9L460.8 1183.8L463 1184.6L465 1185.5L466.8 1186.3L468.4 1187L470.1 1187.7L472.1 1188.5L474.7 1189.5L478 1190.8L481.9 1192.3L486 1194L490.3 1195.7L494.4 1197.3L498.3 1198.9L502.3 1200.5L506.2 1202.2L510.2 1203.7L514.1 1205.2L518 1206.5L522 1207.7L525.9 1208.9L529.9 1210L533.8 1211.1L537.6 1212.1L541.2 1213.1L544.9 1214L548.9 1215L553.5 1216.1L559.3 1217.5L566.2 1219.1L573.2 1220.6L579.3 1222L583.5 1223L583.5 1266L533.8 1264L504.3 1268L474.7 1270L455 1272L441.3 1271L433.7 1273L410.9 1277.8L398 1280L395 1287L393.6 1296L391.5 1301.5L388.5 1307.5L385.3 1314Z" fill="url(#cm)"/>
<path d="M318.4 1221.3h0M315 1260.6h0M308.5 1266.1h0M314.4 1230.3h0M310.9 1215.2h0M303.8 1221.9h0M307.5 1238.4h0M318.6 1217.3h0M316.6 1244.5h0M297.7 1251.8h0M295.2 1253.3h0M318.8 1212.3h0M320.5 1232.2h0M303.3 1225.1h0M301.6 1260.8h0M305.3 1230.8h0M539.9 1263.1h0M533.1 1261h0M548.7 1259.2h0M578.3 1258.3h0M567.1 1260.9h0M545.6 1266.5h0M570.5 1265.4h0" stroke="#fff" stroke-width="2.20" stroke-linecap="round" fill="none"/>
<path d="M324.8 1198.1h0M324.4 1202.1h0M324.6 1204h0M323.9 1206.2h0M323.4 1208.3h0M323.5 1211.8h0M322.4 1213.9h0M323.1 1216.5h0M323.3 1220.1h0M322.8 1220.9h0M321.1 1223.9h0M321.5 1227.2h0M322.2 1229.5h0M321.6 1232h0M320.2 1234.5h0M320.3 1236.8h0M319.7 1239.8h0M321.3 1241.2h0M320.4 1243.6h0M319.7 1246.5h0M320.5 1250.1h0M320.3 1251.7h0M319.6 1255.1h0M318.8 1258.1h0M318.7 1259.4h0M318.5 1262.3h0M317.1 1265.1h0M316.4 1267.3h0M317.1 1268.9h0M316.5 1271.5h0M315.5 1274.3h0M313.3 1278h0M312.3 1278.6h0M312.2 1281.2h0M311.2 1284h0M310 1286.2h0M308 1287.7h0M307.4 1290.2h0M305.6 1293.3h0M303.2 1294.2h0M302.6 1295.7h0M301.2 1298.2h0M298.5 1299.6h0M298 1301.1h0M296 1304.2h0M294.4 1306.1h0M291.7 1307.8h0M291.3 1308.8h0M289.7 1312.1h0M286.8 1314.7h0M286 1313h0M285.5 1311.5h0M284.7 1309.1h0M285.1 1306.1h0M285.4 1304.1h0M285.4 1302.1h0M285.1 1299.7h0M284.9 1296.3h0M283.2 1293.6h0M284.1 1292.1h0M284.1 1288.8h0M282.8 1286.4h0M103 1193.1h0M106 1193.2h0M110.3 1192.2h0M112.2 1191.7h0M115.3 1190.9h0M119.1 1190.5h0M121.4 1188.7h0M124.7 1187.8h0M128.6 1187.8h0M130.4 1186.6h0M133.4 1186.3h0M136.7 1184h0M140.2 1183.4h0M143.1 1183.1h0M145.3 1181.8h0M149.5 1180.3h0M151.4 1179.9h0M154 1178.8h0M157.9 1177.6h0M160.8 1175.8h0M163.1 1174.4h0M166.2 1173.7h0M168.4 1171.7h0M171.7 1170.1h0M174.1 1169.5h0M177.6 1168.1h0M180 1166.5h0M182.7 1164.8h0M185.5 1164.2h0M189.4 1162.8h0M192.2 1160.8h0M194.7 1159.6h0M197.4 1158.2h0M199.7 1157.5h0M202.7 1154.9h0M205.3 1153.3h0M208.4 1151.8h0M211.2 1150.4h0M213.4 1148.5h0M215.6 1145.6h0M218.1 1144.2h0M219.6 1141.9h0M102.7 1198.5h0M101.8 1195.5h0M101.3 1194.6h0M104.9 1200.2h0M103 1199.6h0M106.1 1199.7h0M105.6 1199.1h0M106.7 1199.2h0M105.8 1200.1h0M104.6 1194.6h0M107 1198.7h0M108.2 1198.5h0M106.4 1194.9h0M104.8 1194.2h0M106.5 1196.3h0M105.1 1193.9h0M109.3 1196.6h0M106.5 1193h0M108.1 1194.7h0M109.9 1198.3h0M109.1 1196.7h0M107.7 1195.7h0M108.4 1194.9h0M109.1 1194.3h0M110.8 1197.3h0M110.8 1196.4h0M112.2 1196.7h0M111.4 1195.5h0M111.7 1193.2h0M112.8 1197.8h0M113.5 1195.6h0M113.8 1194.3h0M114.3 1196.4h0M115.1 1194.7h0M117.4 1196.3h0M115.9 1196.1h0M114.3 1192.9h0M115.9 1194h0M117.4 1196.6h0M116.4 1197.8h0M114.9 1192.2h0M116.7 1192.3h0M117.1 1193.7h0M117.9 1196.8h0M117.1 1195h0M116.6 1191.2h0M117 1194.6h0M118.3 1193.2h0M117.5 1191.1h0M118.5 1192h0M119.6 1193.3h0M120.8 1194.9h0M117.4 1190.7h0M121.2 1196.6h0M119.1 1191.3h0M118.9 1192.4h0M120.4 1190.2h0M119.3 1191h0M121.6 1194h0M122.7 1196.5h0M122.5 1196.2h0M121.2 1195.4h0M121.6 1190.3h0M120.9 1190.3h0M125.1 1195.6h0M121.8 1190.1h0M121.6 1191.3h0M124.2 1195.5h0M123.9 1189.2h0M124.6 1192.9h0M126.4 1194.7h0M127.4 1192.2h0M124.5 1189.1h0M128.2 1194.6h0M125.5 1191.4h0M124.9 1189.9h0M126.9 1193.2h0M125.4 1188.8h0M130.3 1194.1h0M129.5 1192.7h0M129.3 1193.3h0M127.2 1190h0M130.5 1194.4h0M129.8 1188.1h0M130.9 1190.4h0M131.3 1193.5h0M128.1 1187.8h0M130 1188.9h0M130.5 1191.9h0M131.1 1188.3h0M132.4 1190.5h0M132.2 1189.3h0M131.7 1189.3h0M133.3 1192.3h0M133.1 1188.9h0M134.5 1193.2h0M133.9 1192h0M134 1188.8h0M134.8 1192.2h0M133.2 1187.3h0M134.2 1187.7h0M135.7 1190h0M136.3 1190.3h0M134.2 1187h0M137.1 1192h0M137 1189.7h0M138.9 1190.3h0M135.9 1185.5h0M135.6 1186.1h0M137.4 1185.9h0M137.3 1185.5h0M138.4 1186.1h0M137.6 1184.9h0M137.6 1186.2h0M142.2 1190.4h0M140.6 1189.1h0M141.4 1188.9h0M140.3 1185.2h0M144 1189.1h0M143.2 1188.1h0M141.4 1183.6h0M142.9 1185.5h0M142 1184.3h0M145.4 1187.7h0M145.3 1189.9h0M145.9 1183.8h0M144.9 1183.1h0M147.7 1187.5h0M147.3 1188.2h0M145.6 1183.4h0M145 1184.2h0M147.4 1181.9h0M148.9 1188.3h0M147.1 1182.5h0M147 1182h0M146.6 1181.8h0M148.9 1181.9h0M151.1 1185.9h0M149.1 1183.3h0M149.9 1183.5h0M150.5 1186.2h0M148.6 1182.7h0M150.7 1181.4h0M150.1 1183.1h0M150.5 1181.1h0M152.1 1186.2h0M150.6 1181.7h0M150.9 1183.5h0M153.2 1181.2h0M153.9 1183.6h0M153.1 1181.7h0M153.2 1185.3h0M152.7 1182.6h0M153.6 1183.2h0M154 1183.9h0M153.9 1184.1h0M153.9 1186h0M152.9 1179.9h0M155.4 1183.2h0M153.8 1181.8h0M154 1182.7h0M155.3 1182.3h0M158.3 1184.9h0M155.3 1178.6h0M158.4 1180.4h0M159.5 1182.5h0M159.2 1183.4h0M158.8 1181.7h0M159.7 1183.5h0M159.4 1179.8h0M158.2 1178.2h0M158.4 1177.3h0M158.7 1179h0M159.3 1177.3h0M158.8 1179h0M160.1 1177.4h0M160.2 1177.9h0M163.3 1182.6h0M161.3 1177.6h0M163.4 1181.8h0M161.2 1179h0M161.5 1181h0M159.9 1177.1h0M162.2 1179.8h0M162.3 1181.7h0M161.2 1179h0M162.5 1183h0M161.8 1178.3h0M163.2 1176.4h0M161.7 1176.3h0M162.3 1178.4h0M161.8 1177.3h0M161.6 1176.7h0M164.8 1181.4h0M164.6 1181.3h0M163.3 1174.8h0M166.7 1179.4h0M164 1175.1h0M163.7 1175.1h0M165.7 1180.5h0M165.6 1173.7h0M167.3 1176.6h0M165.5 1175.4h0M166.9 1176.7h0M167.2 1173.5h0M167.2 1173.4h0M168.8 1177.7h0M167.2 1172.7h0M169.3 1178.9h0M169.3 1173.3h0M171.2 1177.7h0M170.6 1174.9h0M169.6 1174.4h0M168.9 1174.3h0M170.5 1174.2h0M173.5 1177.5h0M171.7 1174.7h0M173.1 1176.1h0M170.8 1171.1h0M173.4 1172.9h0M174.1 1177.3h0M175.8 1175.7h0M173.7 1172h0M176.2 1176.2h0M176.1 1176.1h0M173.1 1169.9h0M174.5 1171.6h0M175.1 1174.5h0M176.3 1173.3h0M176 1170h0M175.8 1169.3h0M178 1175.2h0M175.6 1170h0M176.8 1172.8h0M174.7 1169.1h0M179.4 1174.1h0M179.6 1174h0M177.8 1170.3h0M179.1 1173.5h0M179.8 1174.2h0M179.2 1171.7h0M178.3 1172.9h0M180.5 1174.3h0M179.5 1173.5h0M179.6 1170.8h0M180.8 1172.7h0M181 1171.3h0M179.5 1170.5h0M179.8 1167.5h0M183.1 1172.7h0M180.5 1166.8h0M184 1171.8h0M183.5 1169.4h0M184.5 1172.1h0M185.4 1171.4h0M184.3 1165.5h0M183.7 1165.2h0M186 1167.1h0M188.5 1171.1h0M185.2 1164.9h0M185.8 1164.5h0M186.6 1167h0M187 1167.9h0M186.6 1165.7h0M187 1164.7h0M189.6 1169.7h0M189.4 1169.6h0M188.7 1165.1h0M189.4 1168.9h0M191.7 1169.6h0M190.6 1165.9h0M190.8 1168.6h0M190.9 1169.2h0M189.1 1163.5h0M191.3 1169.4h0M193 1167.4h0M192 1167h0M191.2 1163.6h0M191.7 1162.8h0M190.7 1163.5h0M192.1 1167.6h0M190.9 1163.8h0M194.2 1165.7h0M193.8 1163.2h0M194.2 1167.6h0M193.6 1162h0M192.5 1163.2h0M193.4 1164.9h0M196.3 1165.9h0M195.9 1166.8h0M194.7 1160.6h0M195.8 1165.1h0M194.9 1160.8h0M193.8 1161.1h0M198.7 1166h0M196.3 1162.8h0M196.4 1161.9h0M197.2 1162.4h0M199.7 1161.9h0M198 1159.3h0M198.1 1159.1h0M197.8 1160h0M198.9 1160.7h0M199.3 1164.5h0M201.2 1162.3h0M199.7 1157.6h0M201.2 1164.3h0M200.8 1162.2h0M200.4 1162.7h0M201.2 1162.9h0M201.1 1158.3h0M203.2 1162.4h0M201.6 1160.8h0M200.9 1159.1h0M201.2 1160.4h0M204 1159.7h0M204.6 1160.5h0M203.3 1160.2h0M204.6 1162.3h0M203.7 1158h0M205.4 1161.3h0M203.3 1160h0M206.9 1160.9h0M207.1 1160.9h0M206.9 1160.6h0M206.5 1159.8h0M205.4 1157.2h0M204.7 1157.2h0M205.5 1157.8h0M204.9 1157.9h0M204.4 1154.8h0M208.8 1159.8h0M207.8 1157.6h0M207.7 1157.1h0M206.1 1155.7h0M207 1154.7h0M207.2 1155.6h0M209.2 1156.4h0M208.1 1153.7h0M210.1 1158.4h0M211.8 1158.3h0M210.7 1157.7h0M209.8 1155.3h0M208.2 1153.5h0M209.2 1153.2h0M211.3 1158h0M212 1157.2h0M210.9 1153.4h0M210.9 1152.2h0M211.1 1153.9h0M210.8 1152.2h0M214.3 1156h0M214.6 1155.6h0M211.9 1151.1h0M213.5 1152.3h0M213.4 1153.9h0M214.8 1154.8h0M215 1150.8h0M214.7 1153.1h0M214.9 1154.5h0M214.6 1150.8h0M215 1153h0M214.7 1154h0M216.4 1153.1h0M215 1149.8h0M216.9 1153.5h0M216.8 1150h0M217.5 1150.9h0M216.5 1145.8h0M219.2 1152.1h0M219 1150.3h0M220.1 1151h0M220.2 1150.5h0M217.9 1145h0M220.9 1147.8h0M220.9 1150.4h0M219.7 1145.8h0M218.5 1145.3h0M220 1148.7h0M219.3 1144.8h0M220.7 1149.8h0M220.7 1146.6h0M220.8 1145.5h0M223.8 1147.5h0M222.9 1144.3h0M221.7 1144h0M222.4 1141.8h0M223 1145.5h0M223.2 1144.3h0M223.9 1146.2h0M224.4 1145.4h0M223 1140h0M224.6 1144.5h0M225.9 1145.5h0M224.9 1144.9h0M224.7 1143.3h0M223.9 1144.3h0M226.4 1143.8h0M225.1 1142.6h0M225.2 1140.7h0M226.2 1145.6h0M225.8 1136.8h0M225.2 1137.2h0M225.8 1137.8h0M228.2 1142.2h0M227.9 1140h0M226.3 1137.4h0M228.3 1138.6h0M227.4 1137h0M228 1138.8h0M229.3 1140.3h0M227.9 1137.1h0M229.7 1140h0M231 1140.1h0M230 1137.8h0M230 1139.6h0M228.9 1136h0M232 1137.4h0M229.8 1133.6h0M229.7 1134.6h0M229.9 1135.7h0M232.3 1139.1h0M231.1 1139.2h0M232.1 1133.9h0M233 1139.1h0M232.3 1136.6h0M231.3 1132h0M231.3 1133.1h0M231.1 1132.4h0M234.9 1136.9h0M235.3 1137.2h0M234.3 1134.2h0M232.9 1132.1h0M235 1136h0M236 1136.5h0M234 1129.7h0M235.9 1135.2h0M234.6 1132.4h0M236.6 1135.4h0M236.9 1135.3h0M234.4 1132h0M234.2 1131.3h0M237.3 1134.5h0M235.4 1129.8h0M235.8 1132.2h0M235.6 1131.4h0M236.2 1133.6h0M237.9 1129.1h0M239.4 1132.5h0M238.7 1133.2h0M240.5 1132.2h0M239.9 1131.6h0M241 1130.9h0M241.3 1131.1h0M239.8 1127.8h0M241.5 1128.6h0M241.2 1130.8h0M240.5 1125.9h0M239.9 1126.2h0M241.9 1127.5h0M241.9 1127.2h0M242.2 1125.9h0M243.5 1129.5h0M243 1128.9h0M243 1130.2h0M243.2 1128.4h0M243.7 1124.4h0M243.1 1124.2h0M244.4 1128h0M246.5 1127.9h0M246.9 1127.3h0M244.6 1123.7h0M246.5 1127.3h0M244.8 1123.5h0M245.9 1127.4h0M245.6 1127.1h0M246.3 1125.3h0M247.3 1126h0M246.5 1120.6h0M247.6 1121.7h0M247.4 1120.4h0M248.3 1124.8h0M249.2 1125.1h0M247.4 1123.6h0M247.9 1124.5h0M247 1119.3h0M249.6 1123.7h0M249 1119.2h0M248.4 1118.4h0M252.3 1122.3h0M251.4 1122.2h0M249.4 1118.5h0M250.1 1120.1h0M250.4 1117.9h0M252.7 1118.7h0M250.2 1115.1h0M252.5 1120.9h0M254.3 1120.4h0M254.7 1118.9h0M252.1 1115.7h0M251.5 1114.2h0M253.7 1117.8h0M253 1117.5h0M252.3 1116.9h0M253.3 1117h0M252.1 1113.2h0M253.7 1117.4h0M255.1 1117.3h0M254.8 1115.8h0M253.8 1114.4h0M255.4 1118.9h0M252.4 1112.5h0M255.2 1117.5h0M254.4 1115.9h0M253.4 1114.1h0M255.2 1117.7h0M253.5 1115h0M254.2 1116.8h0M253.8 1112.4h0M253.6 1112.1h0M256.5 1116.6h0M253.5 1110.9h0M253.9 1112.3h0M257.9 1115.8h0M256.5 1112.9h0M255.2 1110.2h0M255.8 1111.5h0M256.3 1113h0M256.8 1113.5h0M258 1115.6h0M256.5 1109.8h0M257.6 1111.6h0M258 1110.6h0M258.9 1112.5h0M256.6 1109h0M259.4 1113.6h0M256.1 1108.2h0M256.9 1108h0M257.5 1110.2h0M257.6 1106.5h0M257.4 1105.9h0M257.2 1106.3h0M257.2 1107.5h0M259.5 1109.4h0M257.8 1108.7h0M259.3 1112.8h0M261 1110.7h0M259.6 1107.1h0M260.2 1109.9h0M259.2 1104.9h0M260.7 1109.3h0M260.3 1110.8h0M261.2 1111.2h0M261.3 1109.5h0M261.5 1109.6h0M259.6 1104.7h0M261.9 1109.3h0M260.1 1104.7h0M260.5 1103.6h0M260.7 1103.8h0M261.7 1103.4h0M262.8 1107.9h0M262.2 1106.9h0M261.3 1103.7h0M262 1103.7h0M263.2 1104.2h0M261.7 1101.7h0M262 1102.3h0M264 1104.2h0M262 1101.1h0M263.2 1105.7h0M262.4 1098.8h0M263.8 1103.2h0M263.7 1101.6h0M262.8 1098.6h0M263.6 1097.9h0M264.5 1099.3h0M266.4 1102.2h0M265.2 1099.4h0M266.2 1101h0M264.1 1097.6h0M266.5 1102.9h0M264.1 1096.8h0M265.2 1098.3h0M265.6 1098.9h0M266.7 1098.8h0M266.1 1099.1h0M267.2 1100.3h0M266.5 1097.2h0M266.9 1098h0M268.8 1100h0M265.6 1095h0M268.3 1094h0M269.2 1098h0M267 1094.3h0M269.7 1098.7h0M268.9 1095.9h0M267.3 1092.9h0M269.1 1095.7h0M269.3 1098.5h0M269.9 1095.3h0M269.2 1094.9h0M270.5 1096.8h0M268.8 1092.2h0M269.4 1093.7h0M270.9 1096.3h0M268.9 1092h0M303.8 1281.6h0M312.7 1280.1h0M288.3 1304.9h0M307.6 1279.6h0M292.7 1295.7h0M311.9 1273.9h0M289.7 1276h0M307.9 1269.7h0M309.3 1275.6h0M310.8 1268.9h0M294.8 1284.9h0M299.5 1278.6h0M302.9 1270.9h0M297.7 1277.1h0M309.1 1273.3h0M308.1 1270.2h0M285.5 1306.8h0M293.5 1299.3h0M288.6 1288.2h0M304.5 1281.1h0M300.5 1288.9h0M295.8 1295.1h0M306.9 1287.1h0M293.4 1296.5h0M288.1 1276.8h0M313.6 1268h0M311 1274.2h0M287.2 1276h0M285.4 1280h0M290.2 1276h0M295 1291.2h0M303.1 1271.7h0M307.5 1284.7h0M290.3 1303.9h0M309.7 1271.7h0M304.4 1276.9h0M284.8 1285.7h0M304.6 1290.8h0M291.1 1299.1h0M290.6 1281.1h0M301.8 1289.1h0M287.4 1312.4h0M308.8 1272.4h0M284.3 1284.7h0M300.6 1285.7h0M310.9 1267.6h0M296.8 1278.2h0M298.7 1291.2h0M293 1306h0M295.3 1299.3h0M300.5 1273.7h0M298.7 1276.9h0M288.2 1293.2h0M297.9 1300.3h0M304.3 1293h0M312.4 1276.6h0M306.1 1279.8h0M286.6 1293.8h0M299.4 1275.6h0M305.4 1269h0M291.4 1281.1h0M287 1281.8h0M304 1271.6h0M302.3 1272.8h0M298.9 1291.6h0M303.7 1294.6h0M308.8 1281.8h0M295.6 1278.4h0M283.9 1289h0M307.7 1273h0M307.6 1278.9h0M302.1 1285.7h0M309.6 1274.2h0M292.3 1287.5h0M300.3 1274.2h0M311.7 1267.9h0M294.4 1279.8h0M302 1280h0M291.5 1282.5h0M298 1296.6h0M304.6 1272.6h0M300.4 1294.1h0M296 1278.9h0M302.3 1285h0M285.1 1296.7h0M299.1 1295.7h0M314.6 1269.4h0M290 1306.3h0M302 1286.3h0M286.8 1306.2h0M285 1292.5h0M291.6 1286h0M313.2 1272.4h0M299.2 1289h0M309.5 1276.1h0M286.1 1279.2h0M303.2 1274.3h0M299.5 1277.6h0M287 1278.1h0M297.6 1296h0M304.2 1269.3h0M286.3 1293.7h0M289.8 1282.7h0M286.7 1289.9h0M290.7 1292.9h0M287.7 1301.1h0M295.6 1287.9h0M291.1 1275.9h0M304.1 1293.1h0M290.3 1285.6h0M289.5 1294.9h0M297.9 1275.6h0M306.1 1274.5h0M298.3 1275.5h0M311.6 1274.4h0M310 1280.6h0M302.4 1292.3h0M286.3 1278.9h0M287.6 1302.6h0M294.3 1276h0M287.9 1305.7h0M298.5 1294.2h0M291.2 1292.4h0M305.9 1280.7h0M306.4 1288.1h0M299.3 1284.1h0M298.6 1299.6h0M290.4 1276h0M298 1271.3h0M286.3 1305.3h0M291.4 1287.7h0M287.8 1305.7h0M292.5 1284.4h0M299 1273.6h0M314 1268.4h0M305 1271.4h0M308.7 1271.6h0M296.6 1298.1h0M291.7 1288.4h0M300.3 1275.3h0M306.3 1280.2h0M306.2 1282.1h0M285.2 1289.8h0M304.4 1285.8h0M299.9 1273.6h0M309.2 1286.8h0M297.9 1274.1h0M289.1 1276h0M289 1289.2h0M295.2 1297.6h0M293.7 1277.5h0M298.1 1285.1h0M304.9 1288.1h0M284.9 1283.4h0M297.2 1276.1h0M287.1 1298.7h0M302.1 1289.2h0M293.8 1281.9h0M305.9 1271.1h0M304.5 1270.1h0M297.4 1284h0M308.4 1279.7h0M308.5 1284.1h0M286 1291.5h0M316.7 1268.1h0M298.9 1271.7h0M288.2 1298.3h0M289.9 1298.2h0M314.6 1272h0M296.6 1292.5h0M297.5 1283.9h0M300.3 1277h0M297.2 1293.4h0M289.1 1278.9h0M290.4 1281.4h0M286.4 1279.4h0M296.4 1282.9h0M304.1 1277.8h0M311.4 1270.7h0M314.5 1274.9h0M290.1 1291.9h0M304.9 1276.4h0M298.3 1271.3h0M309.2 1279.4h0M302.3 1289.2h0M310.7 1276.8h0M302.4 1283.2h0M295.5 1297.6h0M309.4 1271.8h0M299.1 1291.7h0M293.8 1274.2h0M291 1279.7h0M285.8 1289h0M290.4 1296.1h0M295.1 1293.9h0M291.3 1292.7h0M299.1 1281h0M304.9 1275.7h0M293.3 1287.6h0M313.4 1270.7h0M288 1292.7h0M304.3 1281.2h0M304 1282.1h0M289.8 1292h0M306.2 1287.1h0M298.7 1299h0M286.2 1307.4h0M291.8 1306.1h0M314.8 1268.8h0M301.8 1271.8h0M290.3 1299.4h0M298.3 1280.6h0M293.4 1279.6h0M289.1 1299.6h0M289.8 1291.1h0M299.3 1297.5h0M295.4 1275.3h0M312.6 1273.9h0M288.9 1279.6h0M291.3 1278.3h0M303 1276.3h0M302.4 1290.2h0M289.7 1278.4h0M312.6 1271.6h0M307.3 1287.1h0M286.5 1310.4h0M308.5 1274.3h0M302.3 1272.4h0M299.9 1282h0M135.5 1248.5h0M195.4 1274.6h0M163.4 1253.8h0M134.2 1247.4h0M184.1 1253.8h0M217.6 1258.1h0M214.7 1255.7h0M244.4 1241.8h0M208.9 1245.7h0M141.4 1259.8h0M154.1 1254.8h0M112.2 1298.6h0M177 1257.8h0M126.6 1273.1h0M212.1 1248h0M226.3 1246.1h0M143.1 1253.8h0M119.6 1278.2h0M190.9 1246.6h0M138.3 1293.8h0M110.3 1247.2h0M195.5 1247.2h0M109.8 1246.6h0M216.1 1256.6h0M107.4 1246.3h0M166.2 1246.7h0M207.5 1257.4h0M135.9 1270.4h0M185.5 1266.9h0M165.1 1266h0M191.8 1260.6h0M120 1254.9h0M153.7 1252.8h0M143.6 1257.8h0M158.6 1255.8h0M220.5 1248.3h0M236.9 1244.3h0M241.4 1243.4h0M211 1253.7h0M112.3 1264.8h0M214.8 1243.7h0M160.7 1248.9h0M156.1 1255.7h0M209.1 1244.8h0M155.7 1256h0M170.7 1256.5h0M140.8 1250.6h0M193.3 1251.1h0M218.8 1249.3h0M213.1 1247.4h0M147.1 1266.1h0M123.4 1301h0M157.9 1253.1h0M125.3 1259.7h0M126.9 1263.1h0M111.3 1250.1h0M135.8 1250.5h0M121.1 1260.8h0M143.6 1246.8h0M147.6 1251h0M213 1260.4h0M191.5 1275.7h0M203.9 1265.8h0M122 1303h0M141.7 1253.9h0M190.1 1252.2h0M105 1299.6h0M194.6 1266.2h0M130.5 1293.3h0M152.1 1254.5h0M179.1 1252.8h0M152.9 1264.9h0M136.6 1265.5h0M179.4 1274.8h0M208.5 1245.6h0M222.5 1248.3h0M172.5 1252.1h0M144.2 1264h0M223.1 1243.5h0M146.9 1278.4h0M201.3 1251.6h0M166.8 1262.8h0M175.8 1261h0M212.2 1247h0M153.5 1257.6h0M138.4 1265.6h0M153 1246.6h0M194.6 1246.8h0M147.1 1252.1h0M151.3 1250h0M159.4 1262.3h0M125.2 1271h0M122.9 1295.8h0M130.4 1266h0M151 1259.8h0M203.6 1246.2h0M181.7 1259.5h0M125.6 1246.2h0M188.3 1247.5h0M161.3 1248h0M135.9 1264.6h0M207 1248.4h0M172.8 1261.3h0M219.4 1253.4h0M106.6 1276.8h0M149.4 1254.2h0M230.8 1249.9h0M134.3 1247.4h0M115.7 1257.4h0M238.6 1246.5h0M206.7 1256.5h0M158.4 1268.3h0M234 1244.4h0M124.4 1298.5h0M184.2 1249.3h0M207.9 1255.3h0M105.6 1253.4h0M216.2 1258.2h0M219.1 1247.4h0M145.5 1258.2h0M202.7 1262.9h0M191.7 1254.5h0M153.3 1246.6h0M166.2 1249.1h0M160.8 1247.4h0M217.8 1247.6h0M117.2 1246.8h0M155.8 1246.7h0M151.7 1251.2h0M118.8 1254.3h0M231.7 1241.9h0M206.2 1266.3h0M202.3 1250.5h0M112.5 1260.9h0M125.2 1254h0M172.9 1253.4h0M208.5 1252.3h0M222.8 1252.3h0M145.1 1252.3h0M114.7 1268.6h0M199.4 1254h0M142.5 1247.1h0M131.6 1263.7h0M113.3 1254.9h0M124.2 1261.7h0M129.2 1252.5h0M159 1258.2h0M194.7 1253.9h0M165 1289.1h0M140.1 1251.7h0M113.6 1274h0M190.6 1257.5h0M198.8 1261.9h0M191.3 1266.5h0M166.6 1257.2h0M126 1250.9h0M113.2 1271.5h0M222 1242.8h0M159.3 1257.8h0M111.7 1255.3h0M104 1246.8h0M214.4 1248.8h0M128.7 1265.2h0M150 1253h0M130.3 1246.1h0M143.1 1249.3h0M120.5 1271.3h0M237.7 1244.7h0M140.2 1275h0M161.4 1248.8h0M135.1 1261h0M163 1274.2h0M191.1 1271.6h0M221 1247.3h0M222.4 1253.4h0M156.9 1273.3h0M186.3 1278.7h0M158.1 1247.6h0M119.1 1261.2h0M163.6 1249.4h0M130.5 1246.1h0M166.2 1282.8h0M240.2 1240.9h0M108.1 1254.5h0M169.5 1274.8h0M123.9 1263.3h0M185.7 1280h0M130.2 1255h0M176.8 1247.7h0M138.6 1273.1h0M120.1 1247.6h0M233.1 1242.4h0M165.1 1248.1h0M155.7 1250.7h0M151.3 1249.2h0M206.5 1250.9h0M150.8 1254.2h0M163.5 1259.9h0M186 1247.3h0M176.7 1262.5h0M161.7 1267.4h0M144.7 1265.8h0M150.7 1247.4h0M126.6 1258.4h0M208.7 1248.3h0M123.5 1249.8h0M142.1 1250.8h0M122.2 1280.6h0M168.5 1255.5h0M122 1247.8h0M197.7 1248.9h0M108.1 1280.4h0M145.2 1251.9h0M111 1247.2h0M139.8 1247.3h0M195 1267.3h0M176.5 1257.3h0M183.2 1260.6h0M130.1 1248.3h0M200.9 1246h0M156 1277h0M113.4 1246.2h0M103.6 1265.2h0M155.1 1255.4h0M200.2 1251.6h0M114.4 1257.6h0M214.7 1257.9h0M107.1 1283.7h0M188 1265h0M174.5 1254.5h0M179.4 1250.8h0M118.1 1269.6h0M105.8 1247.3h0M207.1 1257.3h0M138.6 1264.9h0M145.6 1251.9h0M196 1263h0M208.9 1258.4h0M122.3 1258.4h0M225.9 1252.5h0M148.9 1249.6h0M169.2 1262.3h0M168.8 1282.5h0M168.1 1266.3h0M125.6 1266.5h0M207.4 1258.1h0M171.8 1260.9h0M107.3 1251.3h0M124.9 1259.7h0M159.1 1284.2h0M148.8 1260h0M209 1261.2h0M172.7 1248.6h0M187.7 1265.4h0M225.4 1244.7h0M190.3 1258.1h0M166.2 1247.7h0M137.6 1247h0M183.8 1257.1h0M151.1 1254.2h0M197.7 1249.4h0M185.4 1256.2h0M173.2 1269.2h0M129.7 1247.1h0M219.7 1250.5h0M124.5 1292.9h0M147.4 1287.8h0M202.1 1253.4h0M186 1264.5h0M134.3 1265.4h0M137.8 1275.9h0M186 1249.9h0M177.5 1257.3h0M226.3 1249.3h0M156.7 1246.7h0M112.7 1257h0M172.8 1269.7h0M166.4 1249.9h0M222.7 1249.9h0M228.2 1245h0M206.5 1246.2h0M163.2 1270.9h0M142.8 1260.1h0M108.9 1291.8h0M119.3 1303.2h0M131.3 1264.6h0M206.1 1249.7h0M119.5 1266.6h0M148.1 1250.3h0M119.8 1253.3h0M159.5 1262.2h0M133.3 1258.1h0M212 1253.1h0M218.8 1252.9h0M110.6 1246.2h0M146 1250.6h0M220 1244.3h0M231.2 1248.3h0M183.3 1257.6h0M190.9 1259.7h0M192.3 1262.4h0M137.4 1281.9h0M200.1 1249.3h0M155.5 1261.2h0M107.7 1251.2h0M244.3 1242.8h0M189.7 1266.8h0M208.2 1248.8h0M192.2 1254.8h0M228.4 1249.7h0M120.2 1258.1h0M136.2 1272.2h0M112.9 1271h0M204.3 1250.6h0M191.6 1248.5h0M116.7 1246.7h0M204.1 1265.5h0M157 1252.5h0M240.4 1245.7h0M115.1 1270h0M185.2 1248.9h0M192.7 1247h0M194.4 1259.3h0M162 1256.2h0M153.1 1249.8h0M240.4 1243.4h0M178.5 1262.7h0M142.9 1246.9h0M161.4 1255.9h0M110.6 1266.2h0M116.3 1246.3h0M193 1248.3h0M115.3 1249.3h0M136.2 1247.1h0M240 1242.8h0M205 1251.5h0M146.2 1257.6h0M182.9 1247.1h0M127.4 1250.7h0M159.8 1255.9h0M207.5 1266.8h0M210 1246.3h0M164.3 1246h0M222.3 1245.7h0M227.7 1243.3h0M208.9 1245h0M242 1242.3h0M181.3 1246.2h0M195.3 1254.4h0M159.6 1254.5h0M186.3 1260h0M110.9 1285.8h0M229.9 1246.3h0M152.2 1249.6h0M206.5 1255.7h0M115.1 1254.3h0M118.2 1300.4h0M206.4 1259.7h0M157.7 1258.2h0M224.3 1246.1h0M127.3 1247.7h0M135 1259.3h0M222.3 1247.3h0M122.2 1258.5h0M122.1 1279.3h0M163.6 1248.4h0M132.1 1269.8h0M156.4 1266.2h0M205.9 1252h0M142.7 1257.8h0M192.4 1254.9h0M142.3 1254.9h0M124.7 1263.8h0M105.2 1254.2h0M193.3 1271h0M150.2 1263.4h0M158.9 1247.4h0M116.1 1251.9h0M240.9 1240.8h0M178.7 1257.1h0M181.3 1249.9h0M157.8 1268.3h0M144.3 1269.7h0M159.2 1248.9h0M147.2 1252.7h0M153.2 1252.1h0M174.2 1247.4h0M222.3 1255h0M115.9 1255.6h0M113.1 1256h0M224.5 1253.7h0M173 1252.7h0M215.5 1246.3h0M222.5 1248.7h0M141.6 1257.7h0M229.5 1245.4h0M135.4 1292.9h0M222 1244.6h0M234 1246.1h0M118.5 1267.4h0M200.9 1261.7h0M104.9 1259.8h0M127.3 1257.3h0M133.9 1265.9h0M112.3 1255.1h0M163.5 1253.6h0M156.3 1257.8h0M213.2 1254h0M133.2 1253.4h0M195 1259h0M106.4 1261.5h0M204.5 1254h0M106 1261.1h0M165.1 1289.8h0M137.9 1260.8h0M110.3 1258.1h0M122.4 1278.6h0M108 1253h0M177.2 1273.1h0M133.9 1300.2h0M185.6 1257.1h0M237.5 1247h0M209.1 1260.1h0M161.7 1256.6h0M156.3 1258.4h0M236.2 1241.9h0M153.1 1249.2h0M217.3 1259.2h0M129.3 1248.3h0M197.3 1257.3h0M107.4 1261.4h0M136 1249.7h0M149.6 1247.6h0M195 1252.9h0M140.4 1275.1h0M112 1256.6h0M107 1255.6h0M107.8 1254.1h0M158.5 1254.7h0M196.4 1253.6h0M153 1253.3h0M148.2 1253.3h0M142.1 1250.3h0M157.7 1248.3h0M168.8 1256.3h0M216 1256.7h0M180.7 1256.9h0M151.3 1284.9h0M220.9 1246.3h0M179.1 1251.1h0M212.7 1254.4h0M176 1267.4h0M191.4 1254.3h0M211.9 1247.1h0M123.8 1259.5h0M219.7 1244.8h0M131.7 1255.9h0M226.3 1248.2h0M224.4 1251.9h0M216.5 1246.3h0M210.3 1246.8h0M162.2 1246.7h0M162.6 1248.6h0M157.4 1246.4h0M183.2 1251.2h0M107.1 1254.3h0M179 1272.7h0M173.4 1251.5h0M177.4 1253.2h0M195.3 1275.3h0M205.5 1247h0M189.2 1246.2h0M128.9 1250.9h0M143.6 1258.1h0M129.3 1253.3h0M155.3 1252.1h0M178.9 1248.3h0M161.1 1246.8h0M188.5 1265.2h0M110.7 1249.1h0M218.6 1253.5h0M153.9 1262.2h0M145 1253.2h0M167.9 1246.5h0M224.7 1243.4h0M130.4 1250.9h0M109.2 1274.9h0M119.5 1253.6h0M197.5 1270.3h0M132.4 1248.7h0M112.6 1279.3h0M131.2 1252.4h0M126.7 1289.2h0M152.9 1251h0M162.5 1270.5h0M130.9 1252.6h0M153.7 1256.5h0M167.2 1279.5h0M198.8 1269.8h0M175.1 1257.8h0M107.7 1253.6h0M179.8 1281.8h0M127 1281.6h0M143.7 1250.7h0M200.1 1273.2h0M184.7 1265.1h0M203.5 1252.1h0M195.6 1269.8h0M227.3 1252.1h0M198.3 1270.1h0M202.1 1245.7h0M231 1244.3h0M239.8 1242.5h0M153 1249h0M125.1 1251.4h0M176.8 1246.5h0M171.8 1250.1h0M114.3 1265.1h0M146.3 1258.3h0M182.9 1262.2h0M153.4 1287.9h0M155.4 1246.3h0M172.9 1250.1h0M191.7 1250.4h0M138.1 1295.4h0M185.5 1247.2h0M237.1 1244.9h0M121.8 1253.2h0M172.3 1249.1h0M125.5 1262.1h0M105.3 1261.5h0M118.8 1249.8h0M185.8 1257h0M220.5 1253.3h0M137.4 1256h0M217.3 1252h0M181.2 1251.5h0M115.8 1269.1h0M218.3 1252.2h0M148.1 1261.1h0M237.4 1243.2h0M145.3 1258h0M137.2 1250.4h0M203.1 1254.1h0M158.8 1252.4h0M160.5 1254.6h0M190.6 1264.5h0M155.2 1250.5h0M168.7 1250.5h0M216.6 1257.1h0M126.7 1268.1h0M118.2 1257.1h0M119.9 1256.4h0M112.9 1259.1h0M179.5 1256.3h0M111.2 1248.2h0M200.4 1251.6h0M129.1 1247.9h0M182.4 1254.1h0M140.9 1246h0M170.4 1255h0M119.6 1277.6h0M204.5 1246h0M181.4 1275h0M143.6 1274.2h0M226.8 1248.1h0M167.3 1275h0M202.1 1260.1h0M126.4 1260.7h0M206 1258.6h0M145.3 1246.4h0M150.6 1246.6h0M219.2 1251.7h0M138.8 1278.5h0M105.7 1247.8h0M127.2 1260h0M229.8 1247.7h0M170 1250.8h0M181.6 1253.8h0M138.9 1252.5h0M125.4 1252.5h0M207.3 1261.4h0M172.2 1254.1h0M175.8 1257.8h0M225.6 1249.4h0M123.9 1289.4h0M189 1249.5h0M156.3 1253h0M186.6 1253.9h0M141.2 1246.8h0M124.3 1299.8h0M111.8 1280h0M178.8 1251h0M125.4 1248.6h0M199.3 1258.9h0M193.7 1263.3h0M109.5 1265.1h0M142.9 1247.6h0M169.5 1256.5h0M104.2 1274.8h0M170.7 1269.1h0M133.4 1295.6h0M133.5 1250.3h0M205.8 1248.8h0M218.5 1254h0M179.8 1256.8h0M150.3 1248.9h0M154.4 1253.8h0M219.7 1254.6h0M143.3 1249.2h0M202.5 1263.6h0M129.3 1247.9h0M243.8 1243.4h0M235.1 1245.9h0M129 1254.5h0M128.5 1247.2h0M178.4 1249.2h0M147.7 1260.5h0M119 1250.2h0M139.4 1248.4h0M108.3 1257.6h0M169 1274.1h0M164.8 1250.3h0M130.3 1300.1h0M116.8 1260.3h0M153.4 1263h0M163.3 1252.9h0M152.7 1255.7h0M166.1 1266.2h0M221.5 1254.8h0M184.2 1249.7h0M148.6 1251.1h0M199.6 1247.4h0M210.5 1248.2h0M141.2 1267.2h0M222.6 1246.9h0M199.3 1259.6h0M134.1 1275.1h0M157.5 1260.6h0M192 1266.2h0M173.4 1257.3h0M186.6 1252.1h0M155.8 1267.8h0M165.6 1248.1h0M184.7 1257h0M113.1 1258.3h0M179.2 1274.7h0M220.8 1251.4h0M136.9 1254.3h0M107.9 1246.4h0M233.3 1246.2h0M119.3 1290.8h0M105 1250h0M110.9 1259.4h0M212.6 1247.4h0M152.5 1254.8h0M119.9 1251.8h0M173 1261.5h0M130.6 1256.1h0M139.5 1253.7h0M130.2 1261.8h0M230.1 1244.2h0M185.2 1268.5h0M192.6 1250.4h0M136.6 1253.8h0M135.7 1250.8h0M160.6 1250.2h0M157.6 1273.2h0M186 1260.9h0M135.2 1246.9h0M182 1262.6h0M145.2 1298h0M181.6 1272.1h0M206.2 1256.4h0M203.9 1250.6h0M229.8 1246.7h0M187.9 1247.7h0M187.6 1260.8h0M106.3 1255.8h0M223.6 1250h0M149.5 1262.6h0M210.6 1253.6h0M149.2 1261.8h0M215.6 1247.6h0M115.8 1269.7h0M155.8 1268.2h0M134.3 1260.9h0M108.1 1246.1h0M141.8 1258.7h0M186.6 1248.7h0M147.3 1251.7h0M122.9 1254.3h0M219.5 1244.2h0M121.8 1258.9h0M187.6 1249.2h0M199.2 1248.6h0M106 1255.5h0M113.3 1258h0M231.3 1241.7h0M147.3 1249.6h0M175.3 1253.9h0M118.2 1261h0M119.8 1250.1h0M156.6 1256.5h0M219 1244.9h0M166.4 1246.4h0M155.8 1258.6h0M191.6 1248.7h0M139.4 1251h0M125.5 1268.2h0M129.3 1261.9h0M144.3 1258h0M192.2 1269.9h0M128.1 1264.3h0M140.1 1286.5h0M166.8 1287.7h0M161.2 1247.2h0M132 1250.7h0M139.8 1258.9h0M154.5 1246.4h0M213.1 1250h0M231.8 1249.1h0M158.3 1263.7h0M137.3 1270.4h0M230.6 1241.7h0M190.7 1259.8h0M182.4 1247.7h0M133.5 1275.8h0M153.5 1254.3h0M139.2 1284.4h0M134 1254.1h0M188.4 1246.2h0M203 1246.9h0M143.8 1263.8h0M109.5 1253.2h0M136.1 1248.5h0M167 1254.9h0M107.8 1249.2h0M129.5 1273.5h0M131.3 1269.8h0M119.2 1247.6h0M190.8 1248.1h0M141.7 1257.9h0M204.4 1254h0M193 1272.2h0M195.5 1263h0M179.9 1250.7h0M198.4 1247.5h0M176.3 1279.3h0M175.7 1264.7h0M183.1 1250.1h0M180 1247.9h0M209.2 1244.9h0M173.3 1248.5h0M113 1256.8h0M188.2 1271.6h0M186.3 1248.4h0M128.3 1262.3h0M127.6 1250.8h0M188 1264.4h0M186.3 1272.9h0M179.7 1253.1h0M182.7 1255h0M114.6 1258.2h0M229.5 1249.1h0M209.9 1246.6h0M167.2 1288.9h0M181.1 1261.9h0M148.2 1260.7h0M116.6 1249h0M158.1 1279.3h0M106.2 1258.7h0M109.4 1251.6h0M229.7 1250.5h0M162.2 1253.6h0M134.1 1257.8h0M136.5 1251.5h0M147.8 1297.1h0M188.3 1246.4h0M115 1250h0M230.6 1249.1h0M228.9 1246h0M120 1259.4h0M199.7 1258.5h0M200.4 1252h0M221.8 1244.1h0M180 1258.7h0M133.7 1260h0M187.6 1251h0M172.7 1246.6h0M191.5 1256.8h0M189.8 1251.1h0M169.3 1264.7h0M115.1 1287.8h0M208.8 1247.7h0M121.1 1249h0M212.9 1262.3h0M110.4 1262.4h0M146.7 1249.4h0M125.4 1290h0M229 1251.1h0M224.7 1246.1h0M196.8 1261.3h0M218 1247.4h0M174.7 1248.9h0M136.7 1251h0M111.5 1260.1h0M115.7 1252.5h0M151.7 1288.7h0M169.7 1283.1h0M205.2 1260.4h0M149.1 1250.2h0M112.4 1263.4h0M133.6 1247.4h0M176.2 1248.7h0M211.6 1250h0M203.4 1249.8h0M165.4 1268h0M112.1 1248.8h0M230 1246h0M182.5 1246.8h0M171.8 1248.5h0M144.1 1267.3h0M192.7 1253.6h0M188.6 1273.7h0M201.5 1250h0M104.2 1259.9h0M160 1255.9h0M186.6 1259.4h0M107.9 1247.4h0M137.7 1262.4h0M138.8 1250.7h0M169.2 1272.4h0M159.3 1265.5h0M178.5 1249.5h0M177.2 1264.7h0M186.5 1265.2h0M194.7 1275.3h0M106.5 1252.4h0M141.1 1269.5h0M112.8 1253.9h0M169.6 1263.4h0M156.4 1267.9h0M244.2 1241.4h0M209.8 1251.6h0M218.3 1247.2h0M169.3 1253.6h0M186.1 1249.7h0M191.6 1262.8h0M120.3 1246.8h0M259.5 1280.8h0M262.3 1287.5h0M278.5 1266.6h0M268.9 1257.2h0M263.7 1269.7h0M278.1 1266.9h0M275.5 1275.7h0M279.1 1257.6h0M277.6 1260.1h0M271.8 1275h0M268.5 1250.3h0M254.2 1246.7h0M256.1 1271.3h0M256 1259.6h0M263.3 1252.6h0M266.6 1257.7h0M262.1 1281.9h0M277 1252.5h0M269.5 1268.3h0M278.3 1255.3h0M273.2 1249.7h0M281.1 1270.8h0M282.4 1263.5h0M251.7 1257h0M265 1247h0M268.4 1299.8h0M262.2 1254.1h0M257.9 1262.3h0M269.5 1266.3h0M280.6 1275.5h0M260 1274.7h0M260.9 1307h0M278.6 1261.9h0M265.2 1259.6h0M275.5 1265.5h0M266.8 1252.2h0M269.2 1252.5h0M260 1270.9h0M278.6 1276h0M255.3 1265.2h0M258.5 1279.6h0M265.9 1246.1h0M260.2 1247.5h0M280.6 1273h0M257.9 1265.3h0M269.6 1252.3h0M281.5 1266.1h0M261.3 1259.4h0M271.5 1263.2h0M261.1 1248.5h0M258.8 1268.1h0M268.1 1283.6h0M262.9 1250.6h0M262.7 1265.9h0M260 1272.6h0M257.2 1259.8h0M284.4 1265h0M282.7 1264.7h0M271.7 1260.7h0M255.3 1262.4h0M260.6 1309.7h0M274.2 1265.6h0M268.3 1303.4h0M270.3 1267.5h0M268.3 1290.3h0M265.9 1247.7h0M270.4 1260.5h0M266.1 1283.9h0M266 1254.6h0M254.3 1252.5h0M260 1262.2h0M260.9 1250.1h0M279.7 1270.5h0M278.8 1270.1h0M273 1249.4h0M270.9 1265.4h0M257.8 1251.8h0M269.9 1246.8h0M266.8 1264h0M267.8 1282.4h0M254.6 1249.5h0M251 1250.1h0M270.3 1256.3h0M280.8 1271.2h0M275.6 1262h0M264.3 1294.8h0M260.8 1253.6h0M263.1 1316h0M251.1 1251.8h0M255.1 1262.4h0M254.3 1251.6h0M269 1275.2h0M260.9 1270.4h0M273.9 1249.8h0M268.9 1280.6h0M262.2 1277.6h0M268.9 1277.7h0M284.7 1274.4h0M263.4 1280.6h0M264.5 1250.1h0M255.3 1266.2h0M264.1 1273.5h0M263.5 1254h0M268.6 1282.7h0M270.4 1254.9h0M275 1255.5h0M262.5 1273.1h0M259.6 1296.3h0M264.8 1274.6h0M284.7 1274.1h0M252.8 1246.2h0M272.3 1253h0M268.7 1249.8h0M263 1251.6h0M264.3 1287.3h0M262.2 1255.6h0M262.7 1312.4h0M254.2 1248.2h0M252.5 1248h0M258.6 1249.7h0M259.2 1274.9h0M253.6 1254.8h0M271.1 1278h0M279.1 1275h0M274.9 1264.7h0M278.9 1264.7h0M255 1261.9h0M278.5 1259.1h0M251 1250.5h0M264.5 1269.1h0M282.8 1265h0M260.9 1301.3h0M273 1277.7h0M267.1 1297.7h0M263 1261.1h0M280.6 1275h0M269.4 1298.5h0M254 1254.3h0M260.3 1255.5h0M275.1 1257.6h0M257.4 1279.7h0M263.3 1293.6h0M282.5 1264.3h0M277.2 1255.7h0M257.9 1248.5h0M257.9 1258.6h0M266.4 1302.9h0M250.5 1246.9h0M272.8 1264.5h0M262.2 1252.8h0M253.6 1247.2h0M271.9 1252.7h0M269.3 1250.3h0M260.6 1293.6h0M260.9 1295.8h0M265.6 1313.3h0M262.3 1308.5h0M277.6 1268.9h0M263 1272.6h0M284.6 1269h0M267.8 1304.6h0M269.7 1271.4h0M260.8 1327.3h0M362.7 1246.9h0M363 1248.3h0M364.7 1251.8h0M363.9 1254.1h0M364.8 1256.8h0M366 1259.1h0M366.3 1261.9h0M367.6 1264.6h0M368.9 1266.5h0M368.3 1268.6h0M369.5 1271.7h0M371.2 1273.6h0M372.3 1276.1h0M373.4 1279.9h0M373.8 1281.1h0M374.6 1284.5h0M376 1286.4h0M375.8 1289.6h0M377.8 1291h0M377.4 1293.6h0M378.6 1297.3h0M380.1 1298.6h0M381 1301h0M381 1304.1h0M382.7 1306.1h0M384.2 1309.5h0M385.1 1312.2h0M385.6 1314.4h0M400.6 1094.1h0M389.2 1095.5h0M396.8 1094.9h0M397.3 1095.3h0M399.5 1093.2h0M387.9 1094.2h0M387 1093.4h0M384.8 1095.3h0M394.3 1093.4h0M388 1094.5h0M389.6 1096.1h0M392.4 1097.5h0M401.9 1096.2h0M399.7 1097.4h0M400.2 1095.3h0M397.4 1095.7h0M400.3 1096.6h0M395.8 1096.8h0M403 1099.8h0M385.5 1098.5h0M400.3 1099.4h0M387.1 1100.5h0M401.9 1100.1h0M400.5 1100.4h0M398.8 1102.1h0M393.4 1102.7h0M387.9 1101.7h0M387.3 1101.1h0M391.3 1102.9h0M401.7 1101.7h0M386.8 1101.3h0M389.7 1103.2h0M403.9 1104.5h0M390.7 1104.3h0M388.8 1104.3h0M399.6 1102.9h0M401 1103.4h0M404.8 1102.6h0M389.5 1103.5h0M390.8 1107.6h0M389.9 1106.3h0M389.3 1105.8h0M391.6 1107.6h0M405.8 1106.6h0M390.2 1106.2h0M403.2 1106h0M389.9 1106h0M404.8 1105.7h0M405.7 1105.8h0M402.5 1105.1h0M402.4 1106.1h0M404.5 1105.6h0M407.8 1108.8h0M406.8 1108h0M402.6 1109.5h0M405.3 1108.8h0M405.7 1108.3h0M391.6 1110.6h0M390.8 1108.4h0M396.4 1109h0M408.3 1108.6h0M393.5 1112.7h0M395.9 1111.9h0M409.9 1112.4h0M407 1113.2h0M398.9 1113.2h0M408.9 1112h0M405.7 1112.8h0M410.3 1114h0M395.7 1116.6h0M395.2 1116h0M406.4 1114.9h0M399 1117.2h0M396.8 1117.7h0M406.2 1114.5h0M409 1117.8h0M396.7 1118.9h0M407.5 1116.5h0M396 1120.4h0M402.7 1118h0M409.1 1117.4h0M396.2 1120.5h0M401.3 1117.8h0M410.9 1117h0M398 1118.3h0M401.1 1118.6h0M398.1 1120.2h0M412.3 1118.3h0M410.9 1118.3h0M414 1119.8h0M409.2 1119.2h0M397.1 1121.5h0M396.7 1121.7h0M395.8 1121.2h0M411.5 1118.8h0M410.1 1120.6h0M399 1124.9h0M411.1 1122.9h0M411.1 1121.1h0M399.2 1124.3h0M415.9 1121.7h0M413.3 1122.7h0M400.7 1123.8h0M401.5 1124.4h0M404 1124.1h0M413.1 1121.6h0M403 1123.6h0M401.8 1123.2h0M414.5 1123.4h0M416.9 1122.8h0M413.8 1124.5h0M403 1125.4h0M413.2 1124h0M404.1 1127.3h0M404.4 1125.4h0M401.3 1125.5h0M401.8 1127.3h0M415.2 1124h0M401.8 1125.5h0M399.9 1126.1h0M399.4 1127.1h0M413.4 1125.1h0M414.6 1125.7h0M414.3 1126.1h0M418.8 1124.5h0M406.3 1128.5h0M414.6 1125.9h0M401.5 1128.7h0M403.3 1132h0M406.1 1132h0M408 1130.1h0M415.8 1128.2h0M411.3 1129.8h0M403.1 1130.6h0M408.7 1131.2h0M411.4 1130.5h0M415.9 1129.1h0M419.6 1130.4h0M406.1 1133.6h0M413.7 1130.3h0M406.8 1132.8h0M408.7 1133.2h0M406.5 1133h0M408.3 1134h0M415.6 1130.8h0M409.5 1135.6h0M405.1 1135.4h0M408.4 1134.5h0M407.1 1135h0M408.7 1135.7h0M419.3 1131.6h0M419.2 1131.4h0M424.1 1131.6h0M406.7 1136.5h0M408.2 1139.3h0M425.7 1132h0M407.4 1138h0M425.6 1133.9h0M414 1137h0M410.5 1138.2h0M423.1 1133.1h0M410.4 1137.7h0M412.5 1138h0M422.6 1132.7h0M425.1 1134.3h0M427.7 1134.9h0M413.3 1140.7h0M410 1140.8h0M410 1141.1h0M423.1 1135.7h0M424.6 1135.1h0M412.6 1138.6h0M423.4 1135.3h0M410.5 1139.6h0M413.3 1141h0M415.8 1142.3h0M429.4 1136.4h0M426.6 1136.7h0M418 1139.8h0M428.4 1136.7h0M413 1143.8h0M427 1138.3h0M413.9 1141.2h0M411.7 1142.6h0M412.3 1143.7h0M425 1137h0M429.1 1136.7h0M415.4 1141.2h0M413 1143.1h0M416.1 1142.2h0M424.3 1139.4h0M423.8 1138.2h0M413.8 1142.7h0M416.3 1144h0M416.5 1144.2h0M419 1143.3h0M429.1 1138.9h0M414.1 1144.3h0M426.4 1140.9h0M431 1138.8h0M419.8 1141.6h0M430 1139.6h0M429.7 1140.8h0M422.5 1145.1h0M430.2 1140.3h0M417.5 1145.9h0M428.5 1142.4h0M415.6 1147h0M431.7 1143.2h0M418.3 1149h0M423.3 1148.1h0M429.9 1145h0M418.4 1148.2h0M432.2 1143.2h0M417.6 1150.2h0M430.3 1145.2h0M434.4 1140.9h0M418 1148.6h0M433.7 1142.1h0M429.2 1148h0M432.4 1145.3h0M437.3 1144.1h0M428.3 1148.4h0M433.8 1145.8h0M420.9 1150.9h0M430.3 1147.7h0M436 1145.2h0M433.8 1146.1h0M433.6 1144.7h0M435.9 1144.7h0M434.4 1145.1h0M423.4 1150.1h0M422 1150.7h0M426.7 1152.5h0M434.6 1147.9h0M438.7 1146.1h0M434.8 1146.1h0M423.9 1151.6h0M419.5 1154h0M420.5 1153.2h0M432.9 1149.3h0M433.3 1146.8h0M420.8 1154.9h0M435.2 1149.2h0M436.5 1148.2h0M436 1149.3h0M425.4 1155.8h0M421.9 1156.2h0M422.6 1154.7h0M421.9 1155.7h0M440.8 1148.4h0M423.4 1154.1h0M423.7 1155.5h0M435.8 1149.4h0M435.7 1149h0M440.1 1151h0M439.5 1151.1h0M424.8 1157.5h0M434.8 1152.3h0M437.8 1152.3h0M431.6 1153.1h0M442 1150.1h0M423.5 1157.1h0M426 1156.5h0M439.2 1152h0M430.4 1157.5h0M427.4 1158h0M430.9 1157h0M443.9 1152.3h0M425.6 1158.7h0M429.6 1159h0M429.9 1156.5h0M433.1 1157.8h0M433.1 1158.4h0M442.3 1154.3h0M432.6 1159.6h0M433.7 1158.8h0M446 1152.3h0M443 1153.8h0M445.2 1153.1h0M446.3 1154.5h0M443.3 1158h0M438.8 1158.4h0M432.7 1161.3h0M447 1153.6h0M442.6 1156.4h0M434.3 1161.8h0M433.7 1161.1h0M447.8 1158.2h0M439.4 1160.6h0M436 1162h0M444.5 1158.8h0M442.2 1163.9h0M447.7 1158.9h0M435.4 1165.1h0M438.6 1165.6h0M451.8 1157.6h0M442.9 1162h0M448.1 1158.6h0M441.3 1162.8h0M442.6 1163.7h0M450.5 1157.6h0M439.1 1165.5h0M448.2 1158.8h0M435.5 1165h0M454.5 1158.7h0M445.9 1164.6h0M450.1 1160.1h0M452 1159.9h0M452.5 1160.4h0M453.9 1158.4h0M454.8 1159.7h0M442.1 1166.8h0M443.7 1166.9h0M447.2 1164.3h0M441.4 1168.6h0M455.9 1160.7h0M443.6 1167.3h0M441 1169.3h0M442.2 1168.6h0M439.7 1169.1h0M450.8 1162.3h0M442 1168.7h0M442.8 1167.7h0M454.8 1163.2h0M453.4 1164.9h0M453.4 1163.5h0M442.5 1170.8h0M446.1 1167.7h0M458.2 1161.8h0M457.2 1162.6h0M449.5 1167.7h0M456.2 1162.3h0M458 1165.4h0M450.4 1168h0M458.9 1165h0M450.7 1170.3h0M457.6 1165.6h0M458.7 1164.3h0M447.6 1173.7h0M460.6 1164.5h0M450.7 1171.6h0M460.3 1166.7h0M459.2 1167.7h0M447.6 1174.6h0M454.6 1170.8h0M460.6 1169.8h0M450.9 1173.9h0M463.7 1165.4h0M456.6 1175.8h0M453.4 1178.2h0M455.1 1176.5h0M463.8 1170.3h0M451.1 1176.7h0M460.7 1171.5h0M468.9 1170.2h0M457.7 1176.7h0M462.9 1172.2h0M455.3 1177.2h0M459.7 1174.3h0M466.3 1169.8h0M455.6 1178.7h0M457 1178.2h0M455.9 1179h0M453.4 1178.8h0M457.8 1177.5h0M454.9 1179.5h0M467.5 1170.3h0M467.7 1174.2h0M460.7 1178.5h0M467.1 1172.5h0M457.1 1181.2h0M467.8 1172.7h0M456 1181h0M470.4 1171.4h0M467.2 1173.2h0M468.4 1174.2h0M470.1 1175.5h0M472.1 1173.9h0M471 1172.4h0M463.5 1178.5h0M462.7 1179.3h0M465.1 1181.9h0M475.1 1172.5h0M471.8 1174.4h0M472.9 1176.3h0M464.9 1181.6h0M471.1 1176.1h0M465.5 1181.4h0M464.6 1182.5h0M467.9 1181.2h0M473.3 1178.5h0M470.4 1179.5h0M464.9 1183.1h0M467 1183.7h0M465.8 1184.7h0M471.5 1178.7h0M471.4 1177.9h0M473.4 1176.5h0M478.6 1175.6h0M476.1 1177.3h0M467.4 1185.2h0M480.4 1175.3h0M469.3 1183.6h0M472.7 1185.2h0M482.7 1176.8h0M480 1179.7h0M479 1179.6h0M471.8 1185.6h0M479.8 1178.6h0M475.8 1186.4h0M473.9 1185.7h0M482.5 1178.4h0M472.6 1187.8h0M473.4 1185.6h0M484.2 1178.8h0M473.4 1186.3h0M483.9 1178.8h0M485.6 1178.3h0M474.9 1187.3h0M482.8 1182.4h0M482.2 1181.8h0M477.1 1186.9h0M476.2 1186.1h0M476.5 1186.4h0M478 1185.2h0M473.2 1188.5h0M483.4 1181h0M485.7 1180.5h0M474.8 1188.6h0M483.2 1181.6h0M485.8 1181.3h0M488.3 1180h0M482.4 1187.2h0M487.1 1184.2h0M489.4 1183.2h0M488.3 1185.4h0M479.5 1190.7h0M492.1 1183.8h0M485.1 1191.2h0M485.3 1191.2h0M488.3 1188.8h0M484.7 1189.9h0M484.4 1189.3h0M481.2 1191.6h0M495 1184.5h0M489.2 1190.7h0M494.2 1186.6h0M494.3 1184.9h0M495.2 1184.8h0M485.5 1193.4h0M488 1192h0M492.4 1187.6h0M489.3 1191.1h0M486.9 1193.4h0M496.7 1185.7h0M488.7 1194.9h0M495.3 1188.3h0M489.2 1194.2h0M494.8 1187.4h0M487.1 1193.5h0M490.5 1191.9h0M490.7 1193.2h0M492.5 1194.5h0M499.6 1186.5h0M492.4 1192.9h0M497 1190.6h0M490.2 1194.3h0M492.3 1193.2h0M498.7 1191.2h0M501.6 1190h0M497.2 1191.1h0M501.6 1189.5h0M500.5 1188.8h0M501.2 1189.2h0M501.2 1188.6h0M492.2 1195.4h0M499.4 1190.2h0M498.5 1194.7h0M498.7 1194.3h0M499 1194.3h0M496.4 1197.3h0M496.4 1194.9h0M500.9 1195.6h0M501.7 1196.4h0M507.4 1189.8h0M496.9 1198.1h0M507.9 1190.7h0M497.9 1198.6h0M499.6 1198.6h0M505.2 1193.4h0M503.4 1196.8h0M508.6 1191.9h0M503.8 1196.6h0M508.1 1192.9h0M504.7 1194.3h0M509.6 1192.1h0M511 1193.9h0M506.2 1198.8h0M510 1192.3h0M505 1200.7h0M504.3 1200.3h0M510.5 1192.2h0M510.3 1192.1h0M504.1 1199.8h0M505.6 1199.1h0M505.7 1201.1h0M513.9 1195.2h0M514.8 1192.9h0M513.5 1194.6h0M511.1 1197.3h0M506.3 1200.3h0M511.1 1199.2h0M515.8 1195.5h0M510.9 1201.6h0M516.8 1195.1h0M510.4 1199.4h0M514.1 1195.3h0M510.4 1203h0M514.3 1200h0M516.7 1197h0M517.3 1196.5h0M517.5 1198.5h0M516.3 1197.1h0M512.9 1200.9h0M519.8 1199.4h0M514.4 1204.9h0M515 1205.2h0M516.2 1202.1h0M517.9 1202h0M520.9 1196.2h0M521.2 1198h0M519 1204.7h0M522.3 1197.6h0M519.2 1203.9h0M515.7 1204.8h0M515.5 1205.2h0M516.9 1204.2h0M517.4 1203.2h0M519.1 1203.3h0M522.5 1197.8h0M524 1196.9h0M519.6 1204h0M519.7 1205.6h0M526.1 1199.3h0M519.9 1205.6h0M524.3 1198.9h0M519.6 1206.5h0M526.1 1198.2h0M524.3 1202.6h0M524.3 1206.1h0M523 1205.6h0M528.1 1201.7h0M523.8 1205.9h0M525.2 1205.2h0M531.3 1200.4h0M530.8 1201.8h0M524.1 1207h0M526.1 1204.2h0M524.5 1208h0M524.4 1207.4h0M523.7 1207.4h0M528.7 1208.7h0M526.6 1208h0M528.6 1205.4h0M536.2 1202.3h0M531.2 1210h0M535.2 1202.2h0M531.9 1208.8h0M536.6 1202.3h0M538.6 1203.1h0M534.9 1207.9h0M534.3 1208.3h0M534.8 1208h0M532.7 1210.4h0M537.8 1209.1h0M541 1204.9h0M538.2 1208.9h0M541 1204.6h0M537.5 1208.7h0M542.7 1206h0M543 1206.1h0M543.2 1204.4h0M541.8 1207h0M545.1 1205.5h0M543.6 1208.4h0M544.8 1205.2h0M543.7 1211.4h0M543.1 1212.9h0M547.5 1208.5h0M544.4 1213.3h0M547.2 1206.5h0M544.5 1211h0M546.1 1214.1h0M547.6 1214.6h0M547.5 1213.5h0M547.6 1212.5h0M550.4 1206.9h0M545.1 1213.8h0M548.7 1210.6h0M548.8 1208.3h0M548.6 1208.9h0M550.4 1213.7h0M548.4 1214.2h0M548.1 1214.2h0M551.3 1214.2h0M552.3 1215.1h0M551.7 1213.4h0M553.4 1210.1h0M554.9 1211.8h0M558.7 1210.1h0M554.9 1216.1h0M555.6 1214h0M560.7 1210.1h0M558.7 1211.3h0M560 1210.2h0M557.9 1215.4h0M561 1212.1h0M563.6 1211.3h0M560.2 1214.8h0M562.1 1211.1h0M565.1 1211.4h0M564.9 1213h0M565.4 1212.1h0M565.3 1218.1h0M568.5 1213.2h0M570.4 1214.3h0M569.5 1214.8h0M570.3 1215h0M568.3 1217.4h0M568.9 1217.6h0M568.5 1216.5h0M570.1 1218.6h0M571.5 1213.2h0M573.4 1215.8h0M571.9 1218.9h0M574.4 1220.8h0M573.9 1214.1h0M573.8 1214.7h0M577.8 1221.2h0M578.4 1216.8h0M579.5 1217h0M580.3 1221.3h0M580.4 1217.4h0M582.3 1220h0M583.3 1218.5h0M581.5 1220.5h0M400.3 1092.7h0M401.8 1095.5h0M402.6 1098.4h0M404.9 1100.3h0M405.2 1103h0M407.3 1104.2h0M407.1 1107.2h0M409.5 1109.4h0M411.2 1110.9h0M412.7 1113.6h0M413 1116h0M415.3 1117.7h0M416.8 1121.4h0M418.1 1122.1h0M419.7 1124.8h0M421.8 1127.4h0M423.4 1128.6h0M424.1 1130h0M426.4 1133.5h0M427.9 1134h0M430 1136.6h0M432.7 1139.3h0M433.9 1140.4h0M436.7 1142.6h0M437.2 1143.9h0M439.4 1146.3h0M441.7 1147.1h0M443.1 1149h0M444.8 1151.3h0M447 1152.8h0M449.6 1155.8h0M450.7 1157.5h0M454.3 1158.1h0M455.6 1159.9h0M458.3 1160.5h0M460.7 1163.3h0M463.1 1164.7h0M464.1 1165.5h0M466.4 1167.2h0M469.9 1168.1h0M471.9 1169.9h0M473.9 1170.6h0M476 1172.8h0M478.4 1174.5h0M480.7 1174.7h0M483.6 1176.5h0M484.3 1178h0M487.1 1178.9h0M490.5 1180.1h0M492.3 1182.6h0M495.1 1183.7h0M496.9 1184h0M498.7 1186.1h0M501.1 1187.1h0M503.1 1187.7h0M505.4 1189.7h0M508.3 1190.2h0M510.6 1191.4h0M513.5 1193h0M516.5 1193.2h0M519.1 1194.9h0M521 1195.9h0M523.2 1196.9h0M524.9 1198.1h0M528.8 1199h0M530.4 1199.6h0M533.3 1200.7h0M535.5 1201.4h0M538.7 1201.9h0M539.9 1203.8h0M543.9 1203.7h0M545 1205.5h0M548.7 1205.3h0M551 1207.2h0M552.8 1206.4h0M556.5 1207.3h0M558.8 1209.4h0M561.3 1209.7h0M562.7 1210.7h0M565.3 1212.1h0M568.1 1212.9h0M571.2 1212.2h0M572.6 1214.4h0M575.6 1213.7h0M579.1 1215.7h0M580.7 1216h0M583.2 1216.5h0M529.4 1180.3h0M494.6 1166.4h0M536.9 1168.3h0M492.2 1111h0M451.4 1139.9h0M437 1138.8h0M503.8 1151.5h0M465.9 1165.1h0M482.9 1157.3h0M558.1 1196.4h0M472.5 1164.8h0M488.9 1175.1h0M578.8 1154.5h0M446 1130.8h0M547.3 1140.7h0M573.5 1177.3h0M461.9 1155.8h0M573.4 1135.4h0M505.7 1108.6h0M513.2 1112.5h0M483.8 1172.7h0M545.7 1124.2h0M472.9 1141h0M487.5 1162.7h0M512.6 1185.4h0M488 1164.9h0M473.5 1154.8h0M568.5 1207.9h0M447.8 1110.5h0M484.5 1139.1h0M536.2 1201.8h0M543.5 1194.6h0M524.3 1148.3h0M556 1158.7h0M515.1 1188.2h0M445.1 1136.3h0M473.6 1107.1h0M495.2 1140.7h0M493.4 1127.5h0M572.4 1174.8h0M476.1 1113.3h0M428 1122.7h0M563.2 1192.5h0M470.5 1160.8h0M576.3 1165.6h0M462.8 1136.1h0M513 1129.6h0M517.4 1134h0M534.4 1159.6h0M499 1142.2h0M526.9 1134.8h0M537.5 1198.3h0M428.4 1130.1h0M567.8 1162.7h0M444.5 1127.7h0M526.7 1177.3h0M523 1153.4h0M546 1118.7h0M547.1 1197.9h0M495.1 1163.4h0M509.3 1145.4h0M449.7 1138.3h0M438.3 1128.2h0M531.5 1191.3h0M458.5 1151.7h0M554.5 1161.7h0M452.3 1150.3h0M526 1132.8h0M551.5 1125.7h0M498 1131.2h0M497.2 1164.5h0M561.9 1147.2h0M525.5 1139.3h0M511.8 1116.9h0M533.1 1189h0M434.1 1118.6h0M476 1133.6h0M560.9 1196.1h0M485.9 1126.4h0M452.5 1141.7h0M526.4 1129.7h0M499 1127.6h0M457.1 1144h0M450.6 1133.6h0M522.8 1128.3h0M458.2 1104.9h0M453.6 1118.5h0M504.1 1171.4h0M476.6 1166.3h0M537.3 1120.3h0M492.7 1114h0M449.2 1149.9h0M577.2 1169h0M469.8 1109.8h0M538.4 1157.9h0M568.1 1130.7h0M435.3 1126.1h0M539.5 1198h0M490 1171.8h0M548.8 1155.8h0M505.9 1173h0M494.1 1134.1h0M484.8 1155.9h0M562.4 1132.2h0M502.7 1112.4h0M478.6 1157.7h0M472.8 1121.8h0M512.5 1124.9h0M532.2 1175.6h0M579.3 1209.3h0M518.2 1120.7h0M506.9 1109.5h0M459.8 1148.6h0M506.3 1111.5h0M545.9 1169.4h0M568.3 1153h0M579.9 1131.2h0M451.9 1155.6h0M528.3 1158h0M548.3 1158h0M468.9 1126.4h0M493.5 1157.2h0M546.2 1130.4h0M502.1 1119.2h0M551.6 1190.2h0M475.5 1115.1h0M478.7 1171.5h0M509.5 1131.4h0M480.8 1147.8h0M453.7 1145.9h0M493.6 1110.3h0M565.1 1208.9h0M550.4 1194.5h0M453.7 1137.4h0M480.5 1168.2h0M444 1142.7h0M512 1162.5h0M472 1120.9h0M561.6 1158h0M546.8 1118.6h0M572.8 1198.2h0M558.2 1188.4h0M492.6 1164.5h0M470.1 1111.7h0M550.3 1185.9h0M463.2 1124.5h0M433.8 1135.4h0M490.4 1107.5h0M487.5 1144.1h0M471 1133.4h0M470.5 1109.8h0M541.7 1201.5h0M524.5 1146.4h0M549.4 1202.1h0M557.3 1128.3h0M468 1149.6h0M541.2 1146.9h0M515.3 1121.6h0M509.5 1168.1h0M503.1 1169.3h0M513.8 1122.5h0M501.7 1119.1h0M449.7 1139.1h0M568 1129.6h0M465.6 1127h0M459.1 1150.2h0M476.7 1162.6h0M536.8 1177.4h0M543.7 1154.5h0M505 1133.8h0M473.3 1164.4h0M574.8 1130.1h0M577.1 1132.4h0M495.3 1151.8h0M494.1 1169.3h0M531.5 1155.4h0M511.8 1165.6h0M577.3 1210.4h0M534.9 1182.7h0M577.8 1132.1h0M527.5 1115.9h0M528 1195.5h0M547.2 1185.6h0M562.2 1126h0M539.2 1196.3h0M473.2 1138.3h0M479.5 1160.4h0M502.1 1175.7h0M546.8 1174.5h0M461.3 1156h0M543.9 1133.9h0M526.9 1189.8h0M573.7 1168.9h0M508 1136.4h0M542.6 1190.5h0M493.1 1141.6h0M518.4 1172.8h0M578.8 1140.3h0M550.6 1161.7h0M542.1 1196.4h0M484.2 1155.8h0M510.1 1155.9h0M513.5 1139.1h0M551.8 1178.5h0M504 1158.2h0M555.8 1201.7h0M444.2 1111.3h0M574.7 1135.5h0M533.3 1187.9h0M549.5 1202h0M457.3 1139h0M474.1 1166.2h0M569.7 1165.7h0M509.1 1181.2h0M459.9 1117.3h0M520.1 1175.9h0M576.1 1138.1h0M522.7 1154.2h0M433.6 1139h0M542.3 1154h0M554.3 1158h0M560.9 1145.8h0M524.4 1192.2h0M460.2 1107.1h0M520.5 1186.9h0M519.6 1161.1h0M571.7 1145.7h0M509.8 1168.4h0M534.8 1187.5h0M578.3 1190.8h0M581.7 1187.9h0M474.1 1110.6h0M560.3 1146.6h0M551.9 1166.3h0M452 1116.8h0M457.1 1155.2h0M506.5 1178.9h0M513.1 1176.5h0M544.9 1122.3h0M480.3 1171.7h0M453.2 1140.7h0M480.3 1161.5h0M546 1177.3h0M455.3 1135.2h0M581.6 1142.5h0M523.2 1157.9h0M457.4 1158h0M527.4 1181.4h0M436.3 1136.8h0M528.8 1136.3h0M480.5 1173.6h0M477.6 1134.5h0M498.5 1165.3h0M541.8 1166.5h0M441.1 1135.9h0M573.9 1188.8h0M557.4 1148.1h0M462.8 1109.2h0M555.2 1154.5h0M535.1 1182.3h0M537.2 1189.7h0M507.3 1123.6h0M545.9 1190.5h0M571.8 1156h0M560.3 1128.3h0M480 1123.4h0M520.1 1148.8h0M495.8 1127.1h0M548.3 1161h0M530.3 1135.5h0M504.6 1125.9h0M581.9 1160.5h0M516.1 1187.6h0M552.8 1203.8h0M537.9 1124.3h0M524.4 1190.4h0M509.6 1112.2h0M480.5 1140.3h0M498.9 1167.3h0M466.3 1109.7h0M442.3 1131.3h0M493.5 1171.1h0M468.9 1161.3h0M471.3 1146.6h0M481 1133.7h0M554.8 1185.9h0M462.1 1150.7h0M496.6 1182.5h0M558.7 1174.9h0M534 1162.8h0M473.6 1142.7h0M538.3 1190.5h0M497.5 1171.6h0M455.8 1119.5h0M570.9 1165.8h0M482.4 1170.1h0M451.3 1130h0M511.7 1173.8h0M443.8 1139.1h0M461.8 1107.6h0M544.8 1162.6h0M459.3 1116h0M462.1 1120.4h0M502 1152.2h0M557.8 1153h0M468.6 1161h0M463.2 1107.1h0M523.5 1122.1h0M561.7 1205.7h0M575.1 1210.4h0M497 1174.3h0M429.3 1123.4h0M469.6 1159.7h0M498.8 1156.5h0M511.2 1140h0M520.3 1168h0M527.9 1166.8h0M505.9 1169.9h0M538.6 1151.2h0M514.3 1119.4h0M456.7 1144.2h0M524.5 1195.6h0M511.5 1162.6h0M524.6 1190.9h0M520.1 1168.9h0M557.4 1200.2h0M553 1155.6h0M567.9 1181.8h0M479.9 1170.6h0M428.1 1129h0M508.4 1163.7h0M487.7 1118h0M439.4 1130.3h0M500.1 1185.6h0M502.7 1175h0M555.7 1125.5h0M549.8 1174.5h0M433.5 1118.8h0M520.5 1180.8h0M440.5 1143h0M528.7 1165.3h0M455.3 1116.5h0M527.9 1170.9h0M569.8 1153.1h0M543.4 1187.2h0M499.1 1131.6h0M483.3 1169.3h0M500 1175.7h0M551 1141.3h0M440.2 1142.4h0M447.5 1130.2h0M432.6 1133.2h0M577.7 1181.3h0M576.2 1179.6h0M482.6 1153.9h0M526 1156.3h0M465.5 1133h0M449.4 1134.1h0M494.6 1131.5h0M505.6 1169.9h0M532.5 1188.3h0M568.4 1204.3h0M576.4 1211.4h0M459.5 1120.5h0M479 1131h0M503.5 1149h0M508.8 1163.3h0M518.2 1186.8h0M561.4 1188.4h0M519 1121.6h0M496.9 1171.2h0M538.2 1120.2h0M540.4 1180h0M466.2 1146.4h0M459.8 1147.6h0M449.7 1124.2h0M532.3 1193.4h0M540.1 1202.9h0M426.2 1126.3h0M466.4 1125.1h0M545.7 1199.5h0M448.8 1125.7h0M542.8 1118.6h0M438.8 1130.5h0M511.6 1172.4h0M474 1160h0M581.8 1205.1h0M466.6 1159.1h0M525.9 1187.1h0M452.1 1146.1h0M477.4 1125.6h0M460.3 1158.1h0M541 1119.1h0M501.2 1178h0M539.9 1189.7h0M528.2 1167.4h0M540.9 1190.4h0M574.4 1135.8h0M557.6 1196.5h0M459.9 1153.6h0M489.8 1104.8h0M477.5 1168.3h0M519.1 1172.6h0M495 1155.6h0M451.4 1150.6h0M459.2 1147.9h0M550.9 1192.6h0M558.2 1196.9h0M571.8 1162.8h0M526.9 1173.7h0M480.2 1118h0M489.8 1176.5h0M512.2 1184.1h0M465.6 1153.5h0M526.2 1131.1h0M539.9 1120h0M498.6 1162.7h0M474.6 1159.5h0M509.9 1146.3h0M541.8 1153.9h0M446.6 1149.6h0M486.8 1115.8h0M465.6 1114.4h0M562.5 1188.6h0M472.3 1149.4h0M443.9 1118.4h0M521.2 1138.8h0M485.8 1164.5h0M577.6 1212.1h0M509.5 1182.2h0M530.6 1191.4h0M512.8 1171.3h0M506.8 1180.5h0M470.1 1159.5h0M479.9 1155.6h0M526.7 1185.5h0M448.5 1119.9h0M513.7 1109.5h0M534.1 1195h0M502.7 1185.9h0M563.8 1194h0M507.3 1115.1h0M440.6 1141.6h0M489.6 1140.6h0M474.2 1159.1h0M453.9 1125.1h0M539.2 1190h0M428.5 1118.1h0M566.9 1177.4h0M437.3 1120.1h0M577.2 1206.8h0M555 1194.2h0M432.7 1123.2h0M521.7 1170.5h0M455.8 1135.6h0M483.1 1170.8h0M448.8 1136.8h0M530.3 1137.3h0M536.1 1184.7h0M522.1 1118.4h0M457.3 1140.1h0M566 1182.2h0M491.5 1168.5h0M535.3 1183.2h0M432.7 1128.8h0M575.1 1162.7h0M505.8 1142.3h0M499.1 1162.2h0M561.3 1180.3h0M482.5 1174.5h0M405 1284.3h0M406.6 1294.3h0M392.9 1294.7h0M404.2 1299.2h0M397.3 1305.4h0M406 1298.6h0M405.9 1289.4h0M401 1294.3h0M395.5 1302.3h0M400.3 1282.8h0M397 1299.2h0M401.7 1312h0M406.8 1279.5h0M405.4 1302.8h0M400.3 1287.7h0M404.5 1283.7h0M404.9 1283.9h0M413.3 1278.2h0M406.8 1292.6h0M398.8 1288.8h0M395.1 1279.9h0M398.9 1282.4h0M398.1 1287.2h0M395.4 1288.7h0M412.1 1281h0M402 1295.6h0M407.2 1294h0M401.5 1286.6h0M395 1302h0M408.5 1290.9h0M400.1 1302.4h0M407.3 1282.4h0M408.7 1280.1h0M411.3 1288h0M397.3 1304h0M394.1 1282.9h0M401.4 1285.6h0M396.1 1300.5h0M397.5 1284.2h0M395.7 1279.9h0M399.4 1299h0M402.4 1293.9h0M399.4 1284.7h0M410.6 1279.6h0M400.4 1312.6h0M395.1 1281.7h0M406.8 1280.8h0M404 1284.9h0M405 1282.7h0M410.7 1277.9h0M409.3 1294.8h0M412.2 1278.2h0M405 1279.7h0M394 1300.5h0M403.5 1282.1h0M408.9 1278.2h0M402.9 1282.1h0M394.2 1279h0M402.3 1283.3h0M401.8 1313.2h0M396.1 1289.6h0M396.1 1281.6h0M404.9 1290.7h0M404.9 1280h0M393.7 1296.9h0M408.2 1279.3h0M397 1300.5h0M403.7 1302.9h0M403 1288.3h0M403.8 1302.7h0M409.1 1298h0M403.7 1282h0M404.9 1295.2h0M404.8 1292h0M402.8 1292.5h0M395.8 1285.9h0M397.4 1279.5h0M405.4 1283.4h0M395.6 1292.7h0M401.7 1300.8h0M403.5 1282.3h0M405.6 1295.6h0M411.1 1285.4h0M406.8 1287.5h0M399.4 1297.4h0M404.1 1280.9h0M402.4 1311.9h0M406 1288.2h0M404.9 1287.8h0M395.7 1303.3h0M399.7 1300.7h0M398 1303.4h0M404.7 1284.7h0M402.3 1311.9h0M403.5 1299.8h0M398.1 1290.7h0M408.1 1280.1h0M412.3 1281.2h0M406.1 1297.6h0M395.8 1301h0M399.3 1297h0M401.8 1300.3h0M407.6 1282.2h0M405.9 1291.7h0M399.2 1290.5h0M408 1291h0M402.7 1295.7h0M407.5 1278.7h0M408.6 1282.5h0M408.8 1293.3h0M404.3 1280.6h0M397.5 1278.9h0M403.2 1290.4h0M406.3 1288.2h0M409.6 1292.1h0M394.5 1296.8h0M392.2 1297.6h0M392 1301.8h0M391.1 1303.8h0M388.6 1306.5h0M388.5 1307.4h0M386.3 1310.8h0M385.8 1312.4h0M431.8 1278.9h0M418.4 1278.6h0M426.5 1308.9h0M427.3 1274.3h0M427 1299.9h0M435.8 1279h0M429.1 1275.6h0M440.2 1276.6h0M425.4 1303.5h0M438.8 1276.9h0M426.1 1310.3h0M417.6 1292.8h0M443.1 1275.7h0M415.1 1280.8h0M432.4 1275.1h0M428.5 1299.4h0M429.6 1289.3h0M426.1 1301.3h0M442.5 1277.6h0M430.2 1283h0M444.4 1275h0M423.4 1274.9h0M428 1309.2h0M424.8 1292.6h0M433.4 1288h0M426.2 1290.4h0M426 1294.2h0M412.7 1279h0M425.6 1274.4h0M426.9 1285h0M429.6 1298.6h0M419.5 1278.6h0M424.7 1280.1h0M436.2 1273.2h0M429.4 1288.6h0M415.4 1285.4h0M432.3 1274.5h0M440.3 1280.9h0M418.4 1287.7h0M419.8 1294.4h0M437.2 1274.9h0M437.5 1272.9h0M437.2 1278.9h0M443 1274.5h0M433.7 1273.3h0M420.3 1282.8h0M419.9 1288.3h0M418.9 1296.4h0M430 1289.3h0M416.7 1277.7h0M430.3 1288h0M427.7 1275.4h0M442.5 1280.2h0M419.8 1291.2h0M429.7 1294.9h0M431.2 1298.7h0M426.1 1276.1h0M444.5 1276.9h0M420.2 1285.4h0M434.4 1292.2h0M429.1 1288.8h0M437.1 1277.6h0M419.7 1284h0M426 1288.9h0M436.4 1278.1h0M432 1282.1h0M419 1280.1h0M435 1293.9h0M428.3 1277.5h0M425.9 1294.6h0M428 1303.7h0M425.9 1299.7h0M435.2 1285.2h0M430.8 1289.4h0M419.7 1297.7h0M430.1 1293.6h0M424.4 1302.3h0M435.7 1292.7h0M433.6 1289h0M433.5 1289.1h0M428.7 1275.5h0M423.1 1298.7h0M426.2 1275h0M424.1 1286.8h0M426.1 1324h0M449.5 1271.7h0M453.7 1272.2h0M455.5 1271.3h0M455 1272.2h0M453.1 1273.4h0M454.4 1271.8h0M456.4 1274.7h0M459.2 1274.6h0M458.7 1271.1h0M459.2 1272.7h0M460 1271.8h0M459.6 1272.6h0M461.4 1271.7h0M462.2 1273.7h0M464 1278.3h0M465.3 1271.6h0M465.8 1277h0M466 1270.2h0M463.7 1272.4h0M465.2 1270.8h0M466.6 1276.7h0M468 1277.9h0M468.1 1271.8h0M467.3 1271.5h0M467.1 1270.1h0M466.5 1275.5h0M468.5 1271.6h0M469.5 1274.4h0M466.9 1274.6h0M466.4 1278.9h0M466.4 1272.2h0M472.6 1269.9h0M470.7 1270.7h0M469.9 1272.6h0M470.2 1274.7h0M470.8 1280.6h0M472.2 1272.9h0M469.6 1276.3h0M470 1273.8h0M470 1275.9h0M472.1 1270.3h0M471.9 1270.3h0M470.1 1280.8h0M470.6 1275.3h0M470.7 1273.6h0M472.3 1280.9h0M470.4 1272.9h0M470.5 1272.9h0M475.6 1272.3h0M473.7 1272.2h0M475 1272.4h0M474.6 1275.9h0M473.9 1271.5h0M475.1 1280.4h0M476.2 1273.1h0M473.3 1281.4h0M477.5 1283.1h0M478.9 1278.4h0M478.8 1271.7h0M477.9 1274.8h0M477.7 1271.6h0M477.9 1279.9h0M478.9 1272.1h0M477.2 1271.6h0M478 1270.8h0M477.1 1273.9h0M482 1281.7h0M480.9 1276.8h0M480.8 1281.6h0M481.2 1270h0M481.2 1284.4h0M480.4 1270.4h0M481.6 1274.5h0M481.9 1269.5h0M480.7 1274.4h0M480.1 1270.2h0M479.9 1275.5h0M480.4 1277h0M481.2 1280.9h0M481.6 1272.4h0M481 1275h0M481.3 1280.8h0M483.4 1270.6h0M481 1279.1h0M482.6 1270.2h0M484.9 1278.3h0M485.6 1279.8h0M484.2 1270.5h0M483.3 1283.1h0M486.8 1269.9h0M484.7 1284.8h0M484.1 1277.4h0M486.1 1273.6h0M483.9 1276.7h0M486.4 1279.6h0M483.9 1278h0M486 1273.1h0M485.4 1279.9h0M486.2 1281.8h0M484.3 1275h0M484.1 1271.7h0M489.4 1272.8h0M487.5 1281.5h0M487.3 1273.3h0M488.2 1277.4h0M489.6 1286.4h0M489.4 1273h0M487.7 1284.5h0M488.7 1275.3h0M487 1276h0M487.5 1283.9h0M489.4 1274.4h0M490 1272.3h0M488.5 1284.7h0M489 1280.4h0M490 1270.4h0M486.9 1275.9h0M488.6 1270h0M487.1 1279.2h0M488.7 1285.8h0M493.6 1277.9h0M491.6 1270.6h0M492.9 1272.3h0M492.6 1282.9h0M490.4 1278h0M490.8 1285.7h0M491.6 1285.8h0M493.5 1279.6h0M490.8 1272.4h0M492 1276.4h0M492.8 1282.3h0M492 1274.2h0M491.6 1280.9h0M492.3 1274.5h0M490.5 1273.7h0M493.7 1273h0M490.9 1277.4h0M490.5 1276.7h0M492.4 1287.1h0M491.1 1270.4h0M490.8 1271.8h0M492.1 1277.5h0M490.6 1270.8h0M496.3 1280.9h0M495.8 1274.6h0M495.7 1270.4h0M496.6 1275.7h0M493.8 1277.2h0M494.6 1276.4h0M494.6 1274.2h0M495.1 1281.3h0M494.2 1271.7h0M494.1 1270.3h0M497.2 1270.6h0M496.5 1284.5h0M496.1 1270.9h0M496.7 1280.4h0M495.4 1285.5h0M494 1285.8h0M497 1268.1h0M498.1 1284.1h0M499.1 1283.4h0M497.9 1281.2h0M499.3 1270.2h0M498 1271.4h0M498.1 1276.6h0M499.5 1280.8h0M500.6 1272.5h0M499 1277.3h0M499.5 1277.9h0M500.2 1284h0M498.2 1280.1h0M498.8 1281h0M497.4 1281h0M498.7 1279.8h0M499.8 1268.3h0M499.3 1278.7h0M498.9 1275.3h0M499.2 1271.5h0M499.7 1269.1h0M503.9 1281.4h0M503.4 1287.4h0M503.5 1274.9h0M500.6 1282.5h0M503.5 1286.4h0M503.5 1270.8h0M502.8 1273.6h0M503.3 1283.4h0M502.2 1284.5h0M504 1270h0M501.9 1279.9h0M503.4 1279.9h0M503.5 1286.6h0M500.9 1276.3h0M502.8 1272.3h0M500.9 1285h0M502.8 1274.9h0M502.9 1274.1h0M500.7 1285.1h0M501.4 1267.8h0M502.3 1288h0M506.7 1287.7h0M506.5 1268.5h0M506.2 1276h0M506.7 1280.1h0M505.8 1268.3h0M507.3 1283.4h0M505.2 1274.3h0M504.8 1280h0M505 1288.3h0M506.5 1278.2h0M506.3 1279.3h0M507.2 1269.6h0M506.8 1271.1h0M505.1 1272.1h0M505.1 1282.7h0M506 1280.3h0M505.2 1276.4h0M505.4 1270.2h0M505.2 1279.7h0M504.8 1283.6h0M505.4 1268h0M505.7 1290.1h0M504 1289.9h0M505.9 1271.7h0M507 1269.9h0M509.1 1282.1h0M508 1281h0M508.5 1271.8h0M510.4 1267.5h0M509.1 1288.2h0M508.2 1278.7h0M510.5 1281h0M509.1 1278.1h0M508.6 1277.7h0M510.9 1271.9h0M510.8 1278h0M509.1 1271.3h0M510.4 1277.1h0M509.1 1277.1h0M509.3 1291.2h0M509.6 1285.9h0M510.8 1271.5h0M510.2 1278.9h0M510.9 1267.1h0M510.8 1285.3h0M513.1 1271.2h0M514.1 1271.8h0M512.1 1284.6h0M513.2 1282.1h0M511.4 1287.2h0M512.6 1276.3h0M513.5 1271.1h0M512.6 1273.4h0M513.5 1266.8h0M514.2 1276.5h0M514 1273.4h0M511.8 1271.2h0M513.4 1279.1h0M513.1 1275.1h0M511 1278h0M511.9 1276.2h0M512.8 1274.2h0M511.4 1286.5h0M512.4 1291.3h0M513.2 1287.1h0M513.7 1292.6h0M511.1 1279.8h0M511.4 1272.1h0M513.9 1266.3h0M513.6 1289.3h0M513.6 1275.5h0M512.7 1287.7h0M513.5 1270.4h0M511.4 1271.1h0M515.8 1267.1h0M514.6 1268.6h0M515.3 1273.6h0M516.3 1292.8h0M517.8 1277.1h0M514.6 1287.3h0M516 1267h0M515 1273h0M514.5 1268h0M515 1274.6h0M515.5 1294.3h0M516 1274.6h0M514.8 1279.7h0M514.9 1267.8h0M515 1292.1h0M517.3 1267.8h0M517.2 1275.7h0M516.6 1267.7h0M516.6 1269.7h0M514.9 1273h0M514.7 1282.4h0M517.6 1275.6h0M515.6 1279.8h0M518.7 1271.2h0M519.6 1279.4h0M521.2 1265.6h0M519.6 1290.6h0M521.4 1268.5h0M520.1 1270.2h0M518.5 1266.1h0M519.9 1267h0M519 1268.9h0M519.1 1290.6h0M518.9 1289h0M519.4 1272.7h0M520.7 1267.7h0M521.2 1266.4h0M518.3 1269.1h0M520 1293.5h0M521.1 1266.7h0M519.6 1289.8h0M519.2 1269h0M519.1 1273.2h0M520.1 1279.1h0M519.1 1278h0M520.1 1267.6h0M519.1 1290.6h0M518.5 1289.4h0M519.3 1266.4h0M518.4 1280.6h0M520.9 1270.5h0M521.1 1272.3h0M521.6 1297h0M521.7 1265.7h0M523.7 1265.7h0M524.6 1287.5h0M524.7 1294.2h0M523 1279.9h0M523.5 1278.9h0M521.7 1269.3h0M523 1279.7h0M522.9 1269.6h0M521.9 1290.7h0M521.8 1290.9h0M521.7 1286.2h0M524.4 1274.2h0M521.5 1269.3h0M521.7 1281.4h0M523.9 1274.2h0M524.1 1272.8h0M522.9 1294.1h0M522.8 1286.2h0M523.5 1293.9h0M521.5 1274.8h0M524.2 1292.5h0M522.7 1295.2h0M521.9 1281.9h0M524.6 1265.2h0M524 1266.2h0M523.4 1296.5h0M524 1277.6h0M524.3 1282.6h0M523.4 1287h0M521.9 1276h0M525 1283.5h0M525 1283.6h0M526.8 1265.4h0M526 1267.4h0M527.6 1289.2h0M527.2 1265.5h0M525.7 1286.2h0M526.6 1286.4h0M527.3 1277.7h0M528.2 1270.2h0M526.8 1281h0M526.6 1274.8h0M527.1 1267.2h0M528.1 1283h0M525.1 1270.2h0M525.2 1267.3h0M527.3 1266.3h0M527.5 1287h0M525.1 1270.4h0M525.5 1277.6h0M526.5 1268.9h0M527.1 1282h0M527.4 1287.7h0M527.5 1273.5h0M528.1 1271.9h0M525.1 1265.1h0M526.2 1264.7h0M526.7 1267h0M526.6 1279h0M525 1290.1h0M529.7 1266h0M531.1 1265.4h0M530.7 1282.3h0M530.8 1277h0M528.5 1291.6h0M530.6 1290.6h0M529.6 1272.3h0M531.5 1264.9h0M528.6 1271.2h0M531.7 1292.8h0M531.4 1272.5h0M529.7 1266.2h0M531.5 1269.9h0M529.4 1264.2h0M529.9 1282.4h0M529.1 1293.7h0M530.9 1287.5h0M531.4 1264.1h0M529 1289.5h0M531.5 1268.8h0M529 1265.6h0M529.2 1281.9h0M530.5 1266.3h0M529.6 1267.6h0M528.7 1275.8h0M528.8 1279.9h0M531.7 1274h0M530.5 1283.7h0M529.8 1295.9h0M528.4 1273.2h0M531.5 1288.7h0M528.7 1288.3h0M529.8 1266.8h0M530.4 1273.3h0M534.7 1267.1h0M533.8 1292.3h0M532.6 1266.9h0M533.1 1295.9h0M534.6 1298.6h0M533 1295.7h0M534.5 1276.5h0M533.9 1263.7h0M534.7 1287.5h0M533.3 1283.4h0M532.6 1282.2h0M534.6 1269.5h0M533.5 1286.6h0M533 1284.5h0M534.7 1285.8h0M533.9 1271.4h0M531.9 1274.8h0M533.7 1285.1h0M533.9 1291.1h0M534.2 1280.2h0M533 1296.1h0M534.4 1295.4h0M534.9 1270.8h0M534.5 1271.4h0M533.3 1266.3h0M532.1 1264.5h0M533.7 1275.1h0M535.2 1288.4h0M532.9 1287.1h0M533.5 1273.6h0M532.4 1293.4h0M533.1 1274.5h0M532.1 1264.5h0M531.8 1274.2h0M531.8 1275.9h0M534.9 1281.6h0M533 1291h0M534.6 1273.1h0M534.2 1293.9h0M538 1277.6h0M535.9 1271.8h0M537.9 1275.9h0M538.1 1276.5h0M537.5 1275.8h0M537.9 1270.6h0M536.1 1292.7h0M537 1264.9h0M536.7 1267.1h0M538.3 1270.6h0M537.8 1291.1h0M537.9 1297.2h0M538.6 1293.9h0M538.5 1265.5h0M536 1269.6h0M537.2 1284.7h0M536.7 1289.9h0M536.3 1276.1h0M535.9 1267.1h0M538.9 1298.4h0M538 1299.5h0M535.6 1271.3h0M536.4 1265.3h0M538.6 1298.4h0M537.1 1300h0M538.1 1286.8h0M537.8 1267.3h0M536.1 1264.4h0M536.7 1264.5h0M535.4 1279.4h0M537.4 1290.1h0M537.3 1264.6h0M537.9 1297.8h0M536.7 1289.4h0M536 1268.5h0M535.8 1267.8h0M535.8 1264.2h0M538.6 1279.6h0M540.3 1284.3h0M539.4 1271.2h0M541.1 1267.9h0M539.8 1271.4h0M539.4 1291.4h0M539.4 1275.2h0M540.9 1279.8h0M540.5 1279.5h0M540.2 1284h0M540.2 1291.4h0M540.9 1295.4h0M540.6 1293.6h0M540.2 1267.8h0M539.6 1283.6h0M539 1280h0M542.5 1289.1h0M541 1282.3h0M541.5 1264.1h0M539.3 1275.8h0M542.2 1287.9h0M540 1278.6h0M542.7 1264.7h0M543.2 1270.4h0M544.8 1269.6h0M543.4 1268.3h0M543.1 1273.5h0M545.1 1289.1h0M543.4 1290.8h0M544.8 1268.2h0M544.7 1265.2h0M545.7 1291.9h0M544.4 1294.5h0M545.7 1297.7h0M545.6 1288.7h0M544.1 1282.9h0M544.1 1272.4h0M543.9 1277.2h0M545.1 1264.5h0M545 1285.9h0M543.1 1281.4h0M544.7 1273.7h0M543.1 1299.3h0M543.5 1268.2h0M543.3 1266.6h0M543.6 1269.6h0M542.9 1269.5h0M544.6 1291.9h0M542.6 1281.3h0M543.5 1292h0M546 1290.7h0M545.3 1279.1h0M545.5 1296.5h0M544.5 1273.5h0M544.1 1267.6h0M544.5 1283.7h0M545.2 1283.7h0M549.2 1301.6h0M548.1 1265.9h0M546.2 1281.2h0M545.9 1263.9h0M546.8 1293h0M548 1275.8h0M548.1 1283.2h0M547.8 1275.1h0M548.4 1279.3h0M547.3 1284.5h0M548.4 1265h0M547 1274.4h0M546.6 1265.4h0M546.1 1278.9h0M548.6 1266.7h0M546.1 1272.8h0M548.7 1270.1h0M546.6 1264.8h0M547.4 1266.2h0M548.6 1301.7h0M548.8 1269.4h0M546.8 1281.4h0M548.6 1269.5h0M548 1274.2h0M548.4 1264.9h0M546.9 1299.3h0M545.9 1279.2h0M547.8 1291.8h0M549.2 1281h0M547.2 1288h0M546.1 1278.8h0M545.8 1271.4h0M547.9 1278.8h0M548.3 1299.6h0M546.8 1274.1h0M545.8 1272.7h0M547.8 1285.2h0M548.4 1270.1h0M549.3 1280.3h0M548.5 1280.8h0M546.6 1275.3h0M550.8 1283.8h0M550.5 1274.5h0M549.3 1271.1h0M550 1283.8h0M549.1 1264.7h0M551.1 1283.6h0M551.9 1290.8h0M552.5 1284.5h0M551 1279.5h0M549.6 1285.4h0M549.2 1264.9h0M552 1273h0M550 1293.5h0M552 1294h0M552.2 1265h0M551.7 1287.5h0M552.3 1284.9h0M549.7 1267.9h0M550.2 1265.7h0M550.3 1290.1h0M550.2 1268.1h0M549.5 1279.3h0M550.3 1283.7h0M551.1 1267.2h0M550.5 1264.4h0M550.6 1273.7h0M551.6 1269.5h0M552.4 1272.6h0M551.3 1266.8h0M551.3 1287.8h0M551 1295.4h0M550.3 1273.4h0M552.7 1281.1h0M551.7 1286.2h0M551.5 1274.4h0M551.1 1270.3h0M552.5 1294h0M552.8 1291.7h0M550.1 1283.1h0M550.9 1300.8h0M550.5 1267h0M551.3 1273.4h0M551 1277.3h0M550.1 1270.6h0M553.5 1275.5h0M554.6 1264.3h0M554.8 1271.1h0M554.2 1285.1h0M552.9 1274.3h0M553.6 1272h0M556.4 1302.9h0M555.2 1283.6h0M554.2 1297.5h0M554.1 1271.4h0M555.9 1284h0M554.5 1300h0M552.9 1269.3h0M553.5 1272.6h0M556.5 1291.7h0M554.2 1272.6h0M555.9 1300.4h0M555.8 1271.4h0M553.1 1267.2h0M555.1 1283.2h0M553.4 1264.3h0M554.8 1274.3h0M554.6 1265.4h0M555.8 1265.7h0M553.9 1269.9h0M556 1285.5h0M553.7 1274h0M553.8 1272.3h0M558.3 1283.6h0M558.3 1271h0M559.4 1281.7h0M559.4 1282.8h0M559.3 1269.4h0M556.7 1280.3h0M556.2 1267.4h0M559.8 1285.7h0M559.1 1272.2h0M556.4 1280.4h0M559.5 1284.9h0M558.6 1286.4h0M559.4 1274.9h0M558.7 1289.5h0M559.8 1290.1h0M559.1 1272.2h0M559 1298h0M557.9 1266.6h0M558 1276.3h0M557.7 1270.4h0M559.6 1288.8h0M557.3 1273.1h0M558.3 1278.8h0M556.7 1280.3h0M558.8 1288.9h0M556.6 1266.1h0M559 1293.9h0M558.5 1288.4h0M557.3 1288.9h0M559.3 1273.6h0M559.6 1294.2h0M557.7 1267.1h0M561.1 1304.9h0M560.6 1294.1h0M560.8 1269.2h0M560.3 1275.2h0M560.4 1275.9h0M561.5 1292.3h0M561.7 1276.7h0M562 1289.7h0M561.4 1266.1h0M560.2 1270.9h0M562.7 1280.8h0M561 1291.1h0M562.9 1296.7h0M561 1269.5h0M561.5 1288.6h0M560.6 1264.9h0M559.4 1266.7h0M560.4 1278h0M560.5 1272.9h0M560 1268.6h0M563 1288.6h0M562.4 1290h0M561.5 1279.3h0M560.3 1283.3h0M562.8 1273.5h0M563 1285.9h0M562.8 1289.6h0M564.8 1283.3h0M566.9 1288.3h0M565.4 1304.1h0M563.5 1271.8h0M564.1 1287.4h0M565.9 1296.3h0M566.2 1281.7h0M564.1 1266.1h0M566.5 1286.6h0M565.1 1268.1h0M564.1 1265.9h0M565.7 1266.1h0M565.1 1274.8h0M564.5 1265.7h0M566.1 1270.1h0M563.6 1290.8h0M565.5 1277.5h0M565.5 1298.1h0M563 1265.2h0M564.3 1267.2h0M566.6 1301.9h0M563 1272.4h0M565.1 1277.6h0M565.5 1296.8h0M563.6 1283.4h0M565.7 1267.7h0M564.3 1281h0M565.9 1303.3h0M566.2 1285.1h0M565.7 1290.3h0M565.7 1292.6h0M564.4 1281.1h0M569.5 1286.3h0M569.4 1296.6h0M568.9 1270.7h0M567.5 1283.2h0M566.7 1279.5h0M568.4 1265.2h0M569.5 1273.3h0M568.7 1271.6h0M569.2 1279.3h0M569.7 1279.4h0M569.3 1285.2h0M569.5 1301.6h0M568.2 1292.5h0M569.3 1272.8h0M570 1292h0M567.7 1266h0M568.4 1305.5h0M567.8 1275.5h0M568 1266h0M570 1290.4h0M569.3 1265.7h0M570.3 1305h0M566.5 1267.1h0M567.8 1274.1h0M568.7 1298.6h0M568.9 1271.5h0M568.5 1283h0M568.7 1300.3h0M567.6 1302.7h0M567.9 1280.5h0M571.2 1289.6h0M570.6 1269.6h0M570.8 1282.6h0M570.4 1275.5h0M572.7 1305h0M573.3 1283.6h0M571.8 1267.3h0M573.6 1288.1h0M570.8 1286.6h0M573 1302.6h0M571.9 1270.2h0M573.5 1292.3h0M573.4 1307.2h0M571 1288.7h0M573.4 1285.2h0M573.2 1296.3h0M571.9 1266.6h0M571.3 1284.2h0M571.8 1302.6h0M573.5 1306.1h0M570.2 1275.5h0M570.3 1273.2h0M573.4 1287.3h0M571.3 1281.7h0M573 1272.9h0M570.9 1283.9h0M571.6 1265.4h0M572.1 1290.7h0M573.2 1282.6h0M572.5 1265.5h0M572.8 1280.4h0M573.4 1275.3h0M571.3 1296h0M570.7 1277.6h0M572.8 1279.8h0M573.5 1284.6h0M573.1 1289.6h0M572.2 1273.8h0M574.7 1292.2h0M576.1 1300.1h0M574.9 1276.1h0M575.7 1283.9h0M575.7 1266.1h0M575.2 1270.6h0M575 1266.6h0M574.4 1291.2h0M576.3 1273.2h0M574 1270.8h0M575.1 1272.4h0M577.1 1295.2h0M575.2 1297.8h0M576.2 1267.4h0M574.1 1271.3h0M574.9 1291.2h0M576.8 1275.8h0M576.4 1268h0M575.7 1294.7h0M576 1272.3h0M576.5 1268.2h0M577.2 1295.1h0M576.1 1280.8h0M576.3 1267.8h0M576 1289.5h0M576.6 1270.7h0M575.4 1287.3h0M577.4 1300.9h0M575.6 1302.9h0M575 1288.4h0M574.9 1275.2h0M576.6 1306.2h0M580.3 1292h0M578.6 1288h0M577.9 1274.2h0M577.1 1277.9h0M579.8 1284.7h0M579.9 1269.5h0M578.5 1290.1h0M578.1 1273h0M579 1266.1h0M576.7 1266h0M577.1 1271.7h0M579.8 1287.8h0M577.4 1289.9h0M578.6 1269h0M578.4 1288.8h0M577.7 1295.6h0M579.1 1272.3h0M576.7 1265.9h0M579.5 1302.5h0M578.3 1269.1h0M578.4 1272.9h0M578.9 1276.8h0M577.6 1304.5h0M577.8 1269.9h0M579.1 1298.1h0M577.4 1272h0M577.7 1270.9h0M577.2 1272.5h0M578.2 1279.7h0M579.7 1296.9h0M579.1 1288.2h0M577.8 1283h0M579.5 1280.6h0M579.9 1275.2h0M581.8 1270.5h0M583.1 1284.1h0M582.4 1293.1h0M580.2 1268.5h0M582.9 1279.4h0M580.3 1280.8h0M583.3 1289.2h0M581.7 1281.5h0M581 1283.5h0M580.7 1266.4h0M582.9 1269.9h0M581.3 1267.4h0M580.9 1294.7h0M581 1293.5h0M580.5 1267.6h0M581.3 1269h0M582.3 1278.4h0M582.9 1277.1h0M580.4 1289.2h0M580.3 1270h0M581.1 1276h0M583.3 1286.7h0M580.2 1272.7h0M583.3 1266h0M580.3 1284.7h0M582.6 1276.1h0M582.4 1281.4h0M583.1 1284.4h0M580.4 1286.9h0M583.5 1287.8h0M583.4 1268.3h0M582.9 1292.1h0M582.6 1276.6h0M583 1280.3h0M582.6 1267.3h0M582.1 1273.4h0M580.6 1293h0M583.5 1293.9h0M581.9 1281.3h0M581.8 1272.2h0M580.9 1280.3h0" stroke="url(#cm)" stroke-width="2.80" stroke-linecap="round" fill="none"/>
</g>
<use href="#deco" transform="translate(0.228 1081.375) scale(0.9978 0.87980)"/>
</svg></body></html>
